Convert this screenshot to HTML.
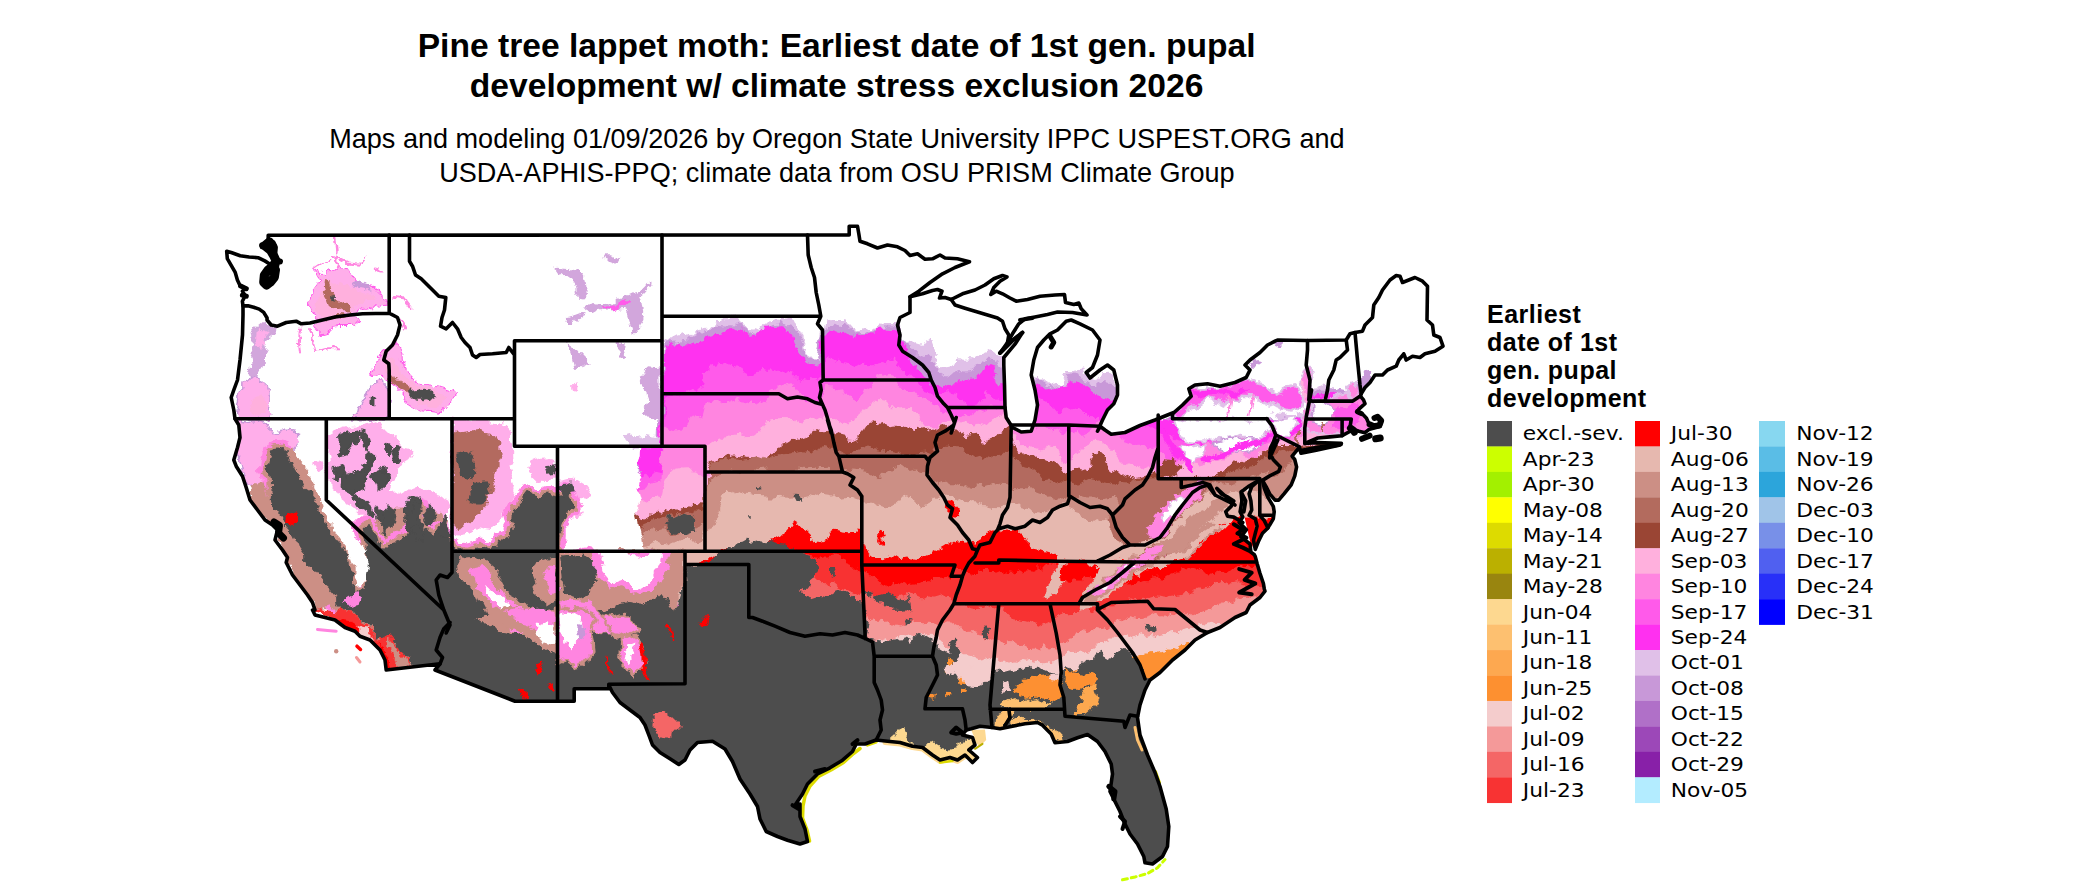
<!DOCTYPE html>
<html><head><meta charset="utf-8"><title>Pine tree lappet moth</title>
<style>
html,body{margin:0;padding:0;background:#fff;}
body{width:2100px;height:892px;overflow:hidden;position:relative;}
svg{position:absolute;left:0;top:0;display:block;}
.t{font-family:"Liberation Sans",Arial,Helvetica,sans-serif;fill:#000;}
.ttl{font-weight:bold;font-size:33.6px;text-anchor:middle;}
.sub{font-size:27.07px;text-anchor:middle;}
.lt{font-weight:bold;font-size:25px;letter-spacing:0.5px;}
.ll{font-family:"DejaVu Sans","Liberation Sans",sans-serif;font-size:20.2px;letter-spacing:0.0px;fill:#000;}
.b{fill:none;stroke:#000;stroke-width:3.6;stroke-linejoin:round;stroke-linecap:round;}
</style></head><body>
<svg width="2100" height="892" viewBox="0 0 2100 892">
<rect width="2100" height="892" fill="#fff"/>
<defs><clipPath id="us"><path d="M226.7,251.3L231.2,252.5L240.2,255.8L249.1,257.0L258.1,257.7L264.8,260.9L269.3,263.7L272.7,266.5L268.2,269.8L263.7,275.4L262.6,282.2L266.0,286.7L270.4,283.3L274.9,277.7L276.6,269.8L278.3,262.0L276.1,256.4L273.8,251.9L274.9,245.2L271.6,241.8L268.2,238.5L268.2,235.3L725.0,235.0L849.2,235.0L849.2,226.2L857.5,226.2L858.8,233.8L860.0,241.2L867.5,243.8L877.5,248.0L887.5,245.0L897.5,246.8L905.0,250.5L910.0,255.5L917.5,253.8L925.0,259.2L932.5,258.8L940.0,255.0L945.0,258.0L957.5,258.8L969.5,261.8L955.0,267.5L942.5,273.8L930.0,282.5L918.8,291.2L910.0,296.8L922.5,293.8L932.5,290.5L937.5,289.5L942.0,291.2L939.5,298.0L945.0,297.5L951.2,299.5L962.5,293.8L975.0,290.0L985.0,285.0L993.8,278.8L1002.5,275.5L1007.0,277.0L1000.0,281.2L993.8,287.5L990.8,294.5L996.2,291.2L1002.5,293.8L1010.0,298.0L1016.2,301.2L1027.5,299.5L1040.0,296.2L1055.0,295.0L1064.5,294.5L1065.5,302.5L1073.8,304.5L1078.8,303.0L1081.2,308.8L1087.0,315.0L1072.5,312.5L1057.5,312.0L1047.5,314.5L1035.0,317.0L1025.0,318.8L1018.8,323.8L1012.5,333.8L1007.5,342.5L1000.0,353.0L1012.5,340.5L1022.5,332.5L1015.0,344.2L1003.8,357.5L1003.8,365.0L1004.5,385.0L1005.0,407.5L1006.2,417.5L1012.5,427.5L1021.2,432.0L1031.2,431.2L1035.0,420.0L1037.5,405.0L1035.0,390.0L1031.2,375.0L1033.8,360.0L1037.5,347.5L1043.8,340.0L1050.0,333.8L1057.5,330.0L1066.2,321.2L1071.2,320.0L1080.0,323.8L1092.5,330.0L1100.0,340.0L1097.5,355.0L1092.5,367.5L1086.2,372.5L1090.0,378.0L1100.0,370.0L1107.5,365.0L1113.8,370.0L1117.5,385.0L1117.5,395.0L1113.8,403.8L1107.5,410.0L1102.5,420.0L1097.5,431.2L1100.0,426.2L1105.0,430.0L1111.2,434.2L1125.0,432.5L1140.0,425.5L1155.0,420.0L1173.8,412.5L1172.5,413.8L1182.5,405.0L1191.2,396.2L1188.8,388.8L1195.0,385.0L1207.5,383.8L1220.0,386.2L1235.0,382.5L1246.2,377.5L1250.0,370.0L1245.0,365.0L1250.0,360.0L1260.0,352.5L1267.5,345.0L1275.0,341.2L1277.5,340.0L1307.5,340.5L1346.2,340.0L1350.0,333.8L1355.0,332.5L1362.5,331.2L1365.0,325.0L1372.5,317.5L1373.8,305.0L1378.8,297.5L1382.5,290.0L1390.0,280.0L1396.2,275.5L1400.0,276.2L1402.5,282.5L1415.0,277.5L1422.5,281.2L1427.5,286.2L1427.0,320.0L1432.5,325.0L1433.8,335.0L1440.0,337.5L1443.0,346.2L1435.0,351.2L1425.0,353.8L1420.0,357.5L1412.5,356.2L1406.2,360.0L1403.8,353.8L1398.8,360.0L1396.2,366.2L1387.5,370.0L1382.5,375.0L1375.0,375.0L1370.0,382.5L1365.0,387.5L1361.2,393.8L1360.4,396.1L1363.5,399.9L1365.0,403.7L1358.9,409.1L1357.4,412.1L1362.0,413.6L1366.5,418.2L1368.8,423.5L1374.1,425.8L1379.5,425.1L1381.0,420.5L1377.2,416.7L1381.0,420.5L1380.2,426.6L1374.1,428.1L1368.8,429.6L1365.0,432.7L1358.9,431.2L1354.3,429.6L1349.8,431.5L1342.1,435.7L1329.9,436.9L1317.7,438.0L1304.8,443.4L1316.2,442.6L1341.4,443.4L1339.1,445.3L1316.2,450.2L1301.0,453.3L1299.5,447.2L1292.1,456.1L1294.8,459.7L1296.6,466.9L1294.8,475.9L1291.2,484.8L1284.0,493.8L1278.7,500.1L1275.1,500.1L1269.7,493.8L1266.1,486.6L1262.5,480.4L1264.3,488.4L1267.9,497.4L1273.3,506.4L1274.2,511.7L1273.3,518.9L1267.9,527.9L1262.5,533.3L1258.9,540.4L1255.3,549.4L1253.5,540.4L1257.1,526.1L1255.3,518.9L1249.1,515.3L1251.7,510.0L1250.9,501.0L1249.1,493.8L1251.7,486.6L1258.9,480.4L1248.2,486.6L1241.0,492.0L1241.9,501.0L1240.1,511.7L1242.8,517.1L1239.2,522.5L1246.4,529.7L1241.0,536.9L1250.0,544.0L1250.9,552.1L1254.4,554.8L1255.3,556.6L1257.1,563.4L1259.8,572.7L1263.4,583.5L1264.3,588.9L1265.0,591.2L1260.0,597.5L1250.0,605.0L1246.2,612.5L1235.0,617.5L1220.0,627.5L1207.5,632.5L1195.0,640.0L1185.0,650.0L1172.5,660.0L1160.0,672.5L1150.0,680.0L1145.0,690.0L1140.0,705.0L1137.5,717.5L1140.0,735.0L1147.5,755.0L1155.0,772.5L1160.0,786.5L1166.2,809.0L1168.8,826.5L1167.5,846.5L1162.5,856.5L1152.5,864.0L1145.0,862.8L1143.8,856.5L1137.5,844.0L1130.0,834.0L1123.8,821.5L1120.0,811.5L1115.0,801.5L1110.0,791.5L1112.5,774.0L1111.2,764.0L1105.0,751.5L1097.5,741.5L1087.5,734.5L1077.5,737.8L1067.5,741.5L1055.0,742.8L1051.2,734.0L1042.5,725.2L1037.5,722.5L1025.0,723.8L1012.5,726.2L1000.0,728.8L992.0,727.5L980.0,726.2L971.2,728.8L966.2,730.0L962.5,735.0L972.5,737.5L975.0,745.0L968.8,750.0L977.5,757.5L972.5,762.5L965.0,755.0L957.5,760.0L950.0,757.5L940.0,760.0L932.5,755.0L922.5,747.5L912.5,746.2L900.0,742.5L887.5,741.2L876.2,740.0L865.0,744.0L856.2,744.0L852.5,751.5L842.5,760.2L830.0,767.8L817.5,774.0L807.5,784.0L802.5,794.0L795.0,805.2L800.0,804.0L800.0,816.5L805.0,829.0L807.5,841.5L800.0,844.0L787.5,840.2L777.5,836.5L766.2,831.5L760.0,819.0L757.5,806.5L750.0,794.0L740.0,779.0L732.5,761.5L725.0,749.0L712.5,741.2L697.5,742.5L690.0,750.0L685.0,760.0L678.8,764.5L670.0,758.8L660.0,752.5L652.5,745.0L648.8,735.0L645.0,725.0L640.0,717.5L630.0,710.0L620.0,702.5L612.5,692.5L608.8,685.0L608.8,688.8L574.2,688.8L574.2,701.2L557.5,701.2L515.0,701.2L435.0,670.0L440.0,663.8L386.2,670.0L385.0,660.0L380.0,650.0L370.0,640.0L360.0,636.2L355.0,631.2L345.0,627.5L335.0,620.0L325.0,617.5L315.0,615.0L312.5,610.0L315.0,610.0L312.5,602.5L307.5,595.0L300.0,585.0L292.5,575.0L286.2,562.5L287.5,557.5L282.5,550.0L275.0,540.0L277.5,530.0L272.5,525.0L265.0,520.0L257.5,510.0L250.0,500.0L246.2,487.5L242.5,476.2L236.2,466.2L233.8,460.0L237.5,447.5L240.0,437.5L238.8,425.0L235.0,418.8L233.8,410.0L231.2,397.5L233.8,390.0L237.5,380.0L240.0,360.0L242.5,335.0L243.0,315.0L243.0,305.9L242.4,301.2L245.2,295.6L242.4,291.1L246.0,288.5L240.0,285.5L237.4,279.9L235.1,272.1L231.2,265.4L227.3,258.6Z"/></clipPath></defs>
<filter id="rg" x="0" y="0" width="100%" height="100%" filterUnits="userSpaceOnUse"><feTurbulence type="fractalNoise" baseFrequency="0.045" numOctaves="2" seed="3" result="n"/><feDisplacementMap in="SourceGraphic" in2="n" scale="13" xChannelSelector="R" yChannelSelector="G" result="d1"/><feTurbulence type="fractalNoise" baseFrequency="0.22" numOctaves="1" seed="11" result="n2"/><feDisplacementMap in="d1" in2="n2" scale="6" xChannelSelector="G" yChannelSelector="R"/></filter>
<g clip-path="url(#us)"><rect x="150" y="200" width="1350" height="700" fill="#fff"/><g filter="url(#rg)">
<path d="M635.9,900.0L635.6,442.6L640.3,441.1L644.1,441.2L647.1,440.6L651.1,439.3L655.1,437.2L659.8,439.3L663.2,339.3L668.3,341.1L672.2,337.8L677.0,335.3L680.7,335.2L683.3,333.3L687.6,334.9L691.4,332.8L696.3,330.8L700.1,328.1L703.1,327.1L708.4,326.4L711.6,325.5L715.9,322.9L720.6,323.1L723.5,321.3L728.1,321.2L732.5,318.1L737.0,317.3L739.8,319.8L743.3,323.4L747.1,328.3L752.5,328.5L756.8,328.2L760.4,330.0L764.2,328.1L768.7,325.4L771.9,321.7L775.1,321.5L780.3,322.2L784.6,319.1L787.8,320.7L791.0,319.8L795.3,320.0L799.1,328.6L803.3,338.5L807.8,352.0L811.2,354.3L816.1,360.0L820.6,341.5L823.6,315.9L827.7,318.9L832.9,317.5L835.4,318.8L839.5,319.3L844.2,317.9L847.0,321.8L851.7,326.9L856.9,330.4L860.0,328.6L864.4,324.8L868.8,327.7L872.7,328.3L875.8,326.8L879.2,326.8L883.1,323.5L887.4,323.9L891.7,323.9L895.0,324.7L899.2,337.4L903.1,345.7L908.2,343.6L911.5,345.1L915.7,344.2L920.7,345.7L923.9,341.7L927.2,339.7L931.7,340.3L936.7,354.6L939.0,371.8L944.1,368.6L948.1,368.1L952.1,366.9L956.7,358.5L959.5,358.2L963.3,360.8L968.1,360.4L971.7,357.1L976.6,358.7L980.7,355.0L984.6,351.7L987.5,350.7L991.7,349.5L995.1,351.3L999.5,355.8L1004.9,358.4L1008.9,363.4L1012.9,363.7L1015.4,366.1L1019.4,368.8L1024.2,373.6L1028.7,373.9L1032.3,377.2L1035.2,378.3L1040.8,379.6L1044.5,379.2L1047.4,381.2L1051.7,381.7L1056.9,380.4L1059.8,383.0L1064.4,375.4L1067.3,370.9L1072.8,371.0L1075.3,370.6L1081.0,369.4L1083.7,373.6L1087.3,375.7L1092.9,379.6L1096.1,380.2L1099.9,374.0L1104.7,370.3L1107.5,369.7L1111.5,374.3L1115.5,380.7L1119.3,386.6L1123.7,388.8L1128.2,394.6L1131.8,398.7L1136.0,401.1L1140.0,403.1L1143.9,405.1L1147.0,409.0L1151.3,409.1L1156.5,410.8L1159.7,412.1L1164.1,413.1L1167.2,412.2L1171.5,411.1L1176.5,412.0L1180.1,413.0L1184.8,411.8L1188.2,412.0L1192.0,412.8L1195.9,412.1L1200.0,413.8L1204.4,413.5L1208.9,411.0L1212.1,413.8L1216.7,410.5L1219.2,411.8L1223.1,411.0L1227.1,412.7L1232.6,413.6L1235.3,412.9L1240.3,410.6L1244.8,413.9L1247.4,413.8L1251.8,411.9L1257.0,413.3L1259.3,411.7L1264.0,411.4L1267.4,411.3L1272.4,410.1L1276.1,411.8L1279.0,411.3L1284.2,412.0L1287.1,413.9L1292.6,413.9L1295.2,411.1L1299.1,413.1L1303.5,401.7L1307.8,396.0L1312.6,389.0L1315.3,391.7L1320.1,390.8L1323.2,388.2L1328.4,389.7L1331.1,391.8L1336.3,391.2L1339.2,391.4L1343.1,391.5L1347.9,389.4L1352.1,391.7L1355.5,388.5L1360.1,389.0L1363.2,388.6L1367.1,388.8L1371.6,389.2L1376.5,389.2L1380.0,388.7L1383.7,388.1L1387.5,388.1L1392.5,390.2L1395.4,389.9L1400.9,388.4L1404.6,389.7L1408.0,391.3L1411.8,390.0L1416.4,391.9L1420.0,900.0Z" fill="#e0c0e8"/>
<path d="M635.9,900.0L635.7,450.7L640.4,449.0L643.8,446.5L647.1,444.1L651.1,445.1L655.5,441.7L659.2,443.4L664.7,343.7L667.6,341.2L671.6,341.3L675.3,340.6L679.5,341.9L684.9,339.0L687.5,339.3L691.6,335.2L695.0,333.5L699.9,332.2L703.4,330.6L707.0,328.3L711.2,327.8L715.1,325.6L719.6,325.9L724.2,326.5L728.5,326.3L732.4,326.5L735.8,323.6L741.0,322.0L744.4,329.1L747.1,332.4L752.8,332.3L756.5,333.1L759.3,332.2L764.0,332.4L768.6,329.2L772.2,327.3L776.4,326.1L779.5,322.8L783.3,323.8L787.2,326.2L792.1,326.0L796.3,331.3L800.0,334.9L804.6,346.8L808.0,354.4L812.3,356.5L816.5,361.3L819.1,349.1L824.5,324.7L828.5,325.5L832.0,324.7L836.0,326.9L840.5,325.9L844.3,323.1L847.3,326.5L852.5,330.6L856.1,332.3L859.1,332.7L864.3,333.5L868.4,331.2L872.0,331.1L875.9,328.5L880.8,327.0L885.0,328.2L887.0,325.8L892.6,328.0L895.9,325.6L899.4,341.8L903.4,345.8L907.3,348.0L912.9,349.2L916.6,353.4L920.8,355.5L923.5,356.7L928.0,354.4L931.0,357.6L935.9,366.4L939.3,376.0L943.6,378.2L947.0,378.2L952.7,373.2L956.9,371.5L960.8,370.0L963.7,370.4L969.0,370.3L971.7,368.3L975.6,364.9L979.2,364.6L983.6,361.7L987.5,356.5L992.0,358.5L995.7,367.3L1000.8,370.2L1004.3,372.9L1008.9,373.1L1012.4,372.6L1016.5,375.6L1020.5,377.8L1023.6,375.6L1028.9,376.3L1031.9,378.0L1035.6,380.5L1041.0,379.7L1044.3,381.5L1048.1,383.3L1051.3,383.0L1055.4,386.0L1060.0,383.0L1064.8,382.5L1067.9,375.5L1071.4,373.5L1075.7,373.7L1079.5,374.8L1084.1,381.5L1088.5,383.7L1091.8,386.1L1095.8,386.0L1099.1,383.0L1104.9,382.1L1108.0,383.7L1112.7,383.8L1115.5,387.6L1119.8,390.6L1124.9,395.0L1128.7,394.8L1131.1,400.8L1136.8,403.3L1140.2,404.7L1143.8,410.3L1148.7,411.7L1152.9,410.8L1155.2,411.9L1160.0,415.5L1164.9,415.7L1168.3,416.2L1171.9,415.8L1175.1,417.4L1179.5,418.5L1184.3,416.5L1187.3,416.5L1192.3,418.2L1195.2,415.2L1200.0,416.5L1203.8,414.3L1208.2,412.7L1211.6,414.0L1216.9,414.5L1220.8,413.9L1223.5,413.1L1228.9,415.2L1231.6,412.6L1236.0,415.3L1239.8,413.4L1244.3,415.8L1247.5,411.9L1251.7,413.2L1256.4,412.3L1260.6,414.8L1264.0,413.3L1268.9,414.5L1272.6,415.0L1275.4,417.8L1279.6,419.0L1284.0,416.1L1287.4,416.8L1292.3,418.5L1295.3,415.8L1299.4,417.6L1303.3,404.6L1307.1,396.8L1312.8,394.3L1316.5,394.9L1320.9,392.4L1323.4,394.8L1328.5,390.9L1332.3,391.8L1335.7,391.0L1339.3,389.1L1343.6,390.0L1348.9,388.9L1352.9,389.3L1355.7,392.2L1360.6,391.3L1363.1,392.3L1367.7,394.8L1371.4,393.1L1376.8,392.0L1379.8,395.2L1384.5,391.9L1387.1,391.8L1392.8,392.3L1396.5,394.9L1399.7,392.5L1404.9,394.2L1407.5,394.9L1411.6,393.4L1415.0,395.3L1420.0,900.0Z" fill="#c898d8"/>
<path d="M635.9,900.0L636.8,452.5L640.9,448.7L643.5,449.0L648.9,449.5L651.8,445.8L655.9,446.4L660.9,444.7L664.6,346.7L668.6,346.4L672.2,344.2L675.6,343.9L680.6,342.3L683.4,344.1L687.5,340.4L691.1,341.4L695.7,342.2L700.8,341.3L703.5,336.8L707.2,337.5L712.4,336.5L715.5,335.3L720.2,335.0L724.5,334.4L728.3,330.2L732.7,329.3L736.1,328.0L740.5,325.6L743.5,331.9L747.3,335.4L752.2,334.2L755.8,336.1L760.0,332.1L764.6,332.4L769.0,328.2L771.9,329.0L776.7,329.2L779.1,326.7L783.2,327.4L788.9,332.0L792.9,334.1L796.7,345.3L799.5,354.2L804.9,356.5L808.2,363.4L811.4,365.3L815.3,367.7L819.5,363.7L824.3,336.8L827.0,330.8L832.4,332.2L835.6,333.6L840.6,333.9L843.1,331.2L847.8,334.2L852.3,334.4L855.3,338.0L859.8,335.4L863.6,337.1L867.6,333.8L871.7,331.2L876.7,331.7L879.7,327.5L884.5,326.6L887.0,329.7L891.8,330.2L895.8,331.2L899.9,343.7L903.0,349.2L908.3,354.6L911.2,358.5L915.7,364.0L919.3,369.1L924.0,375.7L927.2,378.0L932.6,383.4L935.4,383.0L940.9,389.4L944.0,384.7L948.9,385.1L952.8,384.7L956.6,381.2L960.6,379.9L963.8,381.1L968.7,377.6L971.4,377.7L976.0,376.3L979.2,372.7L984.4,372.3L987.1,365.7L992.5,367.7L996.7,379.5L1000.2,385.2L1004.3,385.2L1007.8,387.3L1011.9,388.6L1015.9,388.8L1019.0,390.5L1024.0,387.8L1028.5,388.8L1031.9,385.3L1035.9,383.9L1039.3,385.2L1043.2,386.1L1048.0,385.3L1052.3,385.3L1056.5,387.1L1060.0,383.2L1064.0,382.5L1068.9,379.5L1072.7,382.5L1076.5,382.8L1079.4,384.4L1084.0,387.3L1088.8,387.2L1092.6,392.7L1095.1,392.4L1100.5,393.6L1104.8,396.1L1108.6,397.6L1112.0,402.2L1115.4,400.6L1120.0,401.8L1123.1,402.7L1127.3,407.2L1132.4,408.6L1135.3,409.6L1139.2,410.1L1144.3,411.2L1148.7,413.8L1152.2,416.9L1155.2,419.2L1160.3,418.6L1164.6,418.1L1169.0,419.3L1171.7,420.1L1175.9,417.7L1180.5,417.2L1184.6,418.0L1188.3,420.9L1192.2,419.7L1195.6,417.0L1199.1,417.6L1204.2,418.7L1208.0,420.6L1211.3,417.9L1216.3,417.1L1219.0,418.4L1223.2,418.4L1227.4,419.3L1232.2,417.8L1236.2,418.9L1239.3,420.7L1243.5,417.6L1247.2,419.6L1252.7,420.1L1255.8,418.1L1259.0,419.6L1264.1,418.4L1268.3,418.8L1272.9,419.9L1275.5,420.6L1279.1,419.1L1283.8,418.0L1287.1,420.1L1291.0,419.2L1296.9,417.6L1299.4,419.4L1304.0,410.4L1308.6,399.3L1311.6,395.2L1315.1,397.6L1320.6,396.9L1323.0,397.4L1328.5,395.9L1332.5,395.8L1335.5,394.4L1339.5,394.2L1343.7,397.0L1348.4,397.4L1352.4,395.1L1356.1,395.7L1360.6,396.1L1363.5,396.6L1368.9,394.9L1372.8,394.1L1375.5,394.9L1380.5,397.8L1384.5,395.3L1388.8,395.3L1391.5,397.6L1396.3,396.8L1400.3,397.9L1403.9,397.4L1408.4,397.4L1411.9,396.9L1416.1,395.2L1420.0,900.0Z" fill="#ff30f0"/>
<path d="M635.9,900.0L635.4,470.0L639.2,474.4L643.3,471.5L647.2,476.4L651.7,472.2L655.1,470.7L660.4,471.9L664.4,400.3L667.1,397.5L671.7,397.1L676.6,396.5L679.1,396.2L684.8,396.2L687.2,392.0L691.2,390.2L696.7,392.3L700.3,389.9L704.3,384.2L707.2,368.3L712.5,366.1L715.6,365.1L719.0,363.1L723.6,365.4L727.7,364.3L732.9,366.3L736.7,367.9L739.1,367.6L743.9,374.6L747.7,375.2L752.1,373.3L756.7,372.1L760.6,371.1L763.0,369.7L768.5,372.1L771.0,368.8L776.0,370.8L779.4,369.3L783.7,371.1L787.5,372.5L791.6,368.7L796.4,374.9L799.2,377.9L803.2,379.4L808.4,380.6L812.3,378.9L815.8,380.8L820.8,376.4L824.8,359.8L827.4,358.2L832.8,362.2L835.8,365.8L839.5,363.1L844.1,364.0L848.5,365.1L851.7,365.4L855.3,369.2L860.3,367.4L863.3,365.6L868.5,366.3L871.3,366.0L876.8,364.6L879.4,364.1L884.4,365.2L887.3,360.3L891.5,359.3L896.0,356.5L899.7,365.3L905.0,370.2L907.2,374.4L911.2,375.6L917.0,382.4L920.5,385.2L923.4,389.2L927.2,389.7L931.8,390.6L935.8,394.8L940.4,393.8L944.3,392.2L947.3,392.7L951.8,394.7L956.8,395.9L960.1,400.0L963.8,399.7L968.4,404.3L972.5,403.6L976.7,402.4L980.3,398.9L983.6,396.8L987.2,390.3L992.6,392.8L996.3,397.4L999.8,400.7L1004.2,400.2L1008.4,402.2L1011.4,408.2L1016.6,409.0L1020.0,411.5L1023.1,406.9L1027.3,405.0L1032.9,400.8L1035.2,399.0L1040.1,399.9L1044.0,401.7L1048.7,404.2L1051.8,408.5L1055.4,408.8L1059.8,413.8L1063.2,416.5L1067.7,410.6L1071.5,410.4L1075.0,409.5L1079.8,411.9L1083.7,411.9L1087.4,416.0L1092.9,416.3L1095.4,418.3L1099.8,416.7L1103.3,422.3L1108.6,425.8L1111.9,426.1L1115.5,427.6L1119.7,424.6L1124.6,424.2L1127.9,420.9L1132.1,420.3L1136.7,422.7L1140.7,424.1L1143.8,426.4L1147.9,428.4L1151.0,432.4L1155.6,432.0L1159.6,434.9L1163.9,435.9L1168.3,434.6L1172.9,436.9L1175.1,437.3L1180.8,438.5L1183.3,440.7L1188.3,438.9L1191.0,445.7L1196.3,443.5L1199.2,443.2L1203.5,445.4L1207.7,440.3L1212.8,441.0L1215.3,438.9L1220.2,435.7L1224.3,434.1L1228.6,432.5L1231.4,431.2L1236.1,431.3L1239.9,431.8L1244.1,428.2L1247.5,426.8L1252.0,425.0L1255.9,423.8L1260.0,424.1L1264.1,424.9L1267.0,424.7L1271.9,424.2L1276.3,427.5L1279.7,427.9L1284.9,428.7L1288.3,433.4L1291.1,434.4L1296.4,436.4L1299.7,436.0L1304.0,425.4L1308.8,414.8L1312.4,413.1L1315.7,413.3L1319.7,411.1L1324.1,412.8L1327.4,411.3L1331.8,411.9L1336.7,409.9L1340.7,409.0L1344.0,406.2L1348.0,407.3L1352.3,404.2L1355.7,400.4L1359.6,401.3L1364.3,403.1L1367.1,404.6L1372.8,406.1L1375.1,407.4L1379.0,409.0L1384.8,412.5L1388.3,413.9L1392.8,412.8L1396.2,412.2L1400.4,411.4L1404.4,409.2L1408.3,410.7L1412.5,409.7L1415.4,410.6L1420.0,900.0Z" fill="#ff5aea"/>
<path d="M635.9,900.0L636.5,493.2L640.3,490.0L644.6,489.4L648.1,483.7L651.6,482.3L655.6,481.1L660.3,483.1L663.1,433.2L667.1,430.6L672.6,432.0L676.8,429.6L679.0,426.8L684.2,426.3L689.0,420.8L691.8,416.3L696.3,415.2L699.3,414.1L703.0,418.5L707.2,401.4L711.2,403.1L715.3,400.6L720.4,402.5L724.5,402.0L727.1,403.7L732.4,402.1L736.5,396.1L740.3,397.9L743.9,402.0L747.5,403.4L752.4,400.9L755.0,406.0L760.6,403.1L763.6,404.3L767.3,401.5L772.0,393.2L775.7,391.5L779.9,387.1L783.3,383.8L787.7,381.9L792.3,380.9L795.8,388.2L800.9,393.2L804.1,394.8L807.1,402.0L812.4,402.6L815.7,402.3L821.0,400.4L824.2,384.9L827.9,384.7L831.8,385.4L836.2,388.5L840.6,387.3L843.0,390.2L847.8,396.9L852.6,402.0L855.1,402.6L860.6,398.1L864.1,390.0L868.7,387.3L872.4,383.2L875.7,375.1L880.1,375.7L883.4,374.4L888.9,372.4L892.2,375.9L895.9,374.7L899.5,385.3L904.6,386.7L907.2,390.7L912.5,389.4L916.2,394.1L920.8,394.0L924.0,396.4L927.4,398.2L931.4,405.4L935.7,408.3L939.8,411.8L943.3,411.0L949.0,413.8L951.2,416.2L956.6,414.9L960.2,414.9L964.0,411.6L967.1,414.0L972.7,409.2L976.1,406.8L980.6,407.5L984.9,409.6L988.6,408.1L991.5,404.3L995.4,408.7L999.2,407.3L1004.1,407.2L1007.9,402.6L1012.8,408.0L1016.2,412.8L1019.2,417.0L1023.5,416.7L1028.3,420.8L1032.3,420.3L1035.9,421.4L1040.9,428.5L1043.4,426.5L1047.5,429.5L1052.8,431.3L1056.7,425.3L1060.6,433.0L1064.3,436.2L1067.1,431.1L1072.5,433.8L1076.4,430.5L1080.2,435.7L1083.2,435.5L1087.5,433.6L1092.0,430.5L1095.5,425.0L1100.4,420.1L1104.4,420.7L1107.1,428.9L1111.4,430.9L1116.7,433.7L1119.3,434.7L1123.2,440.5L1128.7,442.4L1131.9,443.6L1136.6,446.1L1140.3,444.9L1143.4,444.1L1148.4,446.0L1151.3,446.3L1155.5,445.6L1159.3,448.1L1164.7,451.8L1167.3,456.0L1171.6,460.0L1175.2,461.6L1179.1,461.1L1184.3,456.3L1188.0,454.3L1191.5,450.8L1195.7,451.7L1201.0,448.8L1203.2,444.0L1208.8,442.4L1212.5,444.0L1217.0,443.5L1220.6,445.1L1223.3,442.3L1228.7,443.1L1231.4,440.3L1236.8,436.5L1240.1,433.7L1243.4,435.3L1248.4,432.5L1251.2,433.1L1256.2,437.2L1259.5,438.3L1264.2,443.0L1268.6,443.7L1271.4,441.3L1276.5,441.9L1280.4,438.3L1284.6,437.2L1288.7,437.3L1292.0,431.3L1296.8,433.1L1300.7,432.4L1303.4,430.9L1307.7,423.4L1311.7,423.2L1315.0,422.0L1319.9,420.2L1323.2,418.8L1328.6,416.7L1331.6,413.4L1335.8,411.9L1339.1,412.0L1344.9,411.0L1348.0,413.3L1352.1,413.6L1356.9,417.8L1359.4,419.7L1363.5,424.9L1367.1,421.7L1372.4,421.7L1375.0,422.7L1380.2,421.3L1384.4,418.7L1388.7,421.9L1391.1,419.7L1396.0,422.8L1399.6,421.9L1403.8,422.4L1408.2,425.4L1411.3,422.2L1416.5,417.4L1420.0,900.0Z" fill="#ff85e0"/>
<path d="M635.9,900.0L636.7,501.8L639.8,501.9L644.7,502.5L647.8,504.2L652.6,500.4L655.5,499.2L659.9,500.5L664.6,477.7L668.6,474.6L671.1,470.3L676.9,470.5L679.5,467.3L684.3,467.4L688.1,467.3L691.9,471.3L695.0,471.5L700.9,476.1L704.9,476.1L708.6,445.4L712.8,439.6L716.3,438.8L720.4,436.6L724.1,438.1L728.2,433.5L732.0,433.9L736.9,433.1L739.6,435.7L743.2,437.2L748.9,436.8L751.5,436.3L756.1,433.9L759.2,430.4L763.6,426.9L767.6,421.8L771.2,420.3L776.7,419.2L780.1,418.0L783.4,417.9L787.9,418.5L792.2,419.2L795.6,420.6L799.4,423.1L803.8,423.6L807.0,422.0L812.7,419.4L816.1,419.7L819.6,421.6L823.6,416.6L827.3,414.3L832.7,419.4L835.1,421.4L839.9,423.9L843.2,421.8L848.9,425.9L851.3,422.8L855.7,421.0L860.2,413.6L864.6,405.8L868.5,403.3L872.5,401.1L876.6,402.5L880.8,400.0L884.7,400.7L888.5,404.6L892.0,406.5L896.1,402.7L900.6,406.8L904.2,405.9L907.9,408.7L912.4,410.6L915.8,414.9L919.8,417.2L924.6,423.5L928.0,425.5L931.4,427.8L935.3,428.4L940.2,423.9L944.8,421.9L948.7,421.7L952.9,418.1L955.9,423.8L959.0,421.1L964.1,424.8L968.8,426.6L972.1,427.5L976.0,424.9L980.4,424.8L983.7,425.8L987.7,424.0L992.4,419.3L995.2,418.0L999.8,417.9L1004.1,416.8L1008.9,412.2L1011.9,433.2L1017.0,440.4L1020.1,446.3L1023.3,446.1L1029.0,449.1L1032.0,444.7L1036.8,446.2L1040.6,447.6L1044.8,445.7L1047.3,446.3L1052.0,447.3L1055.4,445.8L1060.3,457.4L1063.7,464.3L1068.3,458.4L1071.8,457.7L1075.6,452.7L1079.0,450.6L1084.7,450.5L1088.3,444.9L1092.0,442.2L1095.5,437.7L1100.1,437.8L1104.1,439.6L1107.2,449.6L1112.5,454.7L1115.2,459.8L1120.0,465.5L1124.2,466.4L1127.1,463.1L1132.5,465.0L1136.4,465.9L1139.3,465.9L1143.2,469.6L1148.2,467.5L1151.9,466.6L1155.1,471.0L1160.2,473.3L1163.9,472.7L1167.5,469.5L1172.9,470.9L1175.6,468.5L1180.6,463.2L1184.2,464.9L1188.0,464.2L1191.5,461.7L1196.4,461.7L1199.6,465.8L1204.0,466.1L1207.5,463.1L1211.7,462.7L1216.9,462.3L1220.1,459.0L1224.1,457.5L1227.8,453.7L1231.2,456.2L1235.7,453.0L1239.4,453.5L1243.5,453.0L1248.3,455.6L1251.3,457.6L1255.2,454.5L1260.7,451.8L1263.9,452.3L1268.6,445.5L1271.7,445.1L1275.8,443.7L1279.4,442.5L1284.0,438.3L1287.9,437.7L1292.4,438.9L1296.8,441.3L1299.7,439.8L1304.2,436.1L1308.7,431.6L1312.0,430.5L1315.5,429.8L1319.8,428.2L1324.1,426.5L1327.8,426.5L1331.4,432.1L1335.6,433.2L1339.2,434.6L1343.7,435.5L1347.6,433.6L1351.6,434.0L1355.3,435.7L1359.6,433.1L1364.8,434.0L1368.8,434.0L1371.3,431.2L1375.1,433.9L1380.3,433.0L1383.8,435.2L1388.4,433.1L1392.7,432.6L1396.3,430.0L1399.2,431.2L1404.5,427.6L1407.1,421.9L1411.3,421.3L1415.6,421.8L1420.0,900.0Z" fill="#ffb0dd"/>
<path d="M635.9,900.0L635.1,511.3L640.3,514.8L644.7,516.5L648.4,514.6L651.9,515.2L655.7,511.7L660.7,513.5L663.6,509.9L668.7,510.9L671.1,508.6L675.2,509.6L679.4,509.4L684.5,505.8L688.4,506.2L692.5,507.1L695.6,503.8L700.9,504.3L704.9,504.6L708.5,464.9L712.3,462.4L715.1,462.1L719.9,460.3L724.9,457.7L728.5,456.4L732.4,458.1L735.5,456.5L740.9,457.2L744.1,456.1L747.1,456.8L751.8,457.4L755.6,459.2L760.4,460.3L763.5,456.3L768.0,454.6L772.9,452.2L775.6,452.1L779.3,447.7L783.7,445.6L788.1,443.9L791.3,442.0L796.2,440.4L800.5,440.8L803.2,438.0L807.7,436.6L811.1,433.9L815.4,433.1L819.9,430.5L823.6,431.3L827.7,431.1L831.1,431.8L837.0,435.5L839.2,436.4L845.0,438.0L847.2,441.7L851.9,442.0L856.1,440.0L860.8,435.1L864.3,430.5L868.3,424.7L871.5,423.3L875.1,425.2L880.7,423.0L883.4,425.2L888.7,427.3L891.3,427.0L896.7,426.4L899.7,423.9L904.7,425.9L907.7,428.2L911.7,429.7L915.5,426.5L920.1,428.2L924.6,428.8L928.8,431.2L932.0,431.1L935.3,428.8L940.2,426.0L944.4,424.8L947.9,427.0L951.2,425.7L955.9,430.9L960.4,433.2L964.7,438.3L968.6,436.9L971.6,437.2L976.0,436.6L979.7,439.2L984.3,443.0L988.8,439.8L991.6,438.8L996.1,436.5L999.4,433.5L1003.6,430.2L1008.9,426.0L1012.7,448.2L1016.9,454.0L1020.6,453.2L1024.4,456.3L1027.6,456.2L1032.9,455.5L1036.3,454.4L1039.7,457.6L1043.1,457.1L1048.4,459.7L1051.2,460.0L1055.7,459.2L1059.8,470.1L1064.1,475.6L1067.2,474.3L1072.8,471.7L1075.2,469.5L1079.5,469.4L1084.1,470.6L1088.0,469.0L1091.5,464.4L1095.2,457.5L1100.2,452.2L1103.8,455.5L1107.9,469.3L1112.1,472.8L1116.5,474.6L1121.0,478.9L1123.2,480.3L1127.8,478.9L1132.9,480.8L1136.5,479.8L1140.6,478.7L1143.5,478.4L1147.0,477.3L1151.4,472.3L1156.4,473.0L1160.8,475.2L1164.7,477.2L1168.8,480.1L1171.3,479.4L1175.7,479.6L1180.4,480.0L1183.2,478.6L1188.5,480.8L1192.4,477.7L1196.2,478.0L1200.1,480.3L1203.2,480.4L1208.4,477.7L1211.4,478.2L1216.7,478.4L1219.2,474.4L1223.2,474.3L1227.4,470.4L1231.6,468.0L1235.8,463.3L1240.8,461.9L1244.4,460.6L1248.9,456.3L1251.7,455.4L1256.0,456.5L1260.6,452.1L1263.4,453.2L1268.4,450.0L1272.0,447.5L1276.7,446.9L1280.7,447.1L1283.2,445.4L1287.4,446.8L1292.2,443.9L1295.3,446.0L1299.9,447.8L1303.8,446.4L1307.0,446.6L1311.7,444.0L1315.9,446.9L1319.1,443.2L1324.3,443.1L1327.5,443.2L1331.5,442.6L1336.1,443.2L1341.0,439.1L1344.1,440.9L1348.7,440.1L1352.3,439.2L1355.7,438.0L1360.6,440.1L1364.9,439.4L1367.6,439.7L1372.5,438.8L1376.3,438.2L1380.1,438.4L1383.1,438.2L1387.6,440.5L1392.0,438.3L1395.5,437.8L1399.7,437.4L1403.0,440.1L1407.9,438.6L1412.1,438.0L1415.3,437.2L1420.0,900.0Z" fill="#9a4534"/>
<path d="M635.9,900.0L635.6,521.3L640.5,526.2L644.9,523.0L648.8,521.5L651.2,518.4L656.2,520.6L659.7,519.0L663.9,518.5L667.1,516.3L672.8,514.8L675.5,513.1L679.3,513.3L684.4,512.5L687.8,511.8L692.2,513.5L696.3,510.4L700.5,512.5L704.2,508.7L708.6,467.6L711.7,463.5L715.4,463.4L720.8,462.3L724.8,459.3L727.7,460.7L732.3,459.1L736.4,458.5L739.1,458.5L743.1,458.9L747.7,458.1L752.2,457.0L755.9,456.0L760.9,457.8L765.0,455.8L768.2,458.1L771.7,455.7L775.3,455.4L780.5,454.2L784.6,454.3L788.1,453.9L792.1,453.3L796.2,451.5L800.5,450.7L804.4,451.9L808.6,449.7L812.5,451.6L815.9,448.5L820.0,450.3L823.3,446.4L828.0,449.5L832.5,449.8L837.0,450.6L840.5,451.6L843.1,453.3L847.1,453.9L852.1,451.2L856.9,450.4L859.3,448.2L864.5,449.4L867.3,446.6L872.6,448.3L877.0,450.2L880.3,450.7L884.6,452.1L887.6,454.2L891.2,453.9L895.1,453.9L899.8,455.1L903.1,453.5L907.8,454.3L912.9,452.7L915.4,450.9L919.5,451.0L923.5,450.6L928.5,452.6L931.6,454.2L935.4,447.5L939.3,446.8L944.7,445.5L948.5,448.3L951.6,447.3L956.0,450.1L959.3,450.2L964.2,450.1L968.2,452.5L971.4,453.3L975.7,453.7L980.7,452.4L984.7,456.1L987.6,453.2L991.2,455.8L995.0,454.8L999.3,453.3L1003.2,451.8L1008.4,452.0L1011.7,457.1L1016.4,460.6L1021.0,461.2L1023.5,467.6L1028.4,468.2L1032.0,472.1L1035.9,474.9L1039.0,479.8L1043.6,480.2L1047.2,479.6L1051.3,480.2L1055.4,482.2L1059.3,483.4L1064.0,482.2L1067.7,484.8L1072.8,484.1L1075.4,485.9L1080.8,484.6L1083.5,481.0L1087.5,479.0L1091.1,479.0L1095.8,479.7L1099.7,478.5L1104.4,481.6L1108.1,482.2L1112.4,484.7L1116.7,484.8L1119.8,484.3L1123.8,487.4L1127.8,485.9L1131.8,485.7L1137.0,485.5L1140.2,487.8L1143.5,485.6L1147.8,483.3L1151.4,481.8L1156.7,483.0L1160.8,479.6L1164.4,481.1L1168.3,482.4L1171.6,484.3L1175.0,483.9L1180.7,482.9L1184.2,484.6L1187.5,483.1L1192.5,482.1L1196.4,482.1L1200.1,482.7L1204.4,481.4L1208.3,482.0L1211.4,482.1L1215.5,482.9L1219.9,482.0L1224.0,479.2L1227.4,476.0L1232.9,475.4L1236.0,473.2L1240.6,469.5L1243.3,468.9L1247.9,465.6L1252.7,464.7L1256.7,460.6L1259.8,462.4L1264.6,458.9L1267.3,458.4L1271.2,457.3L1276.6,456.1L1279.9,452.8L1283.8,454.2L1288.4,452.2L1292.0,453.9L1296.5,452.0L1300.4,453.3L1304.0,452.8L1307.7,453.2L1311.8,452.0L1315.4,454.0L1319.1,452.6L1324.4,452.9L1327.6,452.8L1332.7,452.3L1336.3,455.0L1339.4,453.5L1344.6,454.2L1347.7,452.1L1351.9,453.3L1356.4,453.0L1359.8,454.3L1364.6,453.2L1367.8,454.0L1372.8,452.6L1376.9,454.5L1379.7,454.3L1383.7,452.2L1388.5,453.3L1392.1,453.7L1396.8,454.7L1399.1,454.1L1403.9,453.6L1408.7,453.4L1411.9,455.2L1415.9,453.7L1420.0,900.0Z" fill="#b36b5e"/>
<path d="M635.9,900.0L636.0,535.2L640.3,538.9L643.8,532.1L648.4,529.8L652.5,529.1L655.2,528.3L659.2,531.6L663.2,530.2L668.5,533.1L671.1,534.8L676.4,534.4L679.1,533.2L683.8,530.8L689.0,529.6L692.7,525.2L695.7,524.6L699.0,524.3L703.5,519.6L707.6,482.7L712.7,476.4L716.0,474.4L719.1,472.4L724.7,472.7L728.7,470.2L731.4,469.3L736.1,470.2L739.9,470.5L744.2,469.8L748.6,469.0L752.8,470.2L755.1,469.5L760.1,469.9L764.1,469.6L767.5,471.4L771.6,471.2L776.6,470.8L779.9,471.8L783.9,471.3L787.1,469.5L792.3,467.9L796.7,467.7L800.2,467.8L804.8,469.2L808.6,469.0L812.3,469.6L815.6,468.0L820.7,467.7L824.8,467.9L827.2,467.7L832.6,471.0L835.8,470.2L839.5,471.3L844.4,468.9L847.1,471.3L851.1,472.3L855.6,470.6L860.2,471.3L864.1,471.7L868.8,473.2L872.7,473.5L876.6,476.8L879.8,471.8L883.8,472.4L887.4,470.5L891.2,468.6L896.5,467.3L900.4,466.4L904.7,466.7L908.8,470.1L912.9,468.7L915.6,468.5L920.5,470.2L924.9,470.0L928.0,474.2L932.2,476.2L935.2,478.0L939.5,483.9L944.7,481.5L948.8,480.8L952.2,484.2L955.7,484.3L960.3,481.7L963.7,483.8L967.5,485.5L971.4,486.3L975.6,484.3L980.1,485.0L984.1,488.0L988.2,487.2L991.1,485.7L995.2,484.6L999.3,482.8L1003.7,483.0L1008.3,483.3L1011.3,487.3L1015.7,488.2L1020.7,488.3L1023.3,488.2L1028.8,489.6L1032.0,492.5L1035.2,493.6L1039.3,495.1L1044.0,495.1L1047.4,495.8L1051.4,495.4L1055.5,498.6L1060.0,498.4L1063.0,497.8L1068.0,496.4L1072.1,495.7L1075.5,495.9L1079.3,494.2L1083.1,495.3L1088.0,495.6L1092.8,495.5L1096.2,496.7L1100.2,499.4L1104.4,497.4L1107.5,500.0L1113.0,497.6L1116.2,498.4L1120.6,495.7L1124.6,495.4L1128.8,493.2L1132.9,493.9L1135.8,492.0L1139.5,493.3L1144.4,490.2L1147.7,489.2L1151.4,488.7L1155.7,490.7L1161.0,489.4L1164.0,487.7L1168.6,488.6L1172.5,487.1L1175.4,486.7L1180.7,487.3L1183.2,487.0L1187.7,485.0L1192.9,486.9L1196.5,484.9L1200.7,487.5L1204.8,486.6L1208.7,486.5L1212.2,485.0L1216.7,485.8L1220.7,483.3L1224.9,483.4L1228.9,481.2L1232.9,482.8L1235.5,482.1L1239.5,478.2L1243.9,476.9L1248.0,477.7L1252.4,475.5L1255.8,474.3L1260.6,472.5L1264.9,471.5L1267.8,469.6L1272.3,473.8L1275.7,473.6L1280.7,472.3L1283.0,469.2L1287.0,465.5L1292.6,464.3L1296.2,462.0L1299.7,460.2L1303.7,462.5L1308.2,460.5L1311.2,460.4L1316.4,461.0L1320.3,462.4L1323.2,461.9L1327.1,462.4L1331.4,460.4L1336.9,460.8L1339.4,462.7L1344.2,462.7L1347.8,461.2L1352.9,461.3L1357.0,460.1L1360.7,460.0L1364.1,459.5L1367.4,462.9L1371.9,462.4L1375.5,460.7L1379.2,461.4L1384.7,461.3L1387.8,462.8L1392.8,461.8L1395.2,461.7L1399.9,462.9L1403.7,461.8L1408.3,460.8L1412.0,461.9L1416.8,461.2L1420.0,900.0Z" fill="#cc8f85"/>
<path d="M635.9,900.0L635.7,545.7L639.1,549.2L644.4,547.0L647.9,546.5L652.8,545.6L656.5,542.7L659.7,542.7L664.9,545.0L667.3,543.5L672.2,541.2L675.8,543.3L680.3,541.3L684.5,541.0L688.1,541.1L693.0,541.6L696.6,541.4L699.8,542.1L704.4,540.8L707.6,526.8L712.2,519.2L716.6,513.5L719.3,510.1L724.8,494.8L728.5,491.8L731.6,491.9L735.6,493.7L740.9,496.4L743.4,494.7L748.9,494.9L751.6,496.1L755.2,495.7L759.8,496.3L764.9,496.1L767.4,498.6L771.9,498.6L776.3,498.4L779.6,495.7L784.5,496.5L788.1,496.8L792.5,495.0L795.7,496.9L800.1,494.2L804.3,493.9L808.5,492.9L812.7,494.6L815.7,495.8L819.5,493.1L823.1,494.0L828.5,494.7L831.8,495.6L835.2,494.2L840.3,496.9L844.3,496.3L848.5,495.7L852.9,498.0L855.7,498.4L860.6,499.9L863.4,503.4L868.1,503.8L872.3,506.9L875.3,506.5L879.1,508.4L884.0,508.4L888.3,505.7L891.8,504.0L895.5,503.4L900.6,502.1L903.3,500.1L908.5,498.2L912.8,500.1L916.5,502.2L920.3,504.7L923.3,506.4L928.4,504.9L931.6,500.6L936.2,501.0L939.5,496.5L943.4,496.0L948.4,499.2L952.6,497.7L956.4,498.0L960.7,500.2L963.0,502.6L967.3,502.1L971.1,503.3L976.1,505.2L979.1,505.8L983.2,504.0L988.3,504.4L991.7,505.2L995.4,506.1L999.4,506.2L1004.6,504.1L1007.1,504.0L1011.1,503.5L1015.8,503.9L1020.3,508.3L1024.2,509.1L1028.0,511.3L1031.5,513.7L1037.0,514.8L1040.9,514.4L1045.0,511.9L1048.0,510.5L1051.9,510.9L1056.4,508.4L1059.7,505.9L1063.8,504.6L1067.4,507.8L1072.0,509.4L1075.4,513.1L1079.4,514.2L1084.1,517.1L1088.9,518.6L1092.9,520.5L1096.4,520.8L1099.1,518.9L1103.0,521.3L1108.4,520.5L1111.5,521.0L1115.3,525.0L1121.0,526.8L1123.1,528.3L1127.7,532.9L1132.6,533.3L1135.2,533.1L1139.3,533.5L1143.9,532.3L1148.8,529.6L1152.0,527.3L1155.3,522.1L1160.1,520.9L1163.4,517.3L1167.0,516.5L1172.4,513.3L1177.0,508.1L1180.5,504.6L1184.6,503.6L1187.3,497.9L1191.4,497.3L1195.8,492.9L1200.7,494.4L1203.9,490.4L1208.8,490.8L1211.1,490.0L1216.2,493.4L1220.0,493.8L1223.4,493.7L1228.8,493.1L1231.2,492.4L1235.3,490.2L1239.9,490.8L1244.3,493.0L1247.9,492.5L1252.4,493.0L1255.9,493.4L1260.3,493.8L1263.5,495.3L1268.4,496.5L1271.3,498.5L1276.2,494.4L1279.5,496.8L1283.5,494.6L1288.6,496.2L1292.3,495.9L1295.1,493.5L1301.0,496.1L1303.1,493.4L1307.5,496.6L1311.4,495.6L1316.9,495.5L1320.8,494.1L1323.3,493.3L1328.5,493.6L1332.9,495.8L1335.4,496.1L1339.3,495.0L1343.2,496.0L1348.8,496.5L1351.0,496.3L1356.1,496.2L1360.0,495.4L1364.2,496.1L1367.2,493.4L1372.1,494.2L1375.8,493.2L1380.5,493.3L1384.7,496.1L1387.9,493.6L1392.3,493.9L1395.9,493.6L1401.0,495.2L1403.7,493.5L1408.5,496.3L1412.7,493.6L1415.7,494.3L1420.0,900.0Z" fill="#e6b8af"/>
<path d="M635.9,900.0L636.5,898.7L640.2,901.7L644.5,898.2L647.1,898.6L652.4,900.4L656.0,899.8L659.8,900.4L664.3,901.5L668.5,901.1L672.8,901.2L676.4,898.3L680.4,901.3L683.9,901.4L687.4,901.6L691.9,565.9L695.5,562.8L699.7,561.2L703.2,560.0L709.0,559.1L712.9,557.8L716.7,557.0L720.5,552.8L723.5,551.6L727.0,550.0L732.8,551.9L735.7,550.7L740.5,550.5L744.6,548.5L747.2,548.9L751.6,547.6L755.7,546.6L760.9,544.6L764.1,545.7L768.1,545.1L771.8,543.0L776.4,541.2L779.2,536.5L783.6,535.0L787.0,528.6L792.4,527.9L795.4,523.3L800.4,526.5L804.5,532.1L807.5,534.6L811.1,540.2L815.4,538.4L820.9,539.0L824.2,538.3L828.2,536.7L831.6,532.4L835.1,530.8L839.7,531.2L843.2,532.5L848.9,533.2L851.5,533.0L855.4,529.6L859.6,529.7L864.4,539.8L868.5,553.9L872.9,557.4L876.7,558.1L880.7,558.0L884.7,559.3L888.3,556.8L891.0,557.3L896.8,558.0L900.3,560.3L904.3,558.9L907.3,558.5L913.0,559.6L916.3,560.0L919.4,557.2L923.0,559.0L927.3,556.9L931.7,553.1L935.3,550.7L939.5,547.9L944.0,545.6L947.5,546.7L951.6,543.8L956.5,541.6L959.4,540.0L963.8,539.5L968.3,539.9L972.7,541.0L976.3,545.5L979.5,539.6L983.9,536.9L987.9,536.8L991.2,532.6L996.0,531.1L999.5,531.3L1003.2,529.1L1007.7,529.9L1012.9,530.2L1015.1,529.5L1020.5,532.7L1024.7,536.2L1028.7,544.6L1032.9,548.4L1035.5,549.0L1040.7,550.0L1043.2,551.0L1048.8,552.6L1052.5,553.2L1055.9,556.1L1059.4,558.4L1063.7,557.1L1069.0,558.9L1071.4,557.8L1076.3,560.2L1079.0,560.4L1084.5,561.0L1087.5,561.3L1092.2,562.2L1095.3,563.2L1100.9,563.4L1104.7,561.6L1108.8,560.6L1111.5,561.7L1116.8,559.4L1119.4,558.8L1123.9,558.8L1127.4,560.1L1132.2,559.8L1135.8,557.9L1139.0,557.9L1143.5,555.2L1148.0,557.0L1152.0,557.8L1156.2,555.6L1160.7,556.1L1165.0,557.3L1167.5,559.2L1171.6,557.2L1175.7,557.7L1179.0,555.0L1183.3,555.1L1187.0,552.4L1191.5,547.8L1196.1,544.8L1199.3,539.1L1203.2,539.0L1207.3,533.4L1212.0,532.3L1216.8,527.4L1219.5,523.8L1224.2,520.8L1227.8,524.1L1232.3,521.0L1236.9,516.5L1240.9,516.3L1243.1,517.5L1247.2,513.6L1251.6,514.7L1256.9,517.8L1259.8,517.6L1264.7,518.7L1268.3,517.7L1271.2,516.8L1276.3,518.1L1280.6,519.2L1284.9,516.8L1287.2,519.4L1292.1,516.8L1296.4,517.2L1299.5,517.6L1304.0,518.8L1307.1,519.1L1312.2,518.2L1316.3,519.4L1319.0,518.3L1324.4,519.2L1328.3,517.4L1332.9,519.6L1335.5,518.4L1340.9,517.7L1343.8,520.4L1348.8,517.9L1352.5,518.4L1356.3,519.9L1359.3,518.0L1363.4,518.2L1367.1,517.8L1371.8,518.9L1375.2,519.6L1380.9,519.6L1383.7,520.1L1387.9,518.3L1392.0,517.8L1396.4,518.3L1399.7,521.3L1404.5,520.9L1408.3,520.2L1412.4,521.5L1415.4,520.8L1420.0,900.0Z" fill="#ff0000"/>
<path d="M635.9,900.0L635.6,898.9L640.6,900.4L644.7,901.7L648.2,898.7L651.0,900.2L656.5,899.0L659.1,897.8L663.3,900.9L667.0,898.8L671.5,900.9L677.0,897.9L679.2,901.9L684.9,898.5L687.7,900.1L691.6,573.4L696.0,570.3L699.1,567.1L703.3,564.7L708.2,564.9L711.5,562.9L716.5,558.5L720.0,555.4L724.9,554.6L727.1,552.3L732.4,553.5L736.4,552.9L740.6,555.5L743.2,554.7L747.4,555.4L752.6,555.8L755.5,552.9L760.3,555.1L763.3,553.6L768.2,553.3L772.3,554.0L775.5,555.0L780.1,556.4L783.1,556.5L787.4,554.7L792.3,556.6L796.2,557.7L799.4,555.2L804.3,555.1L807.3,555.1L812.5,558.0L816.4,558.9L820.6,556.3L823.6,558.4L827.1,558.4L831.2,556.4L836.0,557.3L840.9,561.0L843.9,558.5L847.2,561.5L852.0,562.9L856.4,565.6L860.6,565.8L863.1,569.0L868.0,571.9L872.3,575.8L875.6,580.9L880.4,586.2L883.7,584.3L888.9,585.9L892.2,581.8L895.9,583.6L899.6,580.5L905.0,585.0L907.3,583.7L912.2,583.6L915.1,585.8L920.5,583.1L923.2,581.5L927.2,582.7L931.1,578.8L936.5,577.6L939.2,576.9L943.3,578.4L948.7,576.3L951.3,577.7L955.9,573.8L959.2,571.4L964.9,568.8L967.5,571.1L972.8,571.8L975.9,572.0L980.2,569.1L983.9,571.0L988.5,568.7L991.4,572.9L995.2,572.8L999.7,570.8L1003.5,572.2L1009.0,570.6L1012.7,570.8L1015.3,572.2L1019.7,569.3L1023.8,571.5L1028.7,570.3L1031.0,571.2L1036.2,571.8L1040.9,569.2L1044.7,571.4L1047.5,568.2L1051.7,566.6L1055.8,563.9L1059.5,567.9L1063.8,568.4L1068.8,570.6L1071.5,573.1L1076.6,575.0L1080.5,575.1L1084.6,574.1L1088.3,575.9L1092.7,576.0L1096.1,578.1L1100.6,579.3L1104.7,582.3L1108.8,580.0L1112.9,583.5L1116.4,583.9L1119.1,585.6L1124.1,584.6L1127.7,585.6L1132.6,585.2L1135.4,582.1L1139.5,580.2L1143.7,579.1L1148.6,579.2L1151.1,577.5L1156.5,576.9L1159.9,576.6L1164.6,577.8L1167.6,575.2L1172.8,573.3L1176.8,573.4L1179.6,573.6L1184.1,569.9L1188.2,572.6L1192.0,570.7L1195.8,572.1L1200.3,568.7L1203.7,570.4L1208.9,572.9L1211.2,571.3L1215.1,565.9L1219.9,568.5L1223.9,567.7L1228.0,570.4L1232.6,567.0L1235.4,567.4L1240.6,563.8L1244.8,567.7L1247.9,565.5L1252.4,568.4L1255.4,566.1L1259.7,568.5L1263.4,567.8L1268.0,568.4L1271.3,569.7L1277.0,568.0L1280.6,566.4L1284.8,568.1L1288.5,569.5L1291.7,569.9L1295.4,565.9L1300.0,569.9L1304.8,570.2L1308.0,570.1L1312.1,566.7L1316.3,569.7L1319.8,568.9L1323.5,567.5L1327.8,568.6L1331.9,566.8L1335.0,567.9L1340.4,569.8L1343.5,567.7L1348.0,567.4L1352.2,570.7L1355.4,569.3L1360.4,570.1L1364.4,570.0L1367.5,570.6L1372.9,567.2L1376.9,569.0L1379.2,567.4L1384.6,570.2L1387.3,569.3L1392.3,571.7L1395.7,570.7L1399.5,568.3L1403.3,569.3L1408.2,568.9L1411.3,568.6L1415.2,568.5L1420.0,900.0Z" fill="#f83333"/>
<path d="M635.9,900.0L635.6,900.0L639.4,899.9L643.9,902.1L648.0,902.0L651.9,898.7L656.2,898.4L659.3,898.1L664.4,902.1L667.8,899.4L671.9,899.3L676.4,899.5L679.3,901.6L684.1,897.8L688.7,901.0L691.7,598.3L696.8,592.7L699.9,587.7L704.1,584.7L708.5,581.4L711.3,574.3L716.7,571.6L720.2,566.5L723.7,563.1L728.1,559.9L731.4,559.1L736.8,562.6L739.1,560.9L744.0,562.2L747.7,564.4L751.7,563.2L756.9,564.2L760.0,563.3L763.8,564.9L768.6,563.9L771.7,564.9L775.7,567.6L780.1,565.3L783.7,568.2L787.3,568.0L791.0,566.3L795.1,569.5L799.3,567.4L803.1,568.0L808.5,570.5L812.8,571.9L816.1,576.1L819.2,580.9L823.9,582.4L828.5,587.3L831.8,585.0L836.7,588.9L840.2,590.8L843.1,587.8L847.2,588.3L852.4,591.4L855.2,589.9L859.4,592.4L864.3,594.4L867.7,595.7L871.9,594.6L875.5,595.4L880.9,600.3L884.4,598.2L887.4,597.7L891.7,599.3L895.1,597.4L900.4,594.2L903.9,596.5L908.2,595.2L912.8,596.3L915.7,595.9L920.9,598.5L924.8,597.6L927.3,595.7L931.8,597.5L935.0,597.5L940.6,595.7L943.0,596.4L947.8,597.2L952.1,599.5L955.8,602.5L960.9,604.4L964.2,602.2L967.8,602.5L972.8,605.3L976.6,605.9L981.0,605.8L983.6,607.1L987.5,607.5L991.3,609.6L996.0,608.0L1000.8,608.2L1004.9,613.6L1007.3,616.1L1012.1,619.3L1016.2,619.7L1020.9,620.7L1024.6,621.3L1027.6,621.8L1032.7,623.7L1036.5,623.4L1040.5,625.7L1043.2,624.0L1048.4,621.7L1052.3,619.5L1055.7,618.3L1060.9,614.7L1063.9,612.1L1068.6,612.3L1071.9,612.1L1075.8,612.0L1079.9,608.6L1084.5,609.0L1088.4,608.8L1093.0,611.2L1096.5,609.4L1100.3,609.8L1103.5,610.9L1107.1,608.7L1111.2,609.6L1116.8,605.1L1119.9,605.5L1124.4,605.1L1127.7,604.5L1131.4,599.5L1136.6,598.1L1139.4,599.0L1143.7,596.7L1148.9,597.3L1152.6,595.5L1156.8,594.6L1160.8,595.5L1164.9,595.8L1168.3,594.3L1172.7,593.6L1175.2,595.2L1180.6,593.8L1184.5,591.4L1187.9,593.5L1192.9,593.5L1195.3,591.9L1200.1,590.2L1203.3,588.5L1207.9,587.0L1211.5,584.4L1216.1,586.2L1220.2,583.5L1224.8,583.8L1228.9,585.8L1231.3,583.4L1236.9,582.2L1240.1,582.5L1243.1,582.7L1247.2,583.7L1252.3,585.3L1256.9,585.8L1259.7,587.0L1264.3,585.2L1268.7,585.7L1271.7,585.5L1275.6,587.1L1279.5,587.1L1283.1,582.8L1288.1,583.7L1292.0,583.3L1296.7,585.7L1300.4,586.9L1305.0,585.8L1308.4,582.8L1311.1,584.7L1316.9,584.2L1320.1,582.8L1323.8,586.8L1328.2,586.4L1331.0,583.7L1335.4,586.5L1339.2,586.9L1343.5,586.7L1348.0,584.2L1352.9,584.6L1356.4,583.1L1360.7,587.1L1363.2,586.1L1367.5,583.5L1371.7,585.7L1376.9,587.2L1381.0,585.5L1384.3,583.5L1388.5,585.2L1391.7,586.8L1395.5,583.4L1399.3,583.5L1404.2,586.3L1407.3,585.0L1412.1,585.3L1415.8,585.2L1420.0,900.0Z" fill="#f46666"/>
<path d="M635.9,900.0L635.0,898.1L639.8,898.8L644.5,898.9L648.6,898.9L651.2,899.9L655.8,899.3L660.5,898.8L664.3,901.5L667.9,900.0L672.8,900.5L675.4,898.1L679.2,899.3L683.2,900.7L687.8,899.2L692.0,611.9L695.5,608.5L699.6,609.2L704.8,610.9L707.9,608.5L711.1,608.3L716.7,610.7L719.3,610.6L723.1,610.0L727.7,608.3L732.5,611.0L736.0,608.5L740.3,609.7L744.3,608.2L748.8,607.8L751.4,609.6L755.4,608.2L760.4,612.2L763.7,609.0L768.3,608.8L771.8,610.8L775.9,608.5L779.1,610.2L785.0,611.8L787.2,610.0L792.0,608.7L796.3,610.0L800.6,609.1L804.9,611.4L807.9,608.4L812.0,608.4L816.4,610.9L820.2,612.1L823.1,610.9L828.6,609.3L831.6,610.4L836.2,614.6L839.7,615.9L843.7,616.4L847.6,618.1L851.9,614.3L855.2,618.0L860.7,618.1L863.3,619.8L868.4,617.1L871.8,620.3L875.0,618.2L879.7,622.9L885.0,621.5L888.8,624.5L892.7,624.6L896.9,625.5L900.9,624.7L903.4,624.0L908.0,622.7L911.7,622.9L916.2,621.4L919.6,623.1L924.0,623.3L928.3,622.7L932.1,623.6L936.5,625.7L940.6,624.2L943.5,625.4L948.0,622.3L951.6,622.8L956.4,626.2L960.0,627.3L963.4,627.5L967.7,628.4L971.7,631.9L976.5,631.0L979.5,635.0L984.3,636.0L988.3,637.6L991.5,636.2L995.7,637.3L1000.9,640.7L1004.3,643.9L1008.6,641.9L1011.7,642.4L1016.6,645.9L1020.0,645.0L1023.5,646.3L1028.4,648.9L1032.7,648.9L1035.9,646.4L1039.6,648.3L1043.4,644.2L1047.6,647.1L1052.7,643.6L1056.7,644.8L1059.9,640.5L1064.5,640.1L1067.2,641.1L1071.9,637.7L1076.2,635.8L1079.0,635.1L1083.8,632.2L1087.7,634.3L1091.7,632.5L1096.2,628.9L1099.0,629.5L1104.2,626.3L1107.4,627.3L1112.8,623.1L1116.2,623.1L1119.6,619.2L1123.7,620.4L1128.2,618.3L1131.2,616.0L1135.6,616.4L1139.7,618.0L1143.2,617.9L1147.5,616.8L1151.5,615.4L1155.8,613.0L1160.6,616.4L1163.5,616.2L1168.0,617.1L1171.1,614.5L1175.5,615.3L1180.6,615.5L1184.1,612.7L1188.6,610.7L1191.5,612.7L1195.9,613.0L1199.2,609.8L1203.4,607.8L1207.2,606.7L1211.7,606.2L1216.0,603.6L1220.4,602.6L1225.0,600.4L1228.0,601.1L1231.7,602.1L1235.4,601.5L1239.7,598.4L1244.2,598.8L1247.6,596.0L1252.9,596.9L1255.2,598.1L1260.1,596.6L1263.7,598.8L1267.7,596.9L1272.9,596.6L1275.8,595.6L1280.3,597.8L1283.9,596.6L1287.5,598.2L1291.9,598.4L1295.7,597.9L1299.1,595.6L1304.9,597.5L1308.4,596.7L1311.9,595.3L1315.3,597.2L1320.4,595.4L1324.3,594.8L1328.2,594.9L1332.0,595.5L1336.1,594.7L1340.0,596.7L1343.3,595.3L1348.4,596.3L1352.2,597.3L1356.1,594.8L1359.9,597.4L1364.1,597.0L1367.7,595.6L1372.9,597.2L1376.3,594.0L1380.2,593.6L1384.9,597.7L1388.5,594.5L1392.7,594.1L1396.7,595.5L1399.0,597.1L1403.9,596.8L1408.4,595.4L1412.7,593.9L1416.8,594.4L1420.0,900.0Z" fill="#f49999"/>
<path d="M635.9,900.0L635.1,899.3L639.1,898.1L644.2,898.3L647.3,899.1L651.6,901.8L656.8,901.6L661.0,899.7L664.6,899.0L668.9,901.4L672.5,898.8L675.2,901.9L680.1,900.5L684.7,898.4L688.4,899.8L692.6,639.8L695.4,642.0L699.6,641.1L704.7,638.9L708.4,639.5L711.4,638.8L716.9,639.4L720.0,640.0L723.1,641.1L728.5,641.7L731.7,638.7L735.7,641.0L740.3,639.6L744.0,638.5L748.8,639.9L752.0,641.3L755.4,641.0L759.7,641.4L763.2,639.0L768.3,639.9L771.8,640.3L775.4,639.7L779.0,641.3L783.5,641.5L788.1,640.4L792.3,638.4L796.6,639.1L800.7,641.3L804.4,641.4L807.9,640.8L812.9,638.6L815.2,639.6L820.0,638.5L823.4,641.6L827.8,638.5L831.4,640.3L835.4,639.9L840.1,639.7L844.0,641.5L847.0,641.9L851.4,638.3L856.5,641.3L860.1,640.4L864.6,641.5L868.5,640.6L872.1,641.4L875.7,639.7L879.1,639.4L884.4,636.2L888.1,638.9L891.2,639.9L896.7,636.9L899.5,637.5L903.5,638.1L908.0,638.6L911.6,639.2L915.7,640.3L920.4,636.9L923.4,636.1L927.7,636.2L932.4,638.8L937.0,639.0L939.1,644.6L943.8,648.6L947.8,648.2L951.1,653.0L956.0,652.7L959.9,656.2L964.7,656.2L967.4,657.3L972.8,658.6L976.3,660.1L979.9,659.5L983.5,658.8L988.7,656.0L991.7,659.5L997.0,656.4L1000.3,659.7L1004.7,659.7L1007.3,659.1L1012.4,661.0L1015.4,660.6L1020.3,660.7L1023.0,659.7L1027.6,660.8L1031.7,659.2L1036.3,660.4L1040.6,661.0L1044.1,663.7L1047.2,662.5L1051.1,662.1L1055.1,659.8L1059.7,656.1L1063.8,656.2L1067.8,653.2L1072.0,652.6L1076.9,651.7L1079.9,650.1L1084.9,649.5L1088.3,650.7L1091.8,649.4L1095.6,645.4L1099.1,645.4L1104.7,642.8L1107.9,643.8L1111.6,639.6L1116.0,639.5L1120.9,641.1L1123.5,639.1L1127.8,636.3L1131.9,639.7L1135.6,638.0L1140.4,636.2L1144.8,636.9L1147.6,640.1L1151.0,639.1L1155.3,639.6L1159.0,637.2L1163.4,635.9L1167.2,635.4L1172.0,634.2L1176.6,634.2L1179.5,631.9L1184.7,629.4L1188.5,628.0L1192.9,627.8L1196.2,628.2L1199.2,623.1L1204.4,625.4L1208.4,624.0L1212.0,623.6L1215.9,624.0L1220.2,624.1L1223.5,625.6L1227.2,626.3L1232.0,623.8L1235.2,625.0L1240.0,626.0L1243.7,624.6L1248.8,624.0L1253.0,626.7L1257.0,627.0L1259.5,626.4L1264.2,623.7L1269.0,625.6L1272.6,625.3L1275.2,626.6L1279.4,623.9L1284.2,623.7L1287.9,625.9L1291.2,625.7L1295.2,624.9L1300.3,625.8L1303.1,623.6L1308.9,624.5L1311.8,624.4L1316.4,626.1L1320.3,624.6L1324.1,625.1L1327.4,627.0L1332.9,626.2L1337.0,624.8L1340.7,623.9L1344.5,625.9L1348.9,626.5L1352.8,624.0L1356.6,624.9L1359.6,624.4L1364.6,626.5L1368.7,625.7L1371.3,623.5L1376.1,623.7L1379.7,623.3L1383.3,626.0L1387.4,626.5L1391.7,626.5L1395.6,624.0L1399.8,622.9L1403.9,624.5L1407.0,626.6L1411.8,622.8L1416.9,623.8L1420.0,900.0Z" fill="#f4cccc"/>
<path d="M635.9,900.0L635.5,898.1L639.2,900.8L644.2,900.0L647.5,899.1L652.9,899.5L657.0,901.5L659.2,901.4L663.0,900.8L668.6,900.8L672.1,901.3L675.3,900.2L679.5,899.6L683.4,900.8L688.1,901.1L692.3,660.4L696.8,661.2L700.1,659.3L704.9,659.5L707.2,659.3L712.4,661.7L716.3,660.7L720.9,661.1L723.9,659.8L728.5,659.3L731.2,660.5L736.6,659.0L740.4,661.6L743.3,658.5L748.0,659.3L752.9,662.0L755.9,661.2L760.3,658.7L764.9,658.7L767.2,659.8L771.0,659.9L775.8,661.8L779.8,661.4L784.6,660.3L787.5,659.2L792.0,659.6L796.3,660.0L799.6,660.4L805.0,658.8L807.7,658.0L811.2,658.2L815.8,661.3L820.4,661.9L824.7,660.3L828.2,658.1L831.8,659.0L836.2,658.3L840.1,659.5L844.0,659.6L847.2,660.9L852.6,660.4L855.2,660.4L860.7,661.9L864.5,658.2L868.8,660.7L871.6,661.7L876.7,661.6L879.5,660.3L883.8,659.2L888.5,660.5L891.7,660.2L896.9,660.3L900.8,660.3L905.0,658.1L907.9,660.2L912.5,661.9L916.2,659.9L920.3,660.1L924.4,661.8L927.0,659.3L932.8,658.2L936.6,661.1L940.3,667.6L943.5,669.4L947.5,674.1L952.1,676.0L955.7,677.1L960.9,679.1L964.9,678.2L968.0,679.9L971.7,682.8L975.3,682.6L980.5,683.4L983.0,680.1L988.0,682.1L991.3,681.7L995.8,681.2L1000.9,679.9L1003.7,681.0L1007.3,681.7L1012.4,682.8L1015.2,683.7L1020.0,681.1L1024.6,683.8L1027.4,683.9L1032.6,680.5L1035.0,682.6L1040.7,679.0L1044.5,681.2L1048.3,679.8L1053.0,675.8L1056.7,676.2L1059.6,673.2L1064.4,673.2L1068.1,670.3L1071.5,670.7L1075.3,671.2L1080.8,667.7L1084.4,668.4L1087.2,667.9L1092.5,665.0L1095.2,663.9L1100.5,663.6L1104.6,661.4L1107.2,661.1L1112.8,659.4L1115.1,660.8L1119.2,659.4L1123.2,656.7L1128.3,658.2L1131.8,655.5L1135.1,654.2L1139.5,655.5L1144.4,655.0L1148.1,654.2L1151.3,652.4L1155.6,651.4L1160.5,650.1L1163.7,649.4L1168.7,649.8L1172.0,647.8L1176.8,648.9L1179.9,646.1L1184.7,643.5L1187.5,641.6L1192.0,643.6L1195.3,642.2L1201.0,642.4L1203.8,643.9L1208.8,642.0L1211.2,643.0L1216.5,644.2L1220.3,641.7L1224.0,641.7L1227.9,642.4L1232.8,644.1L1236.9,642.4L1240.9,641.1L1244.8,643.1L1248.7,642.2L1253.0,640.6L1256.7,643.8L1259.7,643.8L1263.4,643.5L1267.9,642.1L1271.4,643.7L1276.5,640.9L1281.0,641.4L1283.8,642.2L1288.2,644.1L1292.9,643.0L1295.7,640.9L1299.1,642.6L1304.2,642.3L1309.0,642.2L1311.7,642.2L1315.3,644.3L1320.2,642.7L1323.9,641.5L1327.6,642.5L1331.9,644.4L1336.1,641.3L1339.1,641.1L1343.7,643.6L1348.8,641.4L1352.6,642.3L1356.1,642.6L1359.1,640.8L1364.3,643.3L1367.8,644.2L1372.6,641.7L1375.1,642.7L1380.3,641.4L1383.1,642.4L1387.1,643.4L1392.3,641.6L1395.9,641.4L1399.4,641.2L1404.6,642.3L1408.4,641.9L1412.6,642.9L1416.3,642.1L1420.0,900.0Z" fill="#fd9030"/>
<path d="M1175.2,420.3L1180.7,421.6L1183.7,421.3L1186.7,420.2L1191.3,421.6L1195.0,420.2L1201.8,421.0L1205.7,419.4L1208.6,420.8L1213.1,421.0L1217.7,421.3L1222.7,421.6L1228.3,420.4L1232.7,419.5L1236.8,419.7L1240.1,420.9L1245.0,420.5L1247.5,421.7L1252.7,421.4L1256.6,419.0L1261.6,419.4L1264.9,418.5L1266.8,425.5L1270.8,430.4L1266.5,433.2L1263.8,434.1L1260.1,437.8L1256.7,436.1L1251.4,436.0L1246.8,435.5L1244.7,435.7L1239.0,435.7L1235.1,437.6L1231.4,437.5L1228.0,440.7L1224.3,443.7L1221.3,440.2L1215.7,439.8L1210.2,436.8L1206.3,440.5L1198.5,440.3L1194.5,441.6L1190.6,441.2L1185.2,438.5L1181.9,433.5L1181.2,429.7L1176.6,424.7Z" fill="#ffffff" stroke="#e0c0e8" stroke-width="4" stroke-linejoin="round" style="paint-order:stroke"/>
<path d="M1162.1,408.9L1165.6,409.3L1170.8,409.8L1174.0,410.1L1179.4,410.7L1182.1,411.3L1187.5,410.2L1190.6,409.5L1193.5,411.2L1199.0,408.8L1204.0,411.2L1205.3,410.6L1209.9,410.1L1215.7,409.6L1218.7,410.5L1221.8,410.4L1226.6,411.4L1229.9,410.6L1233.4,409.3L1237.7,408.9L1242.9,409.0L1247.8,408.8L1251.3,411.1L1253.8,409.2L1259.7,409.9L1264.2,409.5L1266.7,411.4L1270.5,411.4L1276.2,409.1L1277.6,415.1L1278.9,418.5L1275.8,418.7L1270.3,417.1L1266.4,417.6L1261.8,419.4L1256.3,419.3L1252.5,419.5L1247.3,420.1L1244.2,419.7L1240.4,419.7L1235.8,418.9L1230.8,418.7L1226.9,419.8L1224.6,418.5L1221.4,420.1L1217.3,417.5L1212.4,419.4L1208.0,417.3L1204.9,418.6L1199.8,419.7L1194.8,417.3L1192.6,418.1L1185.9,417.7L1184.7,419.5L1178.2,417.7L1176.2,419.2L1169.6,417.0L1163.5,418.8Z" fill="#ffffff"/>
<path d="M1181.0,447.3L1185.3,448.2L1189.6,447.2L1196.0,445.7L1197.8,446.4L1203.3,446.6L1206.4,447.5L1205.9,450.8L1203.6,456.0L1197.6,456.7L1194.0,459.2L1190.2,461.2L1186.3,457.5L1184.0,454.1Z" fill="#ffffff" stroke="#e0c0e8" stroke-width="3" stroke-linejoin="round" style="paint-order:stroke"/>
<path d="M1216.0,444.5L1221.3,442.6L1226.0,441.1L1231.9,441.2L1236.1,440.6L1240.7,439.9L1244.4,439.0L1249.1,437.7L1254.5,439.2L1257.3,438.7L1263.5,440.9L1260.2,442.6L1254.1,446.3L1250.7,449.1L1245.4,450.0L1240.0,450.2L1236.3,451.3L1230.5,451.9L1225.0,453.3L1221.5,447.6Z" fill="#ffffff" stroke="#c898d8" stroke-width="3" stroke-linejoin="round" style="paint-order:stroke"/>
<path d="M1272.3,424.8L1276.0,422.7L1279.6,419.7L1284.8,418.4L1291.4,416.3L1291.1,421.9L1294.7,424.8L1291.9,427.1L1287.6,428.5L1286.1,433.8L1276.9,433.6L1274.5,428.1Z" fill="#ffffff" stroke="#e0c0e8" stroke-width="3" stroke-linejoin="round" style="paint-order:stroke"/>
<path d="M1162.5,432.5L1167.5,442.5L1175.0,450.0L1182.5,460.0L1190.0,470.0" fill="none" stroke="#ff30f0" stroke-width="6" stroke-linecap="round" stroke-linejoin="round"/>
<path d="M1205.0,460.0L1217.5,455.0L1230.0,450.0L1245.0,445.0L1260.0,440.0L1275.0,435.0" fill="none" stroke="#ff30f0" stroke-width="5" stroke-linecap="round" stroke-linejoin="round"/>
<path d="M1200.0,467.5L1212.5,463.8L1225.0,458.8L1240.0,453.8" fill="none" stroke="#ffb0dd" stroke-width="4" stroke-linecap="round" stroke-linejoin="round"/>
<path d="M1163.7,459.8L1165.9,457.2L1171.4,458.0L1174.9,455.9L1176.1,462.8L1179.8,468.6L1175.7,472.5L1176.5,477.6L1169.3,475.9L1162.4,477.7L1162.1,473.4L1163.6,467.8L1164.0,464.6Z" fill="#9a4534"/>
<path d="M1173.0,412.1L1177.9,409.1L1181.5,406.7L1187.8,399.1L1190.2,395.6L1195.3,389.3L1201.0,390.6L1206.2,389.6L1213.1,391.8L1221.8,390.6L1225.4,388.4L1229.6,389.2L1235.6,386.9L1238.8,383.5L1246.5,381.2L1254.2,385.5L1261.6,386.7L1264.0,388.7L1269.1,391.1L1273.6,390.7L1279.8,395.0L1283.7,393.8L1289.8,391.4L1296.8,389.6L1299.8,394.6L1299.9,399.6L1296.1,405.4L1289.7,409.2L1284.0,407.7L1280.1,404.9L1274.5,401.6L1268.5,403.2L1264.4,401.6L1259.8,400.1L1252.6,396.2L1246.8,395.7L1241.4,395.5L1235.8,399.7L1228.3,399.0L1223.8,401.3L1220.2,399.3L1212.7,397.3L1206.6,395.6L1203.7,400.5L1198.3,404.0L1193.1,404.7L1185.7,408.7L1181.5,414.5L1178.8,419.1Z" fill="#ff5aea" stroke="#e0c0e8" stroke-width="5" stroke-linejoin="round" style="paint-order:stroke"/>
<path d="M1192.3,391.7L1198.9,392.6L1202.0,389.8L1208.9,389.8L1214.4,390.4L1219.6,392.2L1226.2,393.1L1228.8,391.8L1235.9,393.0L1240.4,391.0L1244.3,388.9L1248.8,390.2L1246.1,394.1L1241.2,394.1L1235.6,397.5L1229.2,396.5L1225.4,397.3L1220.0,395.3L1216.1,394.5L1209.0,394.2L1203.8,396.2L1197.7,398.2Z" fill="#ff30f0"/>
<path d="M1230.0,397.5L1228.0,407.5L1227.0,415.0" fill="none" stroke="#ff85e0" stroke-width="2" stroke-linecap="round" stroke-linejoin="round"/>
<path d="M1252.5,397.5L1250.5,407.5L1249.5,415.0" fill="none" stroke="#ff85e0" stroke-width="2" stroke-linecap="round" stroke-linejoin="round"/>
<path d="M1246.2,359.9L1248.6,359.7L1253.6,357.0L1256.4,361.6L1260.8,363.9L1254.4,368.6L1250.6,368.8L1248.1,365.9Z" fill="#c898d8"/>
<path d="M1274.7,341.0L1280.5,341.1L1283.9,340.2L1283.5,345.1L1275.9,347.2Z" fill="#c898d8"/>
<path d="M1304.7,369.7L1308.9,365.0L1310.7,376.3L1312.4,381.3L1312.2,385.1L1312.4,390.2L1310.1,394.3L1309.8,401.1L1310.2,404.7L1310.6,408.8L1310.7,416.6L1310.5,422.6L1308.6,426.2L1309.5,433.6L1300.9,432.5L1300.4,428.2L1301.5,422.4L1301.3,415.2L1302.0,410.7L1303.6,404.6L1303.5,399.7L1304.4,395.8L1303.9,389.6L1303.3,386.2L1305.0,379.4L1303.1,374.1Z" fill="#ff85e0" stroke="#e0c0e8" stroke-width="3" stroke-linejoin="round" style="paint-order:stroke"/>
<path d="M1305.0,385.0L1304.5,410.0L1303.0,433.0" fill="none" stroke="#ffb0dd" stroke-width="3" stroke-linecap="round" stroke-linejoin="round"/>
<path d="M1312.4,401.2L1319.0,402.6L1325.2,402.2L1329.6,400.3L1333.4,399.8L1338.4,394.8L1344.9,393.1L1349.6,389.5L1354.2,383.2L1358.0,383.9L1361.8,388.6L1361.5,396.1L1360.6,400.1L1366.4,406.0L1367.1,409.9L1369.1,416.4L1373.6,419.9L1374.2,424.7L1377.4,429.6L1379.5,434.5L1375.6,432.8L1369.9,434.2L1364.6,434.8L1357.3,434.6L1355.0,433.0L1350.3,431.6L1343.1,433.9L1339.9,432.5L1335.4,433.6L1326.4,431.5L1321.3,433.3L1317.1,432.0L1312.5,431.3L1309.1,434.4L1308.2,427.8L1307.7,423.4L1308.4,419.9L1311.3,413.9L1311.3,406.3Z" fill="#ff85e0" stroke="#e0c0e8" stroke-width="4" stroke-linejoin="round" style="paint-order:stroke"/>
<path d="M1331.0,409.4L1336.8,407.2L1346.1,406.3L1351.8,401.4L1353.9,403.1L1359.1,405.7L1360.1,411.7L1360.7,417.7L1360.4,421.7L1355.9,425.8L1350.9,427.4L1344.9,429.1L1336.9,427.4L1333.0,423.7L1333.9,421.5L1333.9,416.3Z" fill="#ff5aea"/>
<path d="M1312.5,402.8L1316.0,404.2L1322.3,402.1L1323.5,402.6L1328.3,405.5L1331.3,408.5L1330.8,413.7L1329.5,416.9L1324.0,421.4L1320.3,423.5L1314.7,421.4L1312.7,421.5L1313.4,414.7L1311.9,413.4L1312.5,409.2Z" fill="#ffffff" stroke="#c898d8" stroke-width="3" stroke-linejoin="round" style="paint-order:stroke"/>
<path d="M1342.8,384.4L1349.3,381.6L1351.5,378.2L1355.7,382.4L1361.3,384.0L1358.5,388.0L1357.6,390.5L1361.3,394.0L1354.2,397.2L1348.9,399.6L1344.4,395.9L1345.4,390.2Z" fill="#e0c0e8"/>
<path d="M1348.1,384.5L1353.9,381.2L1358.4,388.4L1358.6,393.4L1356.4,395.7L1351.3,395.6L1349.4,392.1Z" fill="#ff85e0"/>
<path d="M1360.7,373.0L1366.0,371.0L1370.2,371.0L1369.9,375.2L1370.2,378.4L1372.7,381.4L1370.0,385.4L1364.1,388.5L1361.5,393.5L1359.5,388.3L1361.4,384.1L1359.8,381.9L1361.3,377.9Z" fill="#c898d8"/>
<path d="M1323.8,421.2L1323.1,425.8L1323.8,430.4" fill="none" stroke="#b36b5e" stroke-width="3" stroke-linecap="round" stroke-linejoin="round"/>
<path d="M1296.4,432.7L1296.8,438.8L1297.9,443.4" fill="none" stroke="#b36b5e" stroke-width="3" stroke-linecap="round" stroke-linejoin="round"/>
<path d="M1056.2,554.3L1064.4,557.6L1068.6,556.2L1074.7,557.9L1080.4,561.4L1083.8,558.3L1090.8,558.9L1093.9,560.8L1101.9,560.8L1104.3,561.0L1108.6,560.3L1115.8,559.6L1121.2,558.6L1123.4,560.0L1129.8,559.9L1133.4,558.0L1140.7,555.2L1143.5,554.9L1151.0,554.9L1154.9,556.2L1160.4,555.7L1163.7,556.4L1170.2,557.6L1177.0,555.7L1179.3,553.9L1185.5,552.6L1189.0,549.1L1197.0,544.6L1200.5,541.0L1203.1,539.0L1205.1,533.1L1211.9,528.3L1214.2,526.6L1221.0,523.9L1226.7,520.7L1228.0,516.4L1233.1,516.0L1229.4,520.7L1228.0,523.8L1223.9,528.0L1219.3,531.1L1213.0,535.2L1206.6,539.9L1200.5,541.5L1196.8,547.8L1193.8,547.8L1189.2,553.6L1187.5,555.0L1183.6,559.6L1176.8,561.8L1170.6,566.1L1166.7,567.9L1160.9,568.3L1153.6,566.9L1151.3,570.7L1145.5,571.3L1139.1,575.9L1135.1,574.3L1129.4,579.0L1123.3,584.8L1121.6,587.5L1113.6,589.0L1109.7,593.4L1108.1,596.8L1103.7,597.2L1096.4,600.0L1095.5,605.9L1090.1,606.4L1085.2,609.1L1076.8,611.8L1075.7,609.7L1076.7,606.2L1077.8,601.9L1082.3,596.7L1086.9,588.3L1091.0,583.9L1094.3,579.4L1099.5,573.2L1099.7,568.5L1097.0,570.0L1090.8,570.1L1086.1,569.3L1078.4,573.5L1073.3,576.6L1066.7,581.4L1063.4,585.3L1058.4,590.9L1053.3,594.6L1046.7,598.5L1044.7,595.9L1046.4,590.5L1046.6,585.9L1051.3,580.5L1052.7,575.3L1057.1,569.1L1058.6,564.0Z" fill="#e6b8af"/>
<path d="M1061.8,565.5L1066.2,562.6L1073.8,561.5L1079.2,563.2L1085.8,565.5L1092.0,565.2L1097.8,566.6L1094.5,568.3L1094.4,576.2L1084.8,575.9L1078.9,580.6L1073.5,580.6L1070.0,583.0L1061.5,582.0L1060.9,574.3L1060.7,569.0Z" fill="#ff0000"/>
<path d="M1129.3,555.9L1134.4,554.3L1138.1,555.1L1146.0,552.5L1148.0,550.2L1156.6,549.4L1158.8,549.2L1166.6,544.7L1170.0,548.4L1173.5,549.3L1170.5,554.0L1165.5,557.1L1159.5,558.3L1153.1,564.3L1151.5,567.5L1143.3,569.8L1138.7,571.1L1133.8,576.0L1131.3,578.8L1124.5,582.2L1119.0,583.6L1115.7,585.2L1109.5,588.0L1106.2,591.7L1098.5,595.4L1096.4,600.1L1091.8,604.3L1088.5,605.1L1082.6,601.2L1084.8,597.3L1087.5,594.4L1094.0,591.9L1095.9,586.0L1102.9,583.0L1105.6,577.1L1111.9,575.8L1114.2,573.2L1119.0,569.1L1123.5,563.9L1128.5,560.0Z" fill="#cc8f85"/>
<path d="M1134.7,561.2L1140.5,561.8L1144.4,558.8L1148.4,558.1L1146.8,563.1L1143.5,563.9L1139.3,567.0L1134.4,570.5L1130.9,572.4L1128.5,573.5L1125.8,576.9L1123.2,580.5L1118.7,580.1L1114.4,583.5L1111.8,585.8L1105.7,586.6L1102.4,591.1L1098.0,591.9L1094.9,594.3L1089.2,592.8L1093.5,590.0L1097.9,586.6L1099.9,582.1L1105.2,582.9L1107.9,577.8L1111.8,576.7L1116.2,574.3L1118.0,569.0L1122.6,567.6L1127.1,565.3L1133.1,563.1Z" fill="#ff85e0"/>
<path d="M1130.2,567.2L1134.3,563.9L1136.2,564.9L1130.6,569.2Z" fill="#ffffff"/>
<path d="M1115.1,576.4L1118.1,574.2L1120.2,575.5L1116.1,579.1Z" fill="#ffffff"/>
<path d="M1102.2,584.6L1107.3,581.9L1107.5,584.0L1105.0,586.2Z" fill="#ffffff"/>
<path d="M1121.9,570.6L1125.7,567.3L1128.6,569.4L1124.6,571.2Z" fill="#ffffff"/>
<path d="M1136.6,556.9L1140.0,555.5L1144.1,553.7L1145.3,550.5L1150.0,548.2L1152.7,549.5L1158.3,547.5L1160.6,543.9L1165.9,540.4L1169.1,541.7L1175.9,538.4L1180.4,538.1L1186.8,535.4L1188.2,539.5L1184.9,539.5L1181.0,543.0L1179.1,545.3L1174.9,546.6L1171.9,550.2L1166.2,553.3L1164.8,555.7L1160.9,554.3L1154.6,557.8L1149.0,560.6L1146.6,559.9L1140.0,564.9Z" fill="#ff85e0" stroke="#b36b5e" stroke-width="3" stroke-linejoin="round" style="paint-order:stroke"/>
<path d="M1116.6,484.8L1120.1,484.0L1128.4,484.5L1133.7,481.6L1144.4,479.7L1150.4,479.2L1158.5,479.7L1165.5,479.2L1171.5,479.5L1174.4,479.3L1180.8,480.8L1191.9,481.1L1198.4,480.2L1205.1,482.7L1208.4,487.8L1204.8,491.8L1201.3,498.3L1192.2,502.2L1185.7,509.1L1181.8,518.1L1176.9,524.0L1167.2,529.9L1163.5,534.9L1157.0,539.1L1146.0,541.4L1137.3,544.2L1130.5,546.4L1120.5,540.5L1116.9,539.0L1112.4,535.6L1110.1,529.5L1111.6,522.7L1112.9,514.7L1115.4,511.3L1118.6,505.1L1115.1,497.2L1116.4,490.0Z" fill="#b36b5e"/>
<path d="M1163.4,539.0L1171.2,536.0L1174.4,533.5L1180.3,526.5L1185.3,524.8L1189.5,518.9L1195.3,516.9L1200.6,510.4L1205.3,507.6L1209.9,505.9L1215.6,501.3L1224.3,497.9L1231.3,504.9L1224.3,509.2L1216.5,515.0L1211.4,518.9L1206.1,525.0L1199.4,528.2L1196.3,534.9L1191.8,536.5L1183.3,542.2L1178.1,547.3L1175.7,549.3L1167.3,554.5L1158.6,557.0L1151.1,555.7L1155.3,548.4L1158.9,544.0Z" fill="#cc8f85"/>
<path d="M1145.6,528.1L1150.3,525.9L1152.7,522.5L1154.9,517.6L1157.5,514.0L1163.4,510.8L1163.0,506.9L1167.1,504.7L1171.7,500.7L1176.7,498.5L1176.7,492.3L1182.5,491.2L1185.6,487.5L1187.3,485.6L1194.7,484.6L1195.7,481.0L1206.6,485.2L1201.2,490.8L1201.7,496.5L1197.2,499.6L1191.7,501.5L1191.2,504.4L1186.1,509.8L1185.8,509.7L1180.8,515.2L1181.8,518.8L1179.0,520.1L1175.3,523.7L1171.0,526.1L1168.2,528.2L1165.6,533.1L1163.3,536.1L1156.6,539.0L1155.2,541.7L1147.5,535.8L1148.3,531.2Z" fill="#ff85e0" stroke="#b36b5e" stroke-width="2" stroke-linejoin="round" style="paint-order:stroke"/>
<path d="M1164.0,515.1L1167.0,511.6L1168.6,508.8L1173.1,504.9L1175.2,501.4L1179.8,497.5L1181.5,495.0L1186.7,496.2L1182.6,503.1L1179.7,506.6L1176.9,508.8L1174.5,514.4L1172.5,515.3L1169.4,520.4L1163.7,523.0Z" fill="#ffffff" stroke="#e0c0e8" stroke-width="2" stroke-linejoin="round" style="paint-order:stroke"/>
<path d="M1130.1,558.7L1134.5,556.6L1136.7,557.7L1141.5,554.4L1145.8,552.5L1148.3,551.1L1150.6,548.8L1154.4,549.8L1161.6,546.9L1161.1,551.4L1157.9,553.1L1155.6,554.2L1152.2,554.7L1148.8,557.7L1144.4,560.9L1138.2,561.3L1134.4,562.1Z" fill="#ff85e0"/>
<path d="M1175.0,552.5L1195.0,535.0L1212.5,522.5" fill="none" stroke="#cc8f85" stroke-width="4" stroke-linecap="round" stroke-linejoin="round"/>
<path d="M1185.0,557.5L1205.0,540.0L1220.0,527.5" fill="none" stroke="#cc8f85" stroke-width="3" stroke-linecap="round" stroke-linejoin="round"/>
<path d="M501.1,300.6L505.0,300.1L511.2,298.7L514.7,300.6L520.2,300.0L524.4,299.2L530.7,299.5L536.5,301.2L541.7,299.3L545.3,298.8L549.9,298.7L555.3,301.4L561.2,299.6L564.7,301.3L569.1,301.0L576.5,298.7L581.9,300.4L585.2,299.8L590.9,300.1L596.7,301.2L600.1,298.5L606.5,300.4L611.2,298.7L614.4,301.2L620.3,299.9L627.2,299.1L631.2,298.7L636.0,300.7L639.8,300.8L647.3,301.0L651.8,301.3L656.6,300.1L662.0,300.9L661.4,305.7L660.0,310.0L660.5,316.8L661.8,320.3L662.5,324.8L659.7,330.9L659.7,338.0L660.6,341.5L662.1,347.2L661.4,352.1L660.9,358.9L660.3,362.8L660.9,366.9L654.6,369.4L651.2,370.5L643.7,373.3L642.9,378.8L641.6,383.6L640.9,388.1L640.8,395.2L639.8,399.8L641.7,404.8L643.3,410.9L645.1,413.1L648.1,418.6L650.1,423.0L651.3,429.4L653.5,434.6L653.4,440.1L655.1,445.3L650.5,447.1L645.6,448.0L639.9,450.2L639.7,455.5L637.8,458.8L635.8,463.9L635.1,469.1L637.5,474.5L639.2,479.2L638.2,484.0L638.9,490.5L641.2,494.3L642.9,500.5L640.5,505.3L640.0,509.8L637.0,514.6L638.3,519.6L638.8,523.9L640.5,531.4L640.6,535.1L642.4,539.9L642.8,544.7L645.6,551.0L647.6,558.4L648.6,564.3L649.8,567.6L648.9,576.4L655.1,580.3L658.4,584.8L661.8,588.9L662.8,594.3L662.2,601.1L664.2,606.1L664.0,610.2L664.7,616.0L665.1,620.4L666.8,624.5L666.1,630.0L668.1,636.0L667.1,639.1L667.4,645.9L667.2,650.4L666.6,653.7L668.6,660.0L666.8,664.9L669.3,669.7L668.2,674.8L668.0,678.6L669.1,685.2L667.5,689.4L667.1,696.3L669.0,699.6L668.3,705.2L667.1,708.6L668.7,714.0L668.2,718.6L666.6,724.0L668.5,730.3L669.5,735.5L668.1,738.5L669.4,745.0L669.1,748.6L669.0,754.9L667.2,759.7L666.7,765.2L667.2,770.6L667.0,775.6L668.4,780.6L669.4,784.4L668.5,789.7L669.2,796.0L668.8,800.3L667.3,806.2L669.4,811.3L667.5,816.0L668.5,821.0L668.9,824.9L667.7,830.9L668.5,835.1L669.1,838.6L666.5,844.9L666.8,851.0L666.8,856.1L667.2,858.9L668.8,865.5L667.7,870.3L668.2,876.3L668.0,880.1L667.9,884.7L668.6,888.8L668.6,896.3L668.8,900.1L662.5,898.8L656.6,900.1L653.9,901.1L646.7,900.7L643.5,899.9L638.5,899.1L631.9,900.0L628.0,899.8L621.6,901.1L616.8,899.8L611.2,899.9L607.5,899.6L602.3,900.0L595.3,901.4L591.0,900.1L587.9,899.1L580.1,899.1L575.3,901.1L571.3,898.6L565.5,900.0L560.1,899.4L557.2,899.8L550.1,900.3L544.7,900.1L541.2,898.8L535.8,899.4L531.3,900.3L526.7,900.3L519.4,899.1L515.9,900.9L508.9,899.8L504.4,899.9L501.1,900.2L500.7,895.8L499.3,890.4L499.6,884.9L500.1,880.5L499.0,876.0L499.0,869.4L501.0,866.5L499.6,861.4L498.6,856.4L499.1,848.6L500.8,844.0L500.8,838.5L498.9,834.6L498.8,829.9L499.5,825.7L500.0,821.4L501.0,814.0L501.3,811.2L500.2,805.1L499.0,799.5L499.2,794.1L500.3,789.5L500.8,785.2L501.0,778.8L501.0,775.0L500.4,769.2L500.6,764.7L500.7,760.3L498.9,754.4L500.8,748.5L500.4,745.1L500.6,739.5L499.9,734.9L500.7,728.7L500.0,724.3L500.3,719.3L499.1,714.2L501.2,709.6L501.1,705.7L499.3,700.2L498.5,696.3L500.4,688.8L500.1,685.0L500.5,679.4L501.2,675.4L498.7,671.0L501.2,664.4L500.6,661.1L501.1,653.7L501.0,649.2L500.9,645.6L499.9,641.2L500.9,636.5L501.4,630.2L500.7,625.5L499.7,620.0L500.0,614.1L499.3,611.0L501.0,605.6L500.6,600.0L500.2,595.5L498.5,589.8L501.4,584.1L499.9,578.7L499.3,576.0L498.6,570.9L500.9,566.1L499.3,561.3L499.6,554.9L501.4,550.1L500.5,543.8L498.5,539.3L498.8,536.0L499.2,531.4L500.5,524.1L500.6,519.5L500.1,513.7L501.0,510.9L500.2,505.6L499.5,498.9L499.5,495.7L500.2,488.9L499.2,484.9L498.5,478.6L499.8,473.9L501.2,468.9L500.7,465.9L499.4,460.1L501.5,455.4L499.7,451.4L499.3,446.4L499.4,439.8L499.4,435.5L501.1,430.6L499.0,426.5L500.7,420.0L501.0,413.8L500.3,410.9L500.8,405.5L498.7,399.9L499.3,395.3L499.7,389.9L500.1,385.3L501.2,379.3L499.3,374.1L498.8,371.0L501.3,363.9L499.6,361.2L501.1,356.4L501.5,349.4L498.7,344.2L500.0,338.5L499.3,334.9L500.5,329.0L498.9,324.5L498.8,318.9L498.8,315.9L501.1,308.6L500.9,306.0Z" fill="#ffffff"/>
<path d="M307.9,302.0L311.5,297.0L312.6,294.9L316.2,290.5L320.7,283.8L316.9,281.6L314.9,277.9L314.2,273.1L317.4,275.5L322.2,279.1L325.5,281.6L326.4,277.9L330.7,272.5L335.2,270.6L340.7,268.8L343.8,270.7L348.0,271.2L351.3,278.5L354.3,281.7L358.1,284.0L362.7,284.9L366.7,286.3L371.8,286.7L375.7,288.0L377.1,290.0L380.8,293.4L383.7,298.2L387.5,304.4L380.3,305.5L376.1,305.4L371.2,308.3L366.3,308.9L363.3,308.3L357.2,312.7L353.5,314.6L356.8,318.7L361.0,322.3L356.9,324.2L352.2,327.5L347.6,327.9L343.3,327.9L339.0,327.9L334.8,328.7L330.5,330.8L323.8,332.8L320.7,333.5L316.3,329.4L314.3,326.6L317.5,324.1L318.9,318.8L315.1,316.1L313.7,311.6L310.2,306.4Z" fill="#ffaeea" stroke="#ff5aea" stroke-width="2" stroke-linejoin="round" style="paint-order:stroke"/>
<path d="M318.7,300.6L322.1,296.9L324.2,291.8L326.3,288.9L328.9,284.2L334.2,284.8L340.8,281.9L346.2,284.1L349.1,287.2L355.8,289.0L360.8,292.6L364.9,292.5L367.1,292.3L373.1,293.8L375.7,299.2L370.3,300.5L367.6,303.0L361.6,304.3L357.1,305.7L353.5,308.6L350.6,310.5L344.2,311.3L340.4,315.5L333.7,317.1L331.0,317.1L322.5,315.4L321.1,312.3L317.5,309.4L317.5,303.2Z" fill="#ffb0dd"/>
<path d="M350.1,279.8L354.6,281.0L359.3,282.0L365.6,284.3L369.9,285.1L374.0,285.0L373.1,290.7L368.0,289.0L365.4,290.0L360.4,289.1L355.2,288.1L352.3,287.3Z" fill="#c898d8"/>
<path d="M325.4,283.2L330.2,285.7L331.5,290.0L335.2,292.8L336.7,295.2L340.5,300.6L344.2,302.5L347.5,306.9L350.4,313.6L341.4,313.2L337.5,311.0L335.1,307.6L331.7,304.8L329.7,298.9L326.3,293.3L324.6,288.5Z" fill="#b36b5e"/>
<path d="M333.2,294.7L337.0,293.9L337.6,298.9L333.3,300.2Z" fill="#4d4d4d"/>
<path d="M322.7,321.2L326.5,319.4L329.5,317.8L333.8,316.0L341.4,316.2L345.7,317.6L343.8,321.3L338.2,323.1L334.3,321.8L329.9,322.7L327.5,320.3Z" fill="#b36b5e"/>
<path d="M336.2,238.8L337.5,250.0L335.0,260.0L338.8,268.8" fill="none" stroke="#ff85e0" stroke-width="2.5" stroke-linecap="round" stroke-linejoin="round"/>
<path d="M330.0,255.0L340.0,257.5L350.0,262.5L360.0,263.8L365.0,257.5" fill="none" stroke="#ff85e0" stroke-width="2" stroke-linecap="round" stroke-linejoin="round"/>
<path d="M312.5,271.2L320.0,266.2L327.5,260.0" fill="none" stroke="#ff85e0" stroke-width="2" stroke-linecap="round" stroke-linejoin="round"/>
<path d="M375.0,268.8L383.8,271.2" fill="none" stroke="#ff85e0" stroke-width="2.5" stroke-linecap="round" stroke-linejoin="round"/>
<path d="M252.9,326.4L258.3,326.8L263.2,322.7L267.6,325.3L273.7,328.0L271.9,331.0L270.7,335.9L269.7,340.2L267.3,344.8L267.9,349.7L265.0,355.7L265.0,360.6L263.0,365.6L261.7,370.3L259.6,374.2L258.3,379.6L258.1,383.8L254.7,386.4L251.2,391.2L249.0,385.9L248.6,379.9L247.2,373.8L248.2,370.4L249.5,364.1L248.9,360.1L251.5,355.5L251.7,350.2L255.0,344.4L254.6,341.8L254.2,336.1L253.5,331.8Z" fill="#d2a6dc"/>
<path d="M259.0,328.9L266.9,331.7L268.1,336.3L267.6,341.0L267.3,346.0L261.8,349.9L259.3,345.2L258.3,340.9L258.2,335.4Z" fill="#ffaeea"/>
<path d="M244.6,382.3L249.3,382.9L254.6,380.5L258.7,381.2L262.6,382.7L266.7,385.8L268.3,390.7L270.3,395.3L270.5,400.1L269.7,404.6L270.1,408.5L273.1,413.8L271.6,418.6L267.0,419.0L263.0,418.0L259.7,419.9L253.7,419.3L250.8,418.7L246.0,417.5L241.5,418.8L237.1,420.0L237.4,415.0L238.9,410.1L238.4,404.7L239.6,399.0L239.6,394.4L241.9,391.1L244.6,388.0Z" fill="#ffaeea" stroke="#c898d8" stroke-width="3" stroke-linejoin="round" style="paint-order:stroke"/>
<path d="M249.8,400.0L253.1,399.8L258.4,397.5L263.5,396.3L263.4,401.6L267.1,404.9L266.9,410.8L263.7,413.6L259.6,414.3L257.0,418.4L252.7,415.5L251.0,413.7L250.8,407.2L250.0,403.4Z" fill="#ffb0dd"/>
<path d="M300.0,327.5L298.8,340.0L300.0,352.5" fill="none" stroke="#ff85e0" stroke-width="2" stroke-linecap="round" stroke-linejoin="round"/>
<path d="M310.0,330.0L315.0,340.0L317.5,350.0L330.0,346.2L340.0,346.2" fill="none" stroke="#ff85e0" stroke-width="2" stroke-linecap="round" stroke-linejoin="round"/>
<path d="M395.0,298.8L405.0,300.0L412.5,310.0" fill="none" stroke="#ff85e0" stroke-width="2" stroke-linecap="round" stroke-linejoin="round"/>
<path d="M400.0,317.5L405.0,327.5" fill="none" stroke="#ff85e0" stroke-width="2" stroke-linecap="round" stroke-linejoin="round"/>
<path d="M374.0,361.8L378.1,359.6L379.0,355.7L381.4,354.2L385.7,349.9L390.4,350.0L392.6,346.9L396.7,346.6L399.4,350.0L401.5,353.8L402.0,357.9L405.3,360.5L405.8,364.9L408.1,369.8L410.9,374.6L413.7,378.5L415.2,383.7L420.8,383.7L424.0,386.9L428.9,388.6L436.1,389.6L441.2,391.1L445.6,392.7L448.0,393.3L453.1,396.1L450.3,400.8L449.4,404.4L446.0,407.8L440.6,410.8L434.8,409.5L429.8,408.8L425.7,409.7L419.5,408.7L414.3,406.2L412.1,404.9L407.9,402.1L405.6,397.0L403.2,395.1L399.1,391.9L397.3,386.9L393.4,383.8L390.1,379.5L386.4,375.3L385.6,370.5L379.7,373.4L373.7,374.0L368.7,373.9L365.1,371.8L368.4,367.9L370.5,367.0Z" fill="#ffaeea" stroke="#ff5aea" stroke-width="2" stroke-linejoin="round" style="paint-order:stroke"/>
<path d="M386.0,358.9L390.4,357.5L395.1,355.9L397.9,361.1L400.5,366.1L401.5,370.8L404.5,376.1L409.1,379.5L412.3,381.4L415.1,385.7L417.6,386.7L422.7,388.7L425.8,390.0L430.6,390.9L435.5,394.0L439.7,394.7L445.0,397.1L444.4,403.2L440.6,405.0L435.8,406.7L432.5,406.8L428.1,404.2L423.9,404.8L418.9,405.0L416.9,401.1L412.1,398.1L409.6,396.6L405.8,392.9L402.7,389.8L400.5,386.3L398.2,383.2L393.9,380.0L392.5,376.9L391.1,371.5L388.4,366.8Z" fill="#ffb0dd"/>
<path d="M390.4,368.7L393.3,373.2L394.9,376.7L397.2,379.3L401.3,383.7L403.0,386.1L408.6,389.4L412.0,392.1L417.2,394.9L416.3,396.5L410.1,395.0L406.5,393.6L403.0,393.5L398.1,387.9L394.8,385.3L391.5,382.3L391.3,378.9L392.0,375.4Z" fill="#b36b5e"/>
<path d="M411.1,394.0L413.8,392.7L418.1,391.9L419.9,391.5L424.1,393.1L426.9,392.8L429.7,393.5L432.9,395.5L433.5,398.0L430.7,399.9L427.1,399.2L423.2,400.2L420.7,399.8L415.8,399.8L412.4,397.9Z" fill="#4d4d4d"/>
<path d="M352.0,419.3L355.4,414.9L356.8,411.0L357.3,408.3L361.2,404.8L363.0,401.7L366.1,398.7L367.6,393.9L368.7,390.9L372.1,386.2L378.8,384.5L383.6,381.2L384.6,387.0L388.0,390.4L387.2,393.3L387.7,399.4L386.5,403.3L387.0,407.5L385.6,413.1L385.6,419.4L380.5,419.5L376.6,419.2L372.5,419.8L369.9,419.5L364.4,418.4L360.5,419.0L355.4,418.9Z" fill="#ffaeea" stroke="#c898d8" stroke-width="3" stroke-linejoin="round" style="paint-order:stroke"/>
<path d="M370.7,398.1L375.1,397.6L375.5,401.0L375.4,404.2L370.4,403.9Z" fill="#4d4d4d"/>
<path d="M553.4,267.2L558.1,266.8L562.5,268.8L566.3,269.1L570.7,270.8L575.3,271.2L579.8,272.9L583.2,277.2L583.3,281.7L584.1,285.0L584.5,289.2L585.2,293.5L585.4,298.8L579.4,297.5L579.4,295.1L577.0,292.1L576.0,287.2L573.8,283.5L570.6,280.9L564.6,276.7L559.7,273.3L556.0,270.9Z" fill="#d2a6dc"/>
<path d="M605.0,256.2L615.0,260.0" fill="none" stroke="#d2a6dc" stroke-width="4" stroke-linecap="round" stroke-linejoin="round"/>
<path d="M586.4,306.3L592.4,303.5L596.2,301.1L600.7,301.0L603.9,300.8L607.6,301.0L613.4,302.9L616.5,300.8L620.0,297.0L624.6,296.4L629.2,294.5L634.5,291.9L639.4,295.9L643.1,300.6L642.6,303.8L644.2,310.1L644.0,315.5L642.6,320.2L640.0,324.6L640.3,327.3L637.3,331.0L632.8,331.2L632.0,328.1L631.0,325.0L629.0,320.9L627.0,314.4L623.8,309.0L619.4,309.5L616.1,307.9L609.5,308.4L605.4,308.4L600.4,307.8L595.1,310.8L593.1,311.5L588.8,309.2Z" fill="#d2a6dc"/>
<path d="M598.9,304.9L604.7,303.3L608.1,303.4L611.4,304.6L617.6,304.4L621.5,302.0L625.2,300.0L630.4,305.0L624.7,307.1L619.5,307.3L615.5,308.7L609.6,307.3L604.7,306.7Z" fill="#ff5aea"/>
<path d="M650.0,282.5L643.8,290.0L637.5,295.0" fill="none" stroke="#d2a6dc" stroke-width="3" stroke-linecap="round" stroke-linejoin="round"/>
<path d="M585.0,312.5L575.0,316.2L566.2,320.0" fill="none" stroke="#d2a6dc" stroke-width="3" stroke-linecap="round" stroke-linejoin="round"/>
<path d="M564.8,318.0L569.5,317.0L570.2,322.1L565.9,321.9Z" fill="#d2a6dc"/>
<path d="M570.0,344.2L574.1,348.0L576.8,349.3L579.5,352.9L583.5,357.6L585.8,359.7L588.0,363.0L591.1,368.7L585.6,367.6L581.3,369.2L577.0,368.7L574.7,365.5L574.2,362.0L573.1,358.1L571.0,352.7L571.1,348.0Z" fill="#d2a6dc"/>
<path d="M613.6,344.3L616.6,343.8L619.7,344.7L625.7,344.0L625.2,351.1L627.4,357.0L619.8,358.8L618.5,352.5L615.1,348.6Z" fill="#d2a6dc"/>
<path d="M571.9,384.3L575.3,384.0L577.6,383.3L578.4,386.5L578.0,390.0L575.5,389.2L573.1,390.1L572.6,387.3Z" fill="#ffaeea"/>
<path d="M637.8,383.6L639.5,378.9L642.9,376.6L646.1,371.9L649.1,369.2L655.9,369.9L661.4,368.7L661.6,373.4L660.4,377.0L660.6,381.9L660.6,386.2L660.6,390.9L662.5,393.9L660.4,399.6L660.4,402.9L662.2,406.5L662.5,409.7L662.1,415.7L662.5,419.7L657.0,418.8L653.8,418.4L648.0,417.5L643.5,417.8L641.1,418.3L641.1,416.2L643.5,411.1L643.5,407.1L645.5,404.9L647.3,401.2L644.9,395.3L644.5,391.9L642.2,389.7L638.9,386.9Z" fill="#d2a6dc"/>
<path d="M624.8,436.3L629.2,436.0L634.2,434.4L637.7,435.2L641.6,433.2L645.8,435.0L648.5,433.1L652.3,434.1L656.4,434.8L661.3,435.0L662.1,437.6L660.7,441.6L661.8,446.7L658.0,445.3L651.3,446.2L648.5,446.1L644.3,446.6L639.3,446.6L633.5,446.9L630.4,444.7L626.6,440.7Z" fill="#e0c0e8"/>
<path d="M237.0,423.6L241.1,422.0L245.8,422.8L249.5,422.3L255.6,422.7L261.2,424.7L265.6,425.1L267.1,427.6L272.1,430.7L275.4,434.6L282.2,433.3L287.6,432.7L290.7,431.8L296.3,432.4L296.9,433.9L299.4,437.6L299.0,442.9L295.5,446.9L293.0,449.1L288.6,450.0L282.9,448.8L275.8,447.4L274.3,452.6L272.5,454.4L270.2,460.0L268.7,462.6L267.4,466.6L268.1,470.8L269.3,475.5L270.5,479.6L270.3,485.4L269.8,489.7L271.4,494.1L271.1,498.1L273.4,502.8L268.7,499.6L267.2,496.3L263.1,495.0L259.8,491.2L255.6,490.9L253.2,487.0L249.9,483.8L247.2,481.7L247.3,475.9L244.5,471.4L242.0,468.4L240.7,464.2L238.4,461.3L238.2,454.3L237.5,451.4L238.0,447.5L238.3,440.8L241.3,437.3L239.3,432.8L237.3,427.1Z" fill="#ffaeea" stroke="#c898d8" stroke-width="3" stroke-linejoin="round" style="paint-order:stroke"/>
<path d="M312.2,460.6L318.2,459.3L321.7,457.4L324.4,460.8L323.8,466.1L326.3,468.8L321.7,472.4L317.6,475.9L314.8,470.3L313.7,465.7Z" fill="#ffaeea"/>
<path d="M329.3,434.8L331.6,433.2L336.8,430.2L340.6,428.7L344.3,427.2L350.8,425.2L356.0,424.5L360.2,424.7L364.2,425.0L367.7,423.2L370.9,423.2L375.8,422.3L379.8,424.3L382.6,426.6L385.4,429.5L388.8,432.7L392.8,435.4L395.8,438.9L398.0,440.8L399.6,443.8L404.1,447.6L409.1,448.6L414.7,450.4L412.6,454.2L409.5,457.9L404.7,461.3L403.2,463.2L399.6,467.6L398.4,470.2L396.0,475.4L393.6,479.8L391.4,484.8L390.6,489.9L387.2,494.3L382.3,495.4L381.1,499.2L379.2,504.8L376.0,508.7L374.8,515.3L368.8,516.2L364.4,521.0L362.3,516.0L358.1,513.1L355.5,509.4L351.3,507.5L347.6,504.8L345.6,502.5L340.5,498.8L338.5,495.1L334.7,492.7L332.6,487.5L331.8,483.0L329.8,478.9L328.9,476.0L328.5,472.1L329.7,467.3L327.6,462.9L329.7,459.8L329.4,455.2L328.3,451.9L328.9,448.3L327.9,442.8L329.2,440.1Z" fill="#ffaeea"/>
<path d="M359.9,505.7L362.7,502.2L367.1,499.3L370.7,494.8L374.4,493.1L379.6,494.1L382.8,492.4L387.8,493.4L391.6,494.5L394.9,493.8L398.3,493.6L402.9,492.0L407.8,489.1L412.3,485.7L414.7,485.1L417.6,487.8L421.6,489.0L425.7,490.3L429.9,492.0L432.5,495.4L437.0,496.4L441.2,499.0L444.3,501.9L449.6,505.0L451.0,508.0L450.2,513.3L449.4,516.6L449.9,522.0L450.7,524.9L448.9,528.6L450.8,532.8L449.7,537.4L448.8,541.4L450.5,544.0L445.6,544.3L441.0,541.7L437.1,540.1L433.0,537.9L430.3,537.2L426.3,534.6L420.9,535.7L418.0,536.7L413.5,537.2L409.1,538.4L406.1,539.7L402.2,542.2L396.6,544.1L394.1,546.5L389.8,548.2L385.3,549.1L382.9,547.4L379.4,543.5L376.7,541.1L372.5,539.3L370.7,535.5L369.5,531.2L366.8,527.6L366.8,522.6L364.1,517.9L361.7,514.6L362.3,509.5Z" fill="#ffaeea"/>
<path d="M374.9,518.3L377.5,514.7L381.9,512.8L385.9,510.3L391.0,507.3L393.4,506.9L399.6,508.7L403.0,508.2L406.5,508.7L412.9,508.2L415.8,508.7L420.8,507.4L425.4,507.9L431.3,508.1L434.5,509.8L439.5,511.8L442.1,515.8L446.1,518.1L450.8,520.8L448.8,524.4L450.9,528.7L450.3,532.3L450.8,536.8L449.6,540.8L449.9,544.2L446.3,544.2L442.1,540.4L437.3,540.7L432.4,538.3L429.6,536.8L424.6,533.7L421.5,535.1L417.3,537.1L413.6,537.0L410.2,539.6L406.0,539.2L401.6,541.7L397.5,544.5L392.8,547.2L388.8,547.9L385.6,549.1L383.5,546.1L381.0,542.1L376.5,539.7L374.3,535.8L371.7,533.1L374.0,528.0L373.2,521.3Z" fill="#cc8f85"/>
<path d="M452.7,418.9L457.6,419.9L462.6,420.3L466.4,420.1L470.5,418.5L473.9,419.3L479.6,419.5L483.4,419.5L488.6,419.7L490.7,421.6L496.5,421.9L501.3,421.1L501.3,424.7L504.3,427.8L507.3,430.9L510.0,434.3L509.9,440.9L511.4,445.6L513.2,449.8L513.2,453.3L513.6,459.1L513.4,461.1L510.5,465.8L511.9,470.1L514.1,476.3L515.1,479.4L516.0,483.9L514.5,489.7L512.8,492.2L511.9,498.0L510.6,500.0L508.6,504.3L507.7,508.5L504.9,513.5L502.6,516.1L502.5,519.5L498.0,524.1L494.2,527.8L491.0,532.1L487.3,531.5L483.3,531.1L478.8,529.4L474.6,529.5L468.7,532.4L465.1,533.3L460.5,533.9L455.3,533.1L451.3,531.0L452.5,527.1L453.4,521.6L452.1,517.6L453.2,513.6L453.1,510.9L453.1,505.6L453.1,501.5L452.7,497.2L453.6,494.6L452.7,489.4L451.5,485.4L453.6,480.4L453.2,476.4L453.1,472.4L452.7,469.6L451.3,465.7L452.6,460.1L452.0,456.8L453.1,451.8L451.4,447.8L452.8,444.2L453.2,441.0L452.2,436.5L451.6,432.5L452.9,427.5L452.9,423.1Z" fill="#ffaeea"/>
<path d="M456.2,432.6L461.1,432.1L464.3,431.4L470.3,429.7L474.9,431.6L479.2,431.1L484.3,433.9L487.3,434.9L492.1,436.3L493.4,438.9L497.5,441.6L497.4,447.5L497.5,451.5L499.1,456.2L499.4,459.9L497.6,463.7L497.6,469.7L494.5,476.1L493.4,479.5L491.6,483.5L492.2,489.0L490.8,493.6L487.6,495.5L485.7,501.2L485.1,504.7L482.2,507.6L478.6,511.5L474.1,515.7L471.7,518.9L470.7,521.1L467.4,523.6L464.1,528.0L457.2,530.2L455.9,524.4L454.1,520.7L453.6,514.1L454.7,509.8L453.0,505.5L453.9,502.9L452.5,499.0L454.3,494.4L453.5,489.1L452.7,484.4L454.7,480.3L454.8,477.5L454.8,471.6L453.5,469.2L453.3,463.5L452.5,460.1L454.1,454.7L453.5,451.2L453.5,447.0L455.6,441.5L453.8,437.3Z" fill="#b36b5e"/>
<path d="M527.0,466.5L531.4,464.3L533.6,460.2L538.1,458.6L541.5,457.7L545.5,457.4L550.8,457.0L555.3,457.6L554.3,460.5L555.8,464.6L556.6,469.7L557.3,474.5L557.8,478.2L552.5,479.0L550.6,478.7L546.4,479.1L541.3,478.6L537.4,480.6L535.8,477.9L532.5,474.9L529.7,469.4Z" fill="#ffaeea"/>
<path d="M557.3,485.1L562.4,482.6L564.6,482.2L569.2,480.9L575.2,480.7L580.1,484.0L584.3,486.2L586.3,489.1L590.2,495.5L586.1,497.8L580.9,497.2L577.6,499.6L573.1,498.9L570.2,497.8L565.5,497.7L556.9,498.6L556.9,492.8L556.7,489.7Z" fill="#ffaeea"/>
<path d="M560.5,509.6L564.0,509.4L569.6,508.5L575.4,506.2L577.2,510.8L582.6,511.4L584.3,514.8L580.9,517.0L576.2,518.9L571.9,518.0L566.9,519.6L563.1,518.6Z" fill="#ffaeea"/>
<path d="M274.6,448.9L281.2,448.1L285.8,451.3L285.8,454.7L289.1,460.2L291.3,464.8L292.3,467.8L294.3,473.6L296.8,477.4L300.9,480.2L302.7,481.8L305.5,487.7L311.4,491.4L311.2,495.7L313.6,498.4L316.9,504.1L318.0,506.9L318.8,510.7L321.8,514.9L325.2,519.4L326.0,524.9L328.4,526.0L329.2,531.4L331.1,535.2L334.4,538.2L339.5,541.8L341.6,546.0L345.8,549.7L347.5,553.9L347.7,556.4L349.7,560.9L349.8,564.2L351.5,570.1L354.0,574.5L352.3,579.7L356.1,583.8L356.3,590.3L361.6,587.0L365.3,586.4L366.8,581.0L365.3,577.1L366.9,573.0L367.2,568.0L367.7,563.7L366.7,558.8L366.7,555.0L364.8,551.4L364.1,547.7L364.9,544.1L362.6,539.7L361.8,536.8L360.9,531.7L359.6,526.6L362.9,523.8L366.9,521.1L369.7,526.9L371.3,531.6L374.9,535.4L376.5,540.9L378.9,543.9L380.1,549.3L388.2,549.6L391.7,546.1L399.0,543.9L399.3,543.0L401.2,538.1L404.8,535.5L408.3,532.3L409.5,525.4L411.6,521.0L413.5,517.9L417.0,511.3L416.8,508.7L422.8,509.7L421.7,512.7L422.7,518.3L422.7,522.0L425.5,524.5L424.4,529.7L430.3,533.2L435.5,534.8L437.0,530.4L439.9,526.3L442.0,529.0L444.2,532.4L445.6,536.7L447.8,541.5L451.4,546.2L457.8,548.0L460.8,547.3L464.0,548.5L469.8,546.7L474.3,544.9L479.6,544.1L484.2,546.3L487.2,545.2L491.1,546.2L496.8,544.4L500.3,543.4L502.4,540.2L507.5,541.3L509.8,535.7L510.1,530.6L512.9,528.3L511.3,522.1L510.2,519.8L510.8,514.7L513.7,511.3L513.6,507.4L518.7,505.6L518.8,501.2L522.2,498.7L523.6,496.9L527.6,491.8L531.1,495.2L538.8,498.2L543.6,496.1L548.0,491.2L551.9,494.6L557.2,495.4L561.2,495.5L568.0,491.9L569.9,497.8L571.4,501.2L574.2,506.2L573.4,509.7L569.6,511.7L567.0,514.6L565.1,520.2L561.5,523.7L560.0,527.6L561.2,531.5L561.3,537.1L559.4,540.4L560.6,544.4L559.3,549.1L563.8,553.7L571.5,556.0L574.0,555.5L578.6,554.3L582.1,553.1L585.2,553.5L589.6,554.2L591.7,557.0L596.1,562.7L598.8,566.8L599.1,570.0L600.0,574.9L597.2,577.9L597.3,580.5L595.2,586.7L595.5,589.8L592.7,595.1L589.5,598.8L594.1,604.2L596.5,607.5L601.0,610.6L605.9,609.7L608.6,608.0L614.9,605.8L620.7,602.1L625.3,600.4L630.7,599.5L634.6,601.0L640.9,603.8L644.4,605.7L647.8,603.4L652.8,600.8L656.6,599.0L660.6,594.9L665.3,597.7L669.4,599.4L673.4,606.0L675.0,610.0L675.0,960.0L300.0,960.0L409.9,670.4L407.1,665.6L405.9,662.0L404.8,658.1L401.4,652.8L398.5,649.8L397.3,644.7L392.7,641.2L391.0,637.0L385.6,641.9L381.0,640.9L375.6,640.4L375.8,636.1L375.0,629.7L371.6,626.5L365.9,622.9L360.8,619.7L358.0,618.2L353.2,615.6L348.3,613.5L344.9,612.3L339.7,609.7L336.2,606.2L334.2,603.3L334.1,599.1L336.1,596.2L332.2,591.4L329.9,588.9L324.9,584.8L321.8,581.0L319.9,579.1L316.6,575.6L314.2,572.7L312.1,569.8L310.7,566.0L307.2,562.1L304.3,560.3L303.9,555.4L302.4,553.5L299.1,548.8L297.9,544.6L294.7,541.8L292.5,537.3L290.2,532.8L287.4,529.5L284.2,525.9L283.0,521.7L280.0,517.9L277.9,514.9L275.6,508.8L274.5,506.7L272.2,502.3L271.5,497.5L272.0,494.6L270.1,489.5L269.9,484.1L269.9,480.7L269.9,477.2L269.1,471.3L266.6,468.2L267.4,463.8L268.4,459.7L270.0,455.0Z" fill="none" stroke="#ff85e0" stroke-width="15" stroke-linecap="round" stroke-linejoin="round"/>
<path d="M274.6,448.9L281.2,448.1L285.8,451.3L285.8,454.7L289.1,460.2L291.3,464.8L292.3,467.8L294.3,473.6L296.8,477.4L300.9,480.2L302.7,481.8L305.5,487.7L311.4,491.4L311.2,495.7L313.6,498.4L316.9,504.1L318.0,506.9L318.8,510.7L321.8,514.9L325.2,519.4L326.0,524.9L328.4,526.0L329.2,531.4L331.1,535.2L334.4,538.2L339.5,541.8L341.6,546.0L345.8,549.7L347.5,553.9L347.7,556.4L349.7,560.9L349.8,564.2L351.5,570.1L354.0,574.5L352.3,579.7L356.1,583.8L356.3,590.3L361.6,587.0L365.3,586.4L366.8,581.0L365.3,577.1L366.9,573.0L367.2,568.0L367.7,563.7L366.7,558.8L366.7,555.0L364.8,551.4L364.1,547.7L364.9,544.1L362.6,539.7L361.8,536.8L360.9,531.7L359.6,526.6L362.9,523.8L366.9,521.1L369.7,526.9L371.3,531.6L374.9,535.4L376.5,540.9L378.9,543.9L380.1,549.3L388.2,549.6L391.7,546.1L399.0,543.9L399.3,543.0L401.2,538.1L404.8,535.5L408.3,532.3L409.5,525.4L411.6,521.0L413.5,517.9L417.0,511.3L416.8,508.7L422.8,509.7L421.7,512.7L422.7,518.3L422.7,522.0L425.5,524.5L424.4,529.7L430.3,533.2L435.5,534.8L437.0,530.4L439.9,526.3L442.0,529.0L444.2,532.4L445.6,536.7L447.8,541.5L451.4,546.2L457.8,548.0L460.8,547.3L464.0,548.5L469.8,546.7L474.3,544.9L479.6,544.1L484.2,546.3L487.2,545.2L491.1,546.2L496.8,544.4L500.3,543.4L502.4,540.2L507.5,541.3L509.8,535.7L510.1,530.6L512.9,528.3L511.3,522.1L510.2,519.8L510.8,514.7L513.7,511.3L513.6,507.4L518.7,505.6L518.8,501.2L522.2,498.7L523.6,496.9L527.6,491.8L531.1,495.2L538.8,498.2L543.6,496.1L548.0,491.2L551.9,494.6L557.2,495.4L561.2,495.5L568.0,491.9L569.9,497.8L571.4,501.2L574.2,506.2L573.4,509.7L569.6,511.7L567.0,514.6L565.1,520.2L561.5,523.7L560.0,527.6L561.2,531.5L561.3,537.1L559.4,540.4L560.6,544.4L559.3,549.1L563.8,553.7L571.5,556.0L574.0,555.5L578.6,554.3L582.1,553.1L585.2,553.5L589.6,554.2L591.7,557.0L596.1,562.7L598.8,566.8L599.1,570.0L600.0,574.9L597.2,577.9L597.3,580.5L595.2,586.7L595.5,589.8L592.7,595.1L589.5,598.8L594.1,604.2L596.5,607.5L601.0,610.6L605.9,609.7L608.6,608.0L614.9,605.8L620.7,602.1L625.3,600.4L630.7,599.5L634.6,601.0L640.9,603.8L644.4,605.7L647.8,603.4L652.8,600.8L656.6,599.0L660.6,594.9L665.3,597.7L669.4,599.4L673.4,606.0L675.0,610.0L675.0,960.0L300.0,960.0L409.9,670.4L407.1,665.6L405.9,662.0L404.8,658.1L401.4,652.8L398.5,649.8L397.3,644.7L392.7,641.2L391.0,637.0L385.6,641.9L381.0,640.9L375.6,640.4L375.8,636.1L375.0,629.7L371.6,626.5L365.9,622.9L360.8,619.7L358.0,618.2L353.2,615.6L348.3,613.5L344.9,612.3L339.7,609.7L336.2,606.2L334.2,603.3L334.1,599.1L336.1,596.2L332.2,591.4L329.9,588.9L324.9,584.8L321.8,581.0L319.9,579.1L316.6,575.6L314.2,572.7L312.1,569.8L310.7,566.0L307.2,562.1L304.3,560.3L303.9,555.4L302.4,553.5L299.1,548.8L297.9,544.6L294.7,541.8L292.5,537.3L290.2,532.8L287.4,529.5L284.2,525.9L283.0,521.7L280.0,517.9L277.9,514.9L275.6,508.8L274.5,506.7L272.2,502.3L271.5,497.5L272.0,494.6L270.1,489.5L269.9,484.1L269.9,480.7L269.9,477.2L269.1,471.3L266.6,468.2L267.4,463.8L268.4,459.7L270.0,455.0Z" fill="none" stroke="#cc8f85" stroke-width="7" stroke-linecap="round" stroke-linejoin="round"/>
<path d="M248.8,483.9L255.1,484.2L258.2,484.6L263.2,481.8L265.0,486.2L266.4,490.0L267.8,494.0L269.9,497.7L273.5,502.2L274.5,507.1L276.7,509.1L279.3,514.9L280.9,517.1L283.4,522.0L283.8,525.5L288.0,530.1L283.7,530.8L278.4,531.2L272.1,526.1L267.5,523.3L263.9,520.0L262.3,515.6L260.4,514.1L256.8,509.3L255.7,506.7L251.2,502.8L251.2,499.4L249.5,494.9L251.0,490.8Z" fill="#cc8f85"/>
<path d="M282.2,527.9L286.3,528.9L289.7,534.1L291.6,536.3L295.9,540.4L296.3,543.9L298.3,548.2L301.5,552.9L302.6,556.3L304.6,560.2L306.5,563.4L308.7,567.3L311.7,569.5L314.2,572.4L316.9,576.0L320.7,579.6L323.7,581.8L325.1,584.6L327.8,588.4L332.9,590.5L335.6,594.5L333.6,598.6L332.2,603.3L329.5,607.4L325.3,608.6L324.2,610.8L319.4,614.5L315.0,617.4L314.2,611.2L312.3,602.7L310.3,597.7L307.5,595.6L305.8,592.3L303.0,587.4L299.8,585.0L296.3,582.4L294.0,578.5L291.9,574.1L291.6,571.1L288.9,566.9L286.4,563.5L286.4,557.2L284.3,554.0L282.2,551.1L279.3,546.1L278.6,543.9L274.8,539.7L276.9,534.1L278.1,529.3Z" fill="#cc8f85"/>
<path d="M285.8,448.9L287.7,455.9L287.1,459.1L291.1,465.8L292.0,469.5L295.2,471.8L298.0,476.0L299.1,480.9L303.9,482.7L306.5,487.1L309.7,489.4L311.9,495.5L312.7,498.1L315.6,504.4L318.8,506.2L320.4,510.7L321.7,514.9L325.0,521.3L328.1,523.4L329.8,528.0L329.5,532.3L331.9,536.2L334.9,539.4L339.2,541.7L341.7,545.0L345.0,548.9L347.5,552.6L349.2,555.3L350.6,560.3L351.8,564.6L351.6,570.8L351.9,574.7L355.9,578.7L357.5,580.4L360.7,584.8L360.2,579.7L360.7,575.9L363.3,571.2L361.3,564.1L359.0,561.3L356.2,554.6L354.7,550.4L353.2,547.8L350.8,544.7L349.8,539.2L346.5,536.9L344.6,533.8L341.5,530.2L340.0,526.4L338.1,524.6L336.5,519.0L334.7,515.2L331.6,511.2L330.7,507.9L328.2,504.0L327.9,500.3L325.5,498.3L322.4,493.5L319.6,490.0L318.0,483.9L315.5,480.9L312.5,477.9L310.0,476.0L308.1,472.0L303.4,468.2L302.7,464.3L299.1,460.7L297.0,457.0L295.8,452.3L293.3,446.6Z" fill="#cc8f85"/>
<path d="M600.0,640.0L669.1,635.8L671.2,632.3L672.8,626.0L671.2,623.1L671.8,618.3L673.3,613.8L675.6,610.5L677.1,604.1L679.9,602.5L681.6,598.0L682.3,594.9L684.3,589.7L683.2,583.1L686.5,581.7L685.8,574.5L686.6,572.3L688.5,564.8L690.5,564.2L696.8,563.6L701.6,563.4L703.8,562.2L708.6,562.8L713.1,559.7L717.8,554.8L720.6,555.3L726.4,549.7L730.7,549.1L734.8,545.9L737.8,542.5L742.5,541.7L747.7,538.7L751.6,539.8L753.9,540.8L757.5,539.6L762.8,542.5L765.6,542.6L771.5,543.6L774.2,543.2L780.7,545.3L784.1,546.4L788.0,546.5L790.4,547.6L797.7,550.5L798.2,549.2L802.3,553.9L805.4,556.1L808.8,556.9L814.4,560.2L815.3,564.9L818.5,568.3L815.7,573.2L814.3,577.6L810.7,580.6L809.3,586.4L806.7,590.1L800.7,593.5L805.4,593.8L810.7,598.2L811.9,598.3L817.3,596.6L819.8,594.9L823.7,596.0L829.1,594.4L834.1,591.2L840.9,591.4L845.4,590.2L851.3,594.2L853.5,593.7L855.0,596.5L861.9,599.3L861.6,603.9L863.1,608.7L867.4,611.1L865.6,617.8L870.0,621.7L868.8,626.8L868.1,628.1L866.9,635.8L867.5,638.4L872.9,639.3L874.4,639.5L881.2,640.6L883.8,639.5L890.3,638.6L896.1,638.6L901.1,641.7L906.9,640.0L909.5,643.7L913.5,641.8L917.7,638.0L921.5,635.9L926.6,637.2L933.4,641.3L933.6,642.4L936.3,648.6L941.9,652.1L946.2,653.9L946.7,648.9L947.7,647.1L949.0,643.7L952.0,639.8L957.0,636.4L957.3,642.1L955.3,645.9L958.1,653.8L955.7,657.3L953.2,660.3L951.4,662.9L946.4,664.9L941.4,668.3L945.1,671.2L950.0,673.6L956.3,674.1L959.9,679.7L960.4,682.0L963.8,683.3L968.9,682.6L973.0,680.6L979.6,680.6L983.1,674.1L983.1,673.9L989.5,671.9L995.8,671.4L999.3,668.6L1002.6,671.7L1010.0,669.8L1011.4,672.6L1015.7,671.6L1020.8,669.9L1023.5,669.7L1030.4,667.7L1033.5,669.6L1037.8,666.9L1042.5,671.1L1046.2,671.7L1047.4,674.8L1053.9,674.2L1057.7,672.6L1064.1,666.9L1065.2,667.9L1069.8,669.2L1076.9,672.7L1079.3,669.2L1081.3,665.2L1085.9,662.8L1087.1,661.0L1092.3,659.5L1094.1,654.7L1098.8,652.2L1099.6,654.9L1103.4,656.5L1108.6,659.4L1111.3,655.9L1112.6,654.5L1118.6,650.8L1121.7,646.2L1125.0,646.3L1129.5,648.7L1132.2,650.3L1133.2,656.4L1135.6,659.0L1139.6,665.8L1144.1,669.8L1148.4,670.8L1149.0,673.5L1153.5,675.1L1160.2,678.6L1162.5,678.2L1168.3,680.6L1171.9,682.2L1175.0,685.0L1175.0,910.0L600.0,910.0L600.0,1200.0Z" fill="#4d4d4d"/>
<path d="M274.6,448.9L281.2,448.1L285.8,451.3L285.8,454.7L289.1,460.2L291.3,464.8L292.3,467.8L294.3,473.6L296.8,477.4L300.9,480.2L302.7,481.8L305.5,487.7L311.4,491.4L311.2,495.7L313.6,498.4L316.9,504.1L318.0,506.9L318.8,510.7L321.8,514.9L325.2,519.4L326.0,524.9L328.4,526.0L329.2,531.4L331.1,535.2L334.4,538.2L339.5,541.8L341.6,546.0L345.8,549.7L347.5,553.9L347.7,556.4L349.7,560.9L349.8,564.2L351.5,570.1L354.0,574.5L352.3,579.7L356.1,583.8L356.3,590.3L361.6,587.0L365.3,586.4L366.8,581.0L365.3,577.1L366.9,573.0L367.2,568.0L367.7,563.7L366.7,558.8L366.7,555.0L364.8,551.4L364.1,547.7L364.9,544.1L362.6,539.7L361.8,536.8L360.9,531.7L359.6,526.6L362.9,523.8L366.9,521.1L369.7,526.9L371.3,531.6L374.9,535.4L376.5,540.9L378.9,543.9L380.1,549.3L388.2,549.6L391.7,546.1L399.0,543.9L399.3,543.0L401.2,538.1L404.8,535.5L408.3,532.3L409.5,525.4L411.6,521.0L413.5,517.9L417.0,511.3L416.8,508.7L422.8,509.7L421.7,512.7L422.7,518.3L422.7,522.0L425.5,524.5L424.4,529.7L430.3,533.2L435.5,534.8L437.0,530.4L439.9,526.3L442.0,529.0L444.2,532.4L445.6,536.7L447.8,541.5L451.4,546.2L457.8,548.0L460.8,547.3L464.0,548.5L469.8,546.7L474.3,544.9L479.6,544.1L484.2,546.3L487.2,545.2L491.1,546.2L496.8,544.4L500.3,543.4L502.4,540.2L507.5,541.3L509.8,535.7L510.1,530.6L512.9,528.3L511.3,522.1L510.2,519.8L510.8,514.7L513.7,511.3L513.6,507.4L518.7,505.6L518.8,501.2L522.2,498.7L523.6,496.9L527.6,491.8L531.1,495.2L538.8,498.2L543.6,496.1L548.0,491.2L551.9,494.6L557.2,495.4L561.2,495.5L568.0,491.9L569.9,497.8L571.4,501.2L574.2,506.2L573.4,509.7L569.6,511.7L567.0,514.6L565.1,520.2L561.5,523.7L560.0,527.6L561.2,531.5L561.3,537.1L559.4,540.4L560.6,544.4L559.3,549.1L563.8,553.7L571.5,556.0L574.0,555.5L578.6,554.3L582.1,553.1L585.2,553.5L589.6,554.2L591.7,557.0L596.1,562.7L598.8,566.8L599.1,570.0L600.0,574.9L597.2,577.9L597.3,580.5L595.2,586.7L595.5,589.8L592.7,595.1L589.5,598.8L594.1,604.2L596.5,607.5L601.0,610.6L605.9,609.7L608.6,608.0L614.9,605.8L620.7,602.1L625.3,600.4L630.7,599.5L634.6,601.0L640.9,603.8L644.4,605.7L647.8,603.4L652.8,600.8L656.6,599.0L660.6,594.9L665.3,597.7L669.4,599.4L673.4,606.0L675.0,610.0L675.0,960.0L300.0,960.0L409.9,670.4L407.1,665.6L405.9,662.0L404.8,658.1L401.4,652.8L398.5,649.8L397.3,644.7L392.7,641.2L391.0,637.0L385.6,641.9L381.0,640.9L375.6,640.4L375.8,636.1L375.0,629.7L371.6,626.5L365.9,622.9L360.8,619.7L358.0,618.2L353.2,615.6L348.3,613.5L344.9,612.3L339.7,609.7L336.2,606.2L334.2,603.3L334.1,599.1L336.1,596.2L332.2,591.4L329.9,588.9L324.9,584.8L321.8,581.0L319.9,579.1L316.6,575.6L314.2,572.7L312.1,569.8L310.7,566.0L307.2,562.1L304.3,560.3L303.9,555.4L302.4,553.5L299.1,548.8L297.9,544.6L294.7,541.8L292.5,537.3L290.2,532.8L287.4,529.5L284.2,525.9L283.0,521.7L280.0,517.9L277.9,514.9L275.6,508.8L274.5,506.7L272.2,502.3L271.5,497.5L272.0,494.6L270.1,489.5L269.9,484.1L269.9,480.7L269.9,477.2L269.1,471.3L266.6,468.2L267.4,463.8L268.4,459.7L270.0,455.0Z" fill="#4d4d4d"/>
<path d="M299.4,434.1L302.6,438.2L305.2,443.1L306.8,445.3L310.0,449.7L311.4,454.2L312.1,458.0L315.1,463.8L316.5,468.4L317.5,471.7L321.1,476.6L322.4,479.9L324.7,485.8L327.3,489.3L329.0,492.8L331.1,495.6L332.8,499.7L335.4,503.5L337.6,506.6L339.3,511.1L340.8,514.7L341.9,519.8L345.4,523.1L347.6,526.8L351.2,530.6L354.3,533.4L355.7,538.5L360.2,542.3L362.3,544.8L365.2,548.2L364.6,552.1L366.5,556.8L368.2,560.9L368.8,564.6L368.8,568.2L367.5,574.8L366.6,579.3L365.9,582.5L356.3,583.9L356.9,580.9L355.4,574.0L355.7,570.1L353.4,565.0L352.1,562.2L351.0,559.0L347.9,554.9L347.0,549.8L344.6,547.0L342.3,541.4L339.9,537.8L336.2,533.8L335.2,531.4L332.2,527.1L332.5,524.6L330.7,521.1L328.7,518.0L325.3,512.0L322.8,509.5L322.3,503.8L319.1,500.4L319.2,495.6L317.5,492.6L313.6,487.9L313.1,486.1L309.9,480.6L307.8,476.7L306.2,473.5L304.3,470.4L302.4,465.0L301.0,460.4L298.2,455.8L296.2,453.0L297.0,448.1L299.8,444.0L298.9,439.1Z" fill="#ffffff"/>
<path d="M339.1,438.1L341.4,436.3L344.5,434.9L347.9,433.2L351.5,431.9L355.3,431.9L359.2,431.0L358.8,433.4L356.7,435.6L356.6,439.2L354.8,441.7L351.9,446.0L349.9,448.7L347.9,450.2L342.7,453.5L338.7,454.9L340.1,451.4L339.1,449.2L340.0,445.9L339.7,441.2Z" fill="#4d4d4d" stroke="#4d4d4d" stroke-width="4" stroke-linejoin="round" style="paint-order:stroke"/>
<path d="M362.6,431.5L366.3,435.3L368.3,438.7L369.0,441.4L367.0,443.9L365.0,449.5L365.0,445.5L362.6,443.8L361.9,441.3L362.1,436.0Z" fill="#4d4d4d" stroke="#4d4d4d" stroke-width="4" stroke-linejoin="round" style="paint-order:stroke"/>
<path d="M343.3,481.9L346.5,480.2L348.6,477.9L353.1,476.5L355.8,475.4L357.9,473.1L361.1,470.6L363.5,469.4L366.9,467.1L368.6,463.8L371.6,461.5L370.3,464.0L369.7,468.0L369.9,469.8L366.7,473.4L365.7,478.1L363.2,480.2L362.3,483.9L360.5,485.9L358.9,488.5L355.9,490.8L351.7,493.1L346.7,490.6L343.6,489.7L344.1,484.3Z" fill="#4d4d4d" stroke="#4d4d4d" stroke-width="4" stroke-linejoin="round" style="paint-order:stroke"/>
<path d="M383.0,443.7L385.9,445.3L389.9,447.3L389.0,449.2L387.9,452.6L387.1,456.9L383.5,452.1L383.1,449.4Z" fill="#4d4d4d" stroke="#4d4d4d" stroke-width="4" stroke-linejoin="round" style="paint-order:stroke"/>
<path d="M392.0,453.0L394.1,450.9L397.6,448.9L400.1,449.4L399.5,450.7L397.8,455.2L397.6,457.5L398.1,461.1L393.3,461.1L393.6,456.7Z" fill="#4d4d4d" stroke="#4d4d4d" stroke-width="4" stroke-linejoin="round" style="paint-order:stroke"/>
<path d="M367.3,453.1L372.2,457.1L371.9,460.3L371.4,462.3L370.3,465.2L368.7,468.4L367.4,464.3L366.4,462.6L368.0,459.3L367.0,456.4Z" fill="#4d4d4d" stroke="#4d4d4d" stroke-width="4" stroke-linejoin="round" style="paint-order:stroke"/>
<path d="M354.4,496.0L357.1,498.0L360.2,500.4L363.4,501.7L365.5,503.8L367.2,506.2L369.4,511.1L372.4,514.1L367.7,512.1L366.2,510.6L361.9,508.7L359.2,507.7L357.7,506.2L355.4,501.5Z" fill="#4d4d4d" stroke="#4d4d4d" stroke-width="4" stroke-linejoin="round" style="paint-order:stroke"/>
<path d="M376.1,508.6L377.7,512.2L382.1,512.4L381.9,516.6L382.8,519.1L383.8,521.4L385.5,525.3L383.2,522.3L379.2,520.4L378.6,517.6L377.2,516.2L376.8,512.6Z" fill="#4d4d4d" stroke="#4d4d4d" stroke-width="4" stroke-linejoin="round" style="paint-order:stroke"/>
<path d="M404.0,508.7L406.8,507.4L408.3,504.4L411.4,500.4L416.2,502.7L419.3,502.4L418.4,505.3L416.7,509.7L414.1,511.4L412.8,513.7L411.9,518.1L407.7,519.4L404.1,522.0L404.7,517.9L403.1,516.1L404.0,513.0Z" fill="#4d4d4d" stroke="#4d4d4d" stroke-width="4" stroke-linejoin="round" style="paint-order:stroke"/>
<path d="M413.0,529.8L416.1,526.5L419.2,525.0L420.3,528.6L421.9,531.2L421.7,534.3L421.8,537.0L417.9,538.0L416.2,540.1L415.5,536.0L414.2,532.0Z" fill="#4d4d4d" stroke="#4d4d4d" stroke-width="4" stroke-linejoin="round" style="paint-order:stroke"/>
<path d="M334.5,468.5L340.2,466.1L341.3,470.0L342.1,473.6L343.6,478.3L341.4,479.6L337.4,481.9L337.9,478.8L336.5,475.5L335.9,473.4L334.5,469.8Z" fill="#4d4d4d" stroke="#4d4d4d" stroke-width="4" stroke-linejoin="round" style="paint-order:stroke"/>
<path d="M375.0,474.9L377.7,472.2L380.9,470.9L381.7,474.3L383.2,476.9L385.4,478.7L386.2,482.8L385.0,485.4L382.8,487.8L379.4,490.6L379.5,487.0L378.9,483.1L377.8,480.7L376.1,478.6Z" fill="#4d4d4d" stroke="#4d4d4d" stroke-width="4" stroke-linejoin="round" style="paint-order:stroke"/>
<path d="M381.6,515.0L383.7,510.5L388.7,507.6L389.8,504.0L394.9,507.5L398.4,509.4L396.2,513.7L395.2,519.3L393.9,523.3L392.0,528.7L388.8,530.8L387.9,537.1L385.9,539.3L385.7,535.7L384.4,532.0L384.1,528.5L384.4,522.9L383.9,518.7Z" fill="#4d4d4d"/>
<path d="M405.5,519.1L407.2,515.7L410.0,512.9L410.3,510.0L411.5,505.6L416.6,506.2L419.9,509.0L420.3,513.0L418.4,518.1L416.0,523.1L416.2,526.3L414.4,529.1L410.8,531.3L406.7,535.0L406.4,530.7L404.9,524.2Z" fill="#4d4d4d"/>
<path d="M425.1,510.5L428.3,506.7L431.5,504.6L434.7,510.8L436.8,514.6L436.5,518.4L433.0,524.6L433.6,527.0L425.7,524.9L425.1,520.7L426.4,515.6Z" fill="#4d4d4d"/>
<path d="M439.7,520.9L444.9,516.7L447.9,514.1L449.3,519.8L448.3,523.6L448.5,525.9L449.5,529.9L449.9,535.9L442.7,536.9L441.1,533.3L441.3,529.8L439.8,524.3Z" fill="#4d4d4d"/>
<path d="M457.4,454.7L461.7,453.9L467.6,452.5L472.0,452.6L475.3,457.5L475.4,461.3L477.5,467.1L474.0,470.8L472.8,473.8L470.6,477.8L463.9,475.1L460.1,475.3L459.6,470.3L458.6,467.6L458.2,463.1L457.3,459.3Z" fill="#4d4d4d"/>
<path d="M469.9,481.2L475.0,482.7L480.0,482.4L483.7,480.5L486.9,480.5L488.1,483.7L488.2,488.6L490.5,493.2L486.6,494.9L485.4,497.8L483.5,503.0L480.3,504.4L475.2,504.4L469.6,502.9L470.3,499.6L470.7,494.9L470.1,491.5L470.3,487.0Z" fill="#4d4d4d"/>
<path d="M542.0,465.2L546.8,464.7L552.1,463.9L556.0,463.3L554.8,468.3L555.8,473.8L550.9,472.1L544.5,472.7Z" fill="#4d4d4d"/>
<path d="M560.0,487.6L563.7,487.1L568.2,486.7L573.0,484.4L575.9,491.3L570.1,492.1L567.8,494.3L563.4,496.3Z" fill="#4d4d4d"/>
<path d="M338.9,603.5L342.1,600.5L347.4,597.2L351.0,595.7L355.0,591.9L359.1,588.9L365.1,595.1L362.5,599.2L360.6,602.8L360.4,606.6L355.1,607.8L351.0,609.2L347.8,608.6L344.5,604.4Z" fill="#ff85e0"/>
<path d="M458.0,558.9L463.7,559.7L466.3,557.4L471.5,557.1L477.4,560.1L479.5,562.1L482.5,563.2L487.2,563.9L491.7,567.9L495.0,570.4L497.2,571.5L499.9,576.0L502.0,579.1L503.6,582.1L504.4,585.5L506.7,588.9L509.5,593.8L515.0,596.8L517.7,598.6L520.9,602.2L524.7,604.3L527.0,607.6L530.5,609.4L535.6,613.3L540.0,614.8L542.1,616.2L546.5,618.4L551.1,620.2L554.9,622.4L557.4,623.8L557.0,629.0L556.2,632.8L552.4,632.4L550.3,634.1L544.2,633.2L541.0,631.8L536.4,633.1L532.7,633.2L527.6,633.3L524.9,632.2L520.7,634.1L517.4,633.3L512.4,633.6L508.1,633.5L503.8,633.1L500.6,633.2L497.8,629.4L494.6,626.9L492.4,623.1L489.7,619.5L487.8,617.2L484.2,612.9L482.6,609.1L480.4,604.7L476.2,600.9L475.1,597.8L473.6,594.2L470.4,589.6L468.3,585.3L466.0,582.5L462.4,579.2L460.1,576.3L458.2,568.9L458.6,564.3Z" fill="#cc8f85"/>
<path d="M469.3,573.8L475.1,571.1L479.6,570.1L484.4,569.1L489.4,573.7L490.9,575.2L495.6,580.4L496.4,583.5L500.1,587.5L502.3,589.8L503.7,593.9L506.8,598.5L510.5,601.6L514.6,604.5L519.3,608.0L522.7,609.6L525.6,611.8L529.0,614.5L533.3,618.3L536.2,620.0L541.7,621.6L546.3,624.2L550.6,626.6L546.0,632.5L539.7,632.1L535.7,632.0L531.7,634.2L527.5,632.7L524.2,631.9L518.2,634.0L514.6,632.2L511.1,629.8L510.0,625.0L506.2,621.3L501.7,617.0L499.0,613.1L497.0,608.9L492.8,606.9L488.8,603.7L487.2,599.1L482.9,594.2L481.5,592.5L476.2,588.3L474.8,582.7L474.0,578.9L472.8,577.1Z" fill="#ff85e0"/>
<path d="M486.9,581.6L490.9,585.6L493.0,588.0L496.5,589.7L499.1,592.7L502.6,597.0L506.1,602.3L508.1,605.0L511.0,607.7L513.7,611.4L516.7,614.2L520.9,618.8L518.1,625.9L512.0,621.4L506.8,620.0L505.7,617.5L503.6,614.5L499.5,609.5L497.5,607.1L496.0,604.4L492.6,599.9L490.6,595.1L489.0,592.0L489.1,586.9Z" fill="#ffffff"/>
<path d="M531.3,569.1L534.0,566.8L536.2,562.4L540.2,561.0L543.5,560.4L550.0,558.0L553.3,558.1L557.1,556.5L556.9,562.9L558.4,567.2L557.5,570.2L556.4,574.3L557.7,580.0L556.4,583.4L556.3,588.5L556.7,592.0L557.8,595.0L557.4,599.8L551.7,602.2L546.4,605.5L546.2,601.4L542.2,597.5L539.1,594.4L538.0,589.0L535.7,585.0L535.0,580.7L534.0,576.9L532.4,573.2Z" fill="#cc8f85"/>
<path d="M542.6,573.0L547.0,571.0L548.3,568.1L552.3,564.1L557.4,571.1L556.3,574.5L557.6,579.0L557.4,581.3L558.4,585.0L558.0,589.5L552.6,591.6L550.9,594.1L549.6,589.6L548.1,584.8L545.9,581.6L544.3,578.1Z" fill="#ff85e0"/>
<path d="M474.3,618.8L479.2,616.8L482.4,615.8L487.6,612.9L490.3,612.5L495.2,611.3L500.2,610.6L503.9,609.1L508.4,610.6L510.6,608.9L514.8,609.3L520.7,610.7L524.7,609.7L529.5,609.1L531.8,609.8L536.0,610.6L541.7,610.6L544.5,610.2L548.7,610.1L553.4,609.1L558.4,610.8L558.2,613.3L556.8,619.3L558.3,623.3L558.6,627.1L556.8,631.5L557.0,635.6L558.2,639.8L558.1,644.8L556.3,648.9L558.5,653.6L558.4,657.9L553.8,653.8L547.3,651.7L545.0,648.8L541.7,646.7L536.9,643.4L534.6,639.4L531.6,637.8L526.8,635.5L522.6,631.3L521.0,631.1L516.2,629.6L510.6,626.8L505.1,625.1L501.2,627.0L494.8,625.9L490.1,627.3L487.1,626.1L482.8,621.4L478.8,619.0Z" fill="#cc8f85"/>
<path d="M502.6,613.3L507.5,611.9L510.6,612.6L517.0,611.0L519.3,611.0L524.7,609.7L528.7,609.4L532.2,610.4L537.2,609.8L541.9,610.0L544.4,609.4L549.5,610.4L553.8,610.6L557.1,610.7L557.7,613.4L556.5,618.5L558.4,623.4L558.3,627.1L557.7,629.7L557.0,635.3L556.9,638.4L557.6,641.2L552.3,640.1L549.9,639.9L543.9,636.6L543.1,634.1L539.5,632.7L536.6,630.6L531.5,628.2L528.7,624.4L524.9,623.2L519.3,621.9L515.1,620.2L509.7,618.4L506.7,614.0Z" fill="#ff85e0"/>
<path d="M537.5,624.2L541.5,625.2L546.5,623.3L549.4,625.0L553.5,627.3L556.5,631.8L554.5,637.9L554.0,641.6L550.5,642.5L543.9,640.6L540.9,635.7L537.5,632.5L538.7,630.4Z" fill="#ffffff"/>
<path d="M558.7,550.3L562.9,551.0L567.6,550.4L572.9,550.2L576.5,550.3L580.6,550.3L583.4,552.5L587.6,551.1L592.7,552.5L596.4,550.3L600.8,551.7L604.6,551.0L609.2,550.1L612.5,551.4L617.5,552.0L619.8,550.9L624.8,550.9L627.4,552.5L632.5,550.3L635.7,550.0L641.7,550.3L644.8,552.4L649.4,551.5L652.2,551.7L657.6,550.5L660.1,551.0L665.1,552.3L669.1,550.6L673.5,550.3L675.9,550.0L681.2,551.5L684.9,551.4L684.2,554.7L685.2,559.4L685.0,565.0L684.9,568.8L683.9,572.3L683.8,575.8L684.2,580.5L684.1,586.1L682.8,588.7L680.6,593.0L680.7,597.6L679.4,602.0L677.0,605.6L675.9,609.9L671.6,604.3L670.8,598.9L664.2,597.8L660.5,594.9L656.6,597.3L652.7,598.8L648.5,603.7L645.2,604.6L640.3,604.6L634.9,601.4L630.8,600.9L624.3,602.1L619.5,603.0L615.8,604.6L611.1,606.6L606.0,607.4L599.8,608.8L602.6,614.8L603.3,617.6L606.2,621.2L606.2,624.4L609.4,630.0L610.1,633.6L606.8,633.4L600.9,633.4L598.9,632.9L593.7,633.4L589.0,632.3L586.2,634.3L580.7,633.4L577.7,631.8L572.8,632.5L570.1,632.0L565.2,633.3L562.2,634.3L558.4,632.2L557.7,629.2L557.6,625.1L557.2,620.1L557.9,617.6L558.0,613.0L558.7,607.8L557.7,605.2L557.9,599.0L557.5,597.0L556.7,591.8L558.8,587.9L557.6,584.2L558.4,579.7L558.5,576.3L557.2,572.0L557.0,566.4L557.5,562.3L557.0,560.3L558.7,554.6L556.6,550.9Z" fill="#cc8f85"/>
<path d="M561.1,556.6L566.4,556.2L570.1,556.1L574.8,555.3L578.7,556.7L581.9,554.6L586.4,555.9L590.4,558.1L593.5,561.6L595.0,566.8L597.8,568.9L595.4,573.6L596.8,579.8L594.2,581.9L594.1,586.7L591.3,591.1L587.6,593.2L584.2,595.9L579.7,598.1L574.4,596.8L571.1,596.3L567.6,593.6L563.0,592.7L562.6,586.8L561.5,583.1L562.6,580.5L562.2,575.7L562.1,569.7L560.9,566.5L562.1,561.7Z" fill="#4d4d4d"/>
<path d="M593.0,552.1L596.1,551.6L600.4,552.7L603.7,553.6L607.5,553.1L612.5,553.6L616.4,551.3L621.5,552.2L626.0,552.9L629.1,552.9L633.8,552.1L636.6,552.9L641.6,551.3L644.6,552.3L648.5,552.6L653.4,552.0L658.4,553.1L660.7,552.8L667.2,552.8L671.3,551.8L668.8,556.1L668.3,559.6L667.9,564.5L668.8,569.2L666.3,573.2L664.9,574.9L660.2,579.4L657.6,580.9L655.0,585.3L653.7,588.6L649.0,590.3L643.7,590.1L638.7,592.2L634.0,594.1L630.4,591.3L626.1,590.9L621.8,587.5L619.2,587.1L614.8,589.3L608.8,591.0L607.6,585.2L604.9,582.7L601.0,578.0L596.3,575.5L597.1,569.7L594.3,566.2L594.0,561.1L594.5,557.2Z" fill="#ff85e0"/>
<path d="M599.0,553.0L604.7,552.7L609.5,552.4L612.9,551.3L616.1,552.0L620.7,552.5L624.0,553.0L628.8,553.5L635.2,554.6L639.6,558.3L645.1,556.4L648.1,556.7L654.5,554.2L657.8,554.6L663.0,553.0L662.7,558.1L662.0,563.0L661.1,566.4L659.5,569.4L656.5,573.9L654.0,575.7L651.7,579.4L648.7,582.9L643.9,584.2L640.4,586.6L635.5,588.5L630.9,585.4L626.3,583.5L623.1,580.4L617.5,582.5L614.1,583.9L608.8,583.6L608.4,580.7L604.6,576.3L602.2,571.2L600.9,567.8L602.5,563.7L600.4,560.7L601.0,556.9Z" fill="#ffffff"/>
<path d="M559.5,602.1L563.7,602.4L569.7,600.3L574.2,600.0L579.1,600.4L584.0,600.9L590.1,602.1L592.3,606.8L595.5,608.9L599.5,611.4L601.5,616.4L604.5,620.1L605.7,625.8L608.4,628.8L609.3,633.7L607.0,632.3L602.6,632.7L597.4,631.8L592.7,632.3L588.4,633.8L586.2,632.5L581.6,632.5L576.9,632.2L573.6,633.0L568.6,633.8L564.2,633.0L560.6,632.9L560.2,628.1L559.1,623.6L561.2,620.2L558.7,614.8L560.2,611.2L561.3,607.9Z" fill="#ff85e0"/>
<path d="M563.9,610.8L570.4,609.8L574.5,608.0L577.8,608.0L580.8,611.4L583.3,613.7L585.8,617.8L583.7,622.0L580.3,628.4L576.5,627.2L570.7,624.9L567.0,625.4L565.5,620.4L564.8,614.2Z" fill="#ffffff"/>
<path d="M556.9,610.1L562.7,611.2L566.0,608.9L572.2,610.2L576.9,610.6L579.5,609.6L584.3,609.9L587.8,614.3L592.7,615.9L596.3,621.2L593.0,626.0L592.8,630.6L589.6,635.3L592.4,639.6L593.3,643.9L594.1,650.8L591.2,653.9L588.1,657.2L584.4,658.9L582.1,661.9L577.6,664.9L575.0,668.5L571.8,663.6L567.3,660.3L559.0,659.5L557.8,661.1L557.8,655.1L558.7,652.4L556.8,647.2L556.3,644.0L556.8,640.0L558.1,635.7L557.7,630.2L556.3,626.9L556.2,622.5L558.2,617.4L557.3,614.3Z" fill="#ff85e0" stroke="#cc8f85" stroke-width="5" stroke-linejoin="round" style="paint-order:stroke"/>
<path d="M559.1,614.2L565.3,613.3L569.1,612.6L576.1,613.5L577.3,616.0L581.4,617.9L584.4,622.9L582.1,628.7L581.1,632.1L581.2,636.6L575.7,640.8L572.8,643.7L570.2,648.7L566.0,643.8L562.2,643.4L561.9,636.8L561.0,632.6L560.9,628.3L561.3,624.7L559.2,618.7Z" fill="#ffffff"/>
<path d="M575.8,626.0L580.7,626.7L585.5,628.9L584.6,633.4L584.2,639.2L582.4,643.1L576.2,641.0L575.4,635.3L574.6,630.5Z" fill="#c898d8"/>
<path d="M604.1,617.4L607.9,615.9L613.4,616.3L616.2,617.2L620.5,615.6L625.0,614.2L629.6,619.0L632.7,621.1L636.1,626.1L632.8,627.5L627.4,630.6L623.9,635.5L618.8,633.2L614.6,632.3L608.8,630.6L609.5,625.3L606.4,622.3Z" fill="#ff85e0" stroke="#cc8f85" stroke-width="5" stroke-linejoin="round" style="paint-order:stroke"/>
<path d="M622.0,638.4L628.8,635.5L632.4,634.1L635.1,638.9L638.7,643.9L641.3,648.3L641.3,651.2L641.4,654.5L641.1,660.6L643.2,662.7L642.5,667.3L639.1,671.5L634.4,676.0L631.5,673.2L628.9,671.2L625.0,667.7L624.9,661.8L622.2,658.3L623.0,653.1L623.3,646.7L623.5,642.9Z" fill="#ff85e0" stroke="#cc8f85" stroke-width="5" stroke-linejoin="round" style="paint-order:stroke"/>
<path d="M627.4,645.1L633.5,642.6L631.9,648.0L633.6,651.6L632.3,656.9L632.6,661.0L628.1,665.5L628.5,660.3L627.3,656.3L627.3,652.4L626.9,648.4Z" fill="#ffffff"/>
<path d="M641.2,642.5L643.8,665.0L650.0,680.0" fill="none" stroke="#ff0000" stroke-width="3" stroke-linecap="round" stroke-linejoin="round"/>
<path d="M666.2,625.0L671.2,640.0" fill="none" stroke="#ff0000" stroke-width="2.5" stroke-linecap="round" stroke-linejoin="round"/>
<path d="M607.5,652.5L610.0,672.5" fill="none" stroke="#ff0000" stroke-width="2" stroke-linecap="round" stroke-linejoin="round"/>
<circle cx="703.8" cy="621.2" r="4" fill="#ff0000"/>
<circle cx="291.2" cy="520.0" r="7" fill="#ff0000"/>
<path d="M311.5,610.5L316.5,611.2L321.4,609.4L326.8,611.0L330.5,610.6L335.0,611.3L339.5,608.8L342.9,612.2L348.7,613.6L352.3,616.0L356.7,617.5L361.8,620.8L365.0,623.5L370.0,626.2L374.3,630.5L375.4,635.2L376.0,640.0L379.5,641.9L384.8,640.8L390.9,637.0L394.5,641.1L396.5,645.2L399.0,648.4L402.9,654.5L403.7,658.3L405.9,661.2L406.1,666.0L407.9,670.7L404.5,669.5L400.5,671.7L395.2,672.0L390.6,669.7L386.2,670.9L386.7,665.7L386.2,659.1L382.2,653.7L378.8,650.5L375.5,645.9L373.2,644.4L369.3,638.7L365.5,638.6L359.1,637.4L355.9,632.4L350.8,629.5L345.5,626.5L342.0,624.6L337.9,622.0L333.9,620.8L330.7,617.5L325.0,616.3L320.1,615.4L316.2,614.5Z" fill="#f83333"/>
<path d="M340.1,618.1L346.1,619.1L349.5,621.4L355.6,623.4L359.3,625.8L360.7,628.6L363.9,630.3L368.8,635.8L371.8,639.2L370.1,639.9L365.0,638.6L359.1,635.0L353.9,632.0L350.5,628.5L344.6,627.0L341.7,624.1L336.8,620.2Z" fill="#ff0000"/>
<path d="M373.8,641.8L379.7,644.9L384.7,648.3L386.3,653.0L389.1,656.8L388.9,659.7L390.3,665.3L392.5,668.9L385.2,670.7L385.9,665.1L384.9,660.3L383.3,655.5L380.3,649.1L378.7,645.1Z" fill="#ff0000"/>
<path d="M390.5,640.4L394.6,644.7L396.5,647.5L399.8,652.2L400.6,656.4L403.2,659.7L404.9,665.6L408.3,670.3L404.0,668.5L399.7,668.4L397.3,666.3L395.4,661.2L393.8,658.2L393.5,651.3L389.1,648.7Z" fill="#cc8f85"/>
<path d="M356.9,624.5L362.9,627.3L365.5,627.9L370.8,628.4L371.2,633.4L375.5,640.0L369.8,637.8L365.9,635.5L361.3,633.6L361.2,627.5Z" fill="#f4cccc"/>
<path d="M651.2,714.5L656.6,713.2L663.5,710.1L666.2,712.6L666.7,716.4L669.9,719.2L676.1,722.3L679.4,722.6L684.4,724.7L680.4,728.2L676.2,728.9L671.7,733.4L671.2,737.4L666.4,737.5L661.6,735.5L658.2,735.4L655.0,730.7L651.2,727.5L651.8,723.7L651.8,720.1Z" fill="#f46666"/>
<path d="M517.5,690.0L525.0,687.5L527.5,697.5L521.2,698.8Z" fill="#ff0000"/>
<path d="M535.0,665.0L538.8,663.8L541.2,675.0L537.5,675.5Z" fill="#ff0000"/>
<path d="M547.5,682.5L551.2,681.2L553.8,692.5L550.0,693.0Z" fill="#ff0000"/>
<path d="M946.7,503.3L950.6,503.8L953.1,503.1L955.4,505.3L958.7,509.2L957.5,512.6L956.6,514.8L953.2,514.2L950.7,513.4L947.5,510.7L945.8,509.4Z" fill="#ff0000"/>
<path d="M876.6,530.7L879.2,531.4L883.4,529.4L884.0,532.9L884.7,537.1L881.5,537.8L877.9,540.8L877.5,535.8Z" fill="#ff0000"/>
<path d="M876.8,538.2L883.4,540.7L884.4,544.7L880.2,544.6L878.2,542.6Z" fill="#ff0000"/>
<path d="M790.5,494.0L794.2,493.7L798.2,494.2L799.3,497.8L796.2,499.3L791.5,498.2Z" fill="#4d4d4d"/>
<path d="M745.5,518.2L750.1,518.3L749.2,520.8L746.1,521.8Z" fill="#4d4d4d"/>
<path d="M756.9,487.1L762.4,487.5L762.3,489.1L758.0,489.9Z" fill="#4d4d4d"/>
<path d="M874.7,596.7L877.5,595.8L880.4,594.9L883.8,593.9L886.6,594.0L889.7,593.8L894.1,596.5L896.3,597.2L899.2,600.8L903.9,599.6L907.5,598.1L909.3,596.7L910.6,601.4L910.8,604.0L911.7,606.9L909.5,608.4L907.1,608.4L902.6,608.5L899.4,609.1L896.0,608.7L894.1,608.9L891.8,608.5L887.2,607.3L885.4,608.5L883.0,605.3L879.7,604.0L877.4,602.1L875.6,598.4Z" fill="#4d4d4d"/>
<path d="M830.8,571.0L834.1,571.0L836.6,571.9L834.9,575.3L834.7,580.6L831.9,578.2L828.7,577.6L828.8,573.6Z" fill="#4d4d4d"/>
<path d="M865.9,594.9L869.3,595.0L870.9,595.0L875.4,593.6L873.1,597.2L871.9,599.9L869.3,598.2L868.4,596.9Z" fill="#4d4d4d"/>
<path d="M982.5,625.2L986.6,626.5L989.6,626.9L990.6,631.7L991.6,634.1L990.8,637.7L986.6,636.2L984.3,635.9L982.5,631.1L982.9,628.6Z" fill="#4d4d4d"/>
<path d="M1145.9,626.7L1147.6,627.9L1152.3,627.4L1154.8,629.2L1155.5,631.9L1155.4,636.8L1151.9,635.7L1147.9,635.5L1146.1,631.0Z" fill="#4d4d4d"/>
<path d="M905.8,616.7L908.7,618.0L911.3,618.3L911.5,621.5L909.6,624.1L905.3,624.4L903.9,619.9Z" fill="#4d4d4d"/>
<path d="M666.9,516.3L671.7,517.2L676.4,515.0L681.2,513.2L684.1,514.4L689.4,516.2L692.8,517.5L695.8,522.6L695.7,526.8L696.2,530.0L693.0,530.9L689.0,533.3L684.5,535.0L680.0,534.5L675.7,533.2L671.3,532.6L667.7,530.2L663.7,527.0L665.7,523.1Z" fill="#4d4d4d"/>
<path d="M959.6,669.1L964.6,668.5L969.1,668.3L971.9,667.7L975.9,665.6L979.7,664.3L984.3,662.9L986.4,667.4L988.6,671.4L990.5,675.3L987.4,680.9L984.1,684.4L978.7,687.3L976.0,687.3L970.9,686.4L966.1,686.0L962.9,679.4L961.4,676.2Z" fill="#f4cccc"/>
<path d="M951.2,667.1L957.5,668.5L958.6,674.8L952.0,674.8Z" fill="#f4cccc"/>
<path d="M1018.6,685.6L1021.7,682.8L1027.0,682.5L1030.6,678.8L1034.8,680.2L1037.8,678.9L1043.0,678.4L1046.5,677.8L1053.0,679.4L1059.5,682.3L1058.6,686.9L1059.1,692.8L1060.6,697.3L1055.6,700.2L1050.8,703.1L1046.5,699.6L1041.3,698.2L1038.4,696.6L1034.4,696.7L1028.3,697.2L1024.2,695.9L1019.8,694.7L1015.0,692.9Z" fill="#fd9030"/>
<path d="M1048.3,676.7L1053.4,674.4L1058.7,673.4L1059.6,678.5L1059.3,683.8L1054.3,683.1L1048.6,681.8Z" fill="#f4cccc"/>
<path d="M1001.0,705.0L1004.2,701.9L1005.8,700.9L1010.1,698.7L1015.3,696.9L1019.0,698.5L1024.4,696.6L1030.1,698.9L1035.2,698.0L1040.7,700.5L1044.5,703.0L1050.0,704.4L1043.9,708.2L1041.3,709.2L1036.8,709.3L1030.6,709.7L1026.3,708.1L1022.6,708.7L1017.7,708.6L1013.4,708.3L1009.6,707.7L1005.8,705.7Z" fill="#fdc070"/>
<path d="M1001.7,683.5L1008.5,681.2L1008.7,684.2L1009.7,688.1L1011.3,692.2L1004.5,693.8L1002.7,689.0Z" fill="#f4cccc"/>
<path d="M1063.6,668.7L1066.9,671.9L1070.9,672.3L1075.6,672.9L1079.1,672.6L1084.3,673.7L1087.2,673.2L1091.4,675.4L1094.3,678.2L1092.9,686.3L1087.5,685.4L1084.5,685.6L1080.1,687.8L1074.1,688.1L1068.8,685.7L1063.4,685.7L1063.7,679.7L1063.4,675.8Z" fill="#fd9030"/>
<path d="M1084.2,688.4L1090.1,686.6L1095.9,684.3L1095.3,689.7L1094.6,693.1L1096.4,697.4L1094.6,702.5L1091.9,706.4L1090.7,708.9L1088.0,711.5L1084.9,714.1L1079.9,714.1L1076.3,714.2L1077.4,710.3L1080.5,704.0L1083.4,700.9L1083.9,697.3L1085.3,692.1Z" fill="#fda850"/>
<path d="M1135.6,655.8L1140.8,656.1L1145.8,652.6L1149.8,652.6L1154.7,652.1L1160.2,652.3L1164.1,653.5L1171.3,653.0L1176.2,653.4L1180.4,653.6L1177.7,658.1L1174.9,663.3L1172.2,663.7L1168.6,666.3L1164.1,668.9L1160.7,672.3L1155.7,675.9L1152.7,678.5L1149.7,680.2L1144.9,675.7L1142.1,670.0L1139.3,664.6L1136.5,660.0Z" fill="#fd9030"/>
<path d="M993.2,718.0L996.0,714.1L1001.2,712.9L1002.7,711.9L1008.2,709.8L1013.7,715.1L1009.1,721.2L1003.9,724.9L1000.1,728.4L992.6,726.4L992.7,722.1Z" fill="#fdc070"/>
<path d="M891.1,743.2L891.3,739.4L894.2,735.1L897.0,731.8L902.0,729.3L904.6,735.2L907.7,740.6L910.7,741.9L915.2,745.8L909.2,745.2L906.2,744.8L900.6,742.6L895.1,743.6Z" fill="#fdd890"/>
<path d="M923.4,741.9L925.1,740.6L928.7,738.2L933.7,742.4L938.7,745.6L940.6,747.0L944.8,748.1L949.0,749.5L953.8,748.2L958.9,745.6L964.1,742.4L966.9,740.5L970.4,737.1L974.9,734.0L976.7,734.4L982.3,731.1L986.1,728.9L984.3,735.1L984.0,739.3L984.3,743.2L982.4,746.3L981.9,750.2L980.9,752.5L978.9,758.4L976.7,760.6L975.8,764.8L970.2,765.3L967.4,765.0L962.5,762.5L957.1,763.5L953.0,763.2L949.0,763.2L944.6,762.6L940.9,763.0L937.4,761.3L935.3,758.2L932.5,755.7L926.9,753.2L924.7,751.5L922.6,747.3Z" fill="#fdd890"/>
<path d="M1013.2,720.6L1017.9,718.8L1021.3,720.9L1024.2,719.8L1028.4,721.1L1033.3,720.9L1036.9,720.3L1041.5,722.1L1043.6,723.9L1047.8,727.3L1050.5,729.5L1054.5,731.5L1059.0,734.1L1061.8,737.1L1063.8,745.5L1057.6,744.2L1055.3,741.2L1050.8,740.3L1047.0,737.9L1044.2,734.1L1041.8,730.5L1036.5,726.2L1033.9,727.4L1030.1,728.7L1024.4,726.7L1021.0,726.3L1015.6,726.4L1012.0,727.3Z" fill="#fdc070"/>
<path d="M945.0,657.5L951.2,658.8L950.0,665.0L945.0,663.8Z" fill="#fd9030"/>
<path d="M930.0,692.5L935.0,693.8L933.8,698.8L929.5,697.5Z" fill="#fd9030"/>
<path d="M947.5,693.8L952.5,694.5L952.0,698.8L947.0,698.0Z" fill="#fd9030"/>
<path d="M960.0,688.8L965.0,689.5L964.5,693.8L960.0,693.0Z" fill="#fd9030"/>
</g></g>
<path d="M860.0,748.5L853.5,753.5L843.5,762.5L831.0,770.0L818.5,776.5L810.0,786.0L805.0,796.0L803.0,806.0L802.5,818.0L807.0,830.2L809.5,841.0" fill="none" stroke="#dddb00" stroke-width="3.5" stroke-linecap="round" stroke-linejoin="round"/>
<path d="M876.2,742.0L867.5,745.2" fill="none" stroke="#dddb00" stroke-width="3" stroke-linecap="round" stroke-linejoin="round"/>
<path d="M971.2,730.0L985.0,729.5L986.2,740.0L980.0,746.2L975.0,742.5L973.8,736.2Z" fill="#fdd890"/>
<path d="M885.0,742.5L900.0,744.0L912.5,747.5L922.5,749.0L932.5,756.5L940.0,761.5L950.0,759.0L957.5,761.5L965.0,756.5" fill="none" stroke="#fdd890" stroke-width="5" stroke-linecap="round" stroke-linejoin="round"/>
<path d="M940.0,762.5L952.5,761.0" fill="none" stroke="#dddb00" stroke-width="2.5" stroke-linecap="round" stroke-linejoin="round"/>
<path d="M975.0,748.8L982.5,743.8" fill="none" stroke="#bbb000" stroke-width="2" stroke-linecap="round" stroke-linejoin="round"/>
<path d="M1155.5,771.5L1159.5,782.8" fill="none" stroke="#dddb00" stroke-width="3" stroke-linecap="round" stroke-linejoin="round"/>
<path d="M1135.0,727.5L1137.5,740.0L1142.0,750.0" fill="none" stroke="#fdc070" stroke-width="3" stroke-linecap="round" stroke-linejoin="round"/>
<path d="M1122.5,879.8L1135.0,877.0L1147.5,873.5L1157.5,867.8L1165.0,859.5" fill="none" stroke="#ccff00" stroke-width="3" stroke-linecap="round" stroke-linejoin="round" stroke-dasharray="5 4"/>
<path d="M1241.9,487.5L1250.9,492.9L1252.6,511.7L1255.3,517.5L1244.6,517.5L1241.0,511.7Z" fill="#e6b8af"/>
<path d="M1244.6,517.5L1255.3,517.5L1254.4,540.4L1251.7,548.5L1248.2,533.3Z" fill="#ff0000"/>
<path d="M317.5,629.5L327.5,630.5L336.2,631.2" fill="none" stroke="#ff85e0" stroke-width="3" stroke-linecap="round" stroke-linejoin="round"/>
<circle cx="336.2" cy="651.2" r="2.2" fill="#cc8f85"/><path d="M357.0,646.2L360.5,649.5" fill="none" stroke="#ff0000" stroke-width="3.5" stroke-linecap="round" stroke-linejoin="round"/>
<path d="M356.5,657.5L360.0,662.0" fill="none" stroke="#f49999" stroke-width="3" stroke-linecap="round" stroke-linejoin="round"/>
<path class="b" d="M226.7,251.3L231.2,252.5L240.2,255.8L249.1,257.0L258.1,257.7L264.8,260.9L269.3,263.7L272.7,266.5L268.2,269.8L263.7,275.4L262.6,282.2L266.0,286.7L270.4,283.3L274.9,277.7L276.6,269.8L278.3,262.0L276.1,256.4L273.8,251.9L274.9,245.2L271.6,241.8L268.2,238.5L268.2,235.3L725.0,235.0L849.2,235.0L849.2,226.2L857.5,226.2L858.8,233.8L860.0,241.2L867.5,243.8L877.5,248.0L887.5,245.0L897.5,246.8L905.0,250.5L910.0,255.5L917.5,253.8L925.0,259.2L932.5,258.8L940.0,255.0L945.0,258.0L957.5,258.8L969.5,261.8L955.0,267.5L942.5,273.8L930.0,282.5L918.8,291.2L910.0,296.8L922.5,293.8L932.5,290.5L937.5,289.5L942.0,291.2L939.5,298.0L945.0,297.5L951.2,299.5L962.5,293.8L975.0,290.0L985.0,285.0L993.8,278.8L1002.5,275.5L1007.0,277.0L1000.0,281.2L993.8,287.5L990.8,294.5L996.2,291.2L1002.5,293.8L1010.0,298.0L1016.2,301.2L1027.5,299.5L1040.0,296.2L1055.0,295.0L1064.5,294.5L1065.5,302.5L1073.8,304.5L1078.8,303.0L1081.2,308.8L1087.0,315.0L1072.5,312.5L1057.5,312.0L1047.5,314.5L1035.0,317.0L1025.0,318.8L1018.8,323.8L1012.5,333.8L1007.5,342.5L1000.0,353.0L1012.5,340.5L1022.5,332.5L1015.0,344.2L1003.8,357.5L1003.8,365.0L1004.5,385.0L1005.0,407.5L1006.2,417.5L1012.5,427.5L1021.2,432.0L1031.2,431.2L1035.0,420.0L1037.5,405.0L1035.0,390.0L1031.2,375.0L1033.8,360.0L1037.5,347.5L1043.8,340.0L1050.0,333.8L1057.5,330.0L1066.2,321.2L1071.2,320.0L1080.0,323.8L1092.5,330.0L1100.0,340.0L1097.5,355.0L1092.5,367.5L1086.2,372.5L1090.0,378.0L1100.0,370.0L1107.5,365.0L1113.8,370.0L1117.5,385.0L1117.5,395.0L1113.8,403.8L1107.5,410.0L1102.5,420.0L1097.5,431.2L1100.0,426.2L1105.0,430.0L1111.2,434.2L1125.0,432.5L1140.0,425.5L1155.0,420.0L1173.8,412.5L1172.5,413.8L1182.5,405.0L1191.2,396.2L1188.8,388.8L1195.0,385.0L1207.5,383.8L1220.0,386.2L1235.0,382.5L1246.2,377.5L1250.0,370.0L1245.0,365.0L1250.0,360.0L1260.0,352.5L1267.5,345.0L1275.0,341.2L1277.5,340.0L1307.5,340.5L1346.2,340.0L1350.0,333.8L1355.0,332.5L1362.5,331.2L1365.0,325.0L1372.5,317.5L1373.8,305.0L1378.8,297.5L1382.5,290.0L1390.0,280.0L1396.2,275.5L1400.0,276.2L1402.5,282.5L1415.0,277.5L1422.5,281.2L1427.5,286.2L1427.0,320.0L1432.5,325.0L1433.8,335.0L1440.0,337.5L1443.0,346.2L1435.0,351.2L1425.0,353.8L1420.0,357.5L1412.5,356.2L1406.2,360.0L1403.8,353.8L1398.8,360.0L1396.2,366.2L1387.5,370.0L1382.5,375.0L1375.0,375.0L1370.0,382.5L1365.0,387.5L1361.2,393.8L1360.4,396.1L1363.5,399.9L1365.0,403.7L1358.9,409.1L1357.4,412.1L1362.0,413.6L1366.5,418.2L1368.8,423.5L1374.1,425.8L1379.5,425.1L1381.0,420.5L1377.2,416.7L1381.0,420.5L1380.2,426.6L1374.1,428.1L1368.8,429.6L1365.0,432.7L1358.9,431.2L1354.3,429.6L1349.8,431.5L1342.1,435.7L1329.9,436.9L1317.7,438.0L1304.8,443.4L1316.2,442.6L1341.4,443.4L1339.1,445.3L1316.2,450.2L1301.0,453.3L1299.5,447.2L1292.1,456.1L1294.8,459.7L1296.6,466.9L1294.8,475.9L1291.2,484.8L1284.0,493.8L1278.7,500.1L1275.1,500.1L1269.7,493.8L1266.1,486.6L1262.5,480.4L1264.3,488.4L1267.9,497.4L1273.3,506.4L1274.2,511.7L1273.3,518.9L1267.9,527.9L1262.5,533.3L1258.9,540.4L1255.3,549.4L1253.5,540.4L1257.1,526.1L1255.3,518.9L1249.1,515.3L1251.7,510.0L1250.9,501.0L1249.1,493.8L1251.7,486.6L1258.9,480.4L1248.2,486.6L1241.0,492.0L1241.9,501.0L1240.1,511.7L1242.8,517.1L1239.2,522.5L1246.4,529.7L1241.0,536.9L1250.0,544.0L1250.9,552.1L1254.4,554.8L1255.3,556.6L1257.1,563.4L1259.8,572.7L1263.4,583.5L1264.3,588.9L1265.0,591.2L1260.0,597.5L1250.0,605.0L1246.2,612.5L1235.0,617.5L1220.0,627.5L1207.5,632.5L1195.0,640.0L1185.0,650.0L1172.5,660.0L1160.0,672.5L1150.0,680.0L1145.0,690.0L1140.0,705.0L1137.5,717.5L1140.0,735.0L1147.5,755.0L1155.0,772.5L1160.0,786.5L1166.2,809.0L1168.8,826.5L1167.5,846.5L1162.5,856.5L1152.5,864.0L1145.0,862.8L1143.8,856.5L1137.5,844.0L1130.0,834.0L1123.8,821.5L1120.0,811.5L1115.0,801.5L1110.0,791.5L1112.5,774.0L1111.2,764.0L1105.0,751.5L1097.5,741.5L1087.5,734.5L1077.5,737.8L1067.5,741.5L1055.0,742.8L1051.2,734.0L1042.5,725.2L1037.5,722.5L1025.0,723.8L1012.5,726.2L1000.0,728.8L992.0,727.5L980.0,726.2L971.2,728.8L966.2,730.0L962.5,735.0L972.5,737.5L975.0,745.0L968.8,750.0L977.5,757.5L972.5,762.5L965.0,755.0L957.5,760.0L950.0,757.5L940.0,760.0L932.5,755.0L922.5,747.5L912.5,746.2L900.0,742.5L887.5,741.2L876.2,740.0L865.0,744.0L856.2,744.0L852.5,751.5L842.5,760.2L830.0,767.8L817.5,774.0L807.5,784.0L802.5,794.0L795.0,805.2L800.0,804.0L800.0,816.5L805.0,829.0L807.5,841.5L800.0,844.0L787.5,840.2L777.5,836.5L766.2,831.5L760.0,819.0L757.5,806.5L750.0,794.0L740.0,779.0L732.5,761.5L725.0,749.0L712.5,741.2L697.5,742.5L690.0,750.0L685.0,760.0L678.8,764.5L670.0,758.8L660.0,752.5L652.5,745.0L648.8,735.0L645.0,725.0L640.0,717.5L630.0,710.0L620.0,702.5L612.5,692.5L608.8,685.0L608.8,688.8L574.2,688.8L574.2,701.2L557.5,701.2L515.0,701.2L435.0,670.0L440.0,663.8L386.2,670.0L385.0,660.0L380.0,650.0L370.0,640.0L360.0,636.2L355.0,631.2L345.0,627.5L335.0,620.0L325.0,617.5L315.0,615.0L312.5,610.0L315.0,610.0L312.5,602.5L307.5,595.0L300.0,585.0L292.5,575.0L286.2,562.5L287.5,557.5L282.5,550.0L275.0,540.0L277.5,530.0L272.5,525.0L265.0,520.0L257.5,510.0L250.0,500.0L246.2,487.5L242.5,476.2L236.2,466.2L233.8,460.0L237.5,447.5L240.0,437.5L238.8,425.0L235.0,418.8L233.8,410.0L231.2,397.5L233.8,390.0L237.5,380.0L240.0,360.0L242.5,335.0L243.0,315.0L243.0,305.9L242.4,301.2L245.2,295.6L242.4,291.1L246.0,288.5L240.0,285.5L237.4,279.9L235.1,272.1L231.2,265.4L227.3,258.6Z"/>
<path class="b" d="M243.0,305.9L248.0,305.7L253.6,307.2L259.2,309.1L263.7,312.4L267.1,318.0L267.0,320.0L271.2,325.0L277.5,326.2L286.2,322.5L296.2,321.2L301.2,323.8L310.0,323.0L322.5,320.0L335.0,317.0L350.0,315.0L362.5,313.8L389.2,313.2M389.2,235.0L389.2,313.2L397.5,317.5L400.0,325.0L397.5,335.0L392.5,345.0L386.2,351.2L383.8,360.0L388.8,363.8L389.2,370.0L389.2,418.8M409.5,235.0L409.5,261.2L412.5,266.2L415.5,275.0L421.2,278.8L427.5,285.0L433.8,291.2L438.8,296.2L445.8,297.5L444.5,310.0L442.0,317.5L440.5,326.2L446.2,328.8L452.5,322.5L457.5,328.8L461.2,337.5L465.0,342.5L470.0,347.5L472.5,355.0L476.2,357.5L480.0,354.5L492.5,353.8L506.2,352.5L508.8,347.5L514.5,355.0M235.0,418.8L514.5,418.8M514.5,340.8L662.0,340.8M514.5,340.8L514.5,446.2M514.5,446.2L705.0,446.2M662.0,235.0L662.0,446.2M662.0,316.2L820.8,316.2M662.0,393.8L778.8,393.8L787.5,398.8L797.5,397.0L807.5,398.8L815.0,402.5L822.5,404.5M807.5,235.0L808.2,255.0L811.2,267.5L814.5,277.5L816.2,292.5L818.8,305.0L820.8,316.2L817.5,323.8L822.5,330.0L823.2,380.0L820.0,382.5L821.2,390.0L819.5,397.5L822.5,404.5L825.0,410.0L828.8,422.5L831.2,433.0L827.5,420.0L831.2,430.0L833.8,442.5L836.2,452.5L838.8,456.2L842.5,472.0L847.5,473.8L853.8,477.5L850.0,485.0L857.5,490.0L861.8,496.2M823.2,380.0L931.2,380.0M910.0,296.8L910.0,312.5L900.0,317.5L897.5,325.0L900.0,335.0L898.8,345.0L902.5,351.2L912.5,357.5L922.5,365.0L928.8,372.5L931.2,380.0L935.0,387.5L937.5,396.2L943.8,403.8L947.5,407.5L951.2,415.0L954.5,422.5L951.2,433.0L956.2,417.5L953.8,425.0L945.0,431.2L937.5,435.0L935.0,442.5L937.5,451.2L930.0,457.5L927.5,466.2L927.0,475.0L932.5,482.5L938.8,490.0L943.8,497.5L947.5,505.0L952.5,508.8L950.0,517.5L957.5,525.0L962.5,532.5L968.8,540.0L972.5,548.8L977.5,550.0L975.0,556.2L968.8,563.0L965.0,570.0L962.5,576.2L960.0,585.0L956.2,595.0L953.8,603.8L950.0,610.0L942.5,620.0L937.5,630.0L936.2,637.5L933.8,647.5L932.5,656.2L936.2,665.0L937.5,675.0L933.8,682.5L930.0,690.0L926.2,697.5L925.0,708.8M925.0,708.8L962.5,708.8L965.0,720.0L966.2,730.0M951.2,299.5L955.0,305.0L965.0,308.2L975.0,311.2L987.5,315.0L997.5,318.0L1002.5,321.2L1005.0,328.8L1008.8,335.0L1007.5,342.5M947.5,407.5L1005.0,407.5M838.8,456.2L925.0,456.2L928.8,461.2L927.5,466.2M705.0,446.2L705.0,551.2M705.0,472.0L842.5,472.0M861.8,496.2L861.8,565.0L865.0,633.0L865.0,638.8M452.0,551.2L861.8,551.2M861.8,565.0L955.0,565.0L951.2,576.2L962.5,576.2M685.0,564.5L748.8,564.5M748.8,564.5L748.8,617.5L752.5,617.5L762.5,621.2L775.0,626.2L790.0,632.5L805.0,636.2L820.0,633.8L832.5,635.0L845.0,632.5L857.5,635.0L866.2,638.8L872.5,642.0L874.2,656.2L874.2,682.5L877.5,690.0L881.2,700.0L882.5,710.0L880.0,720.0L881.2,730.0L876.2,740.0M874.2,656.2L932.5,656.2M685.0,551.2L685.0,683.8M608.8,684.2L683.8,683.8M557.5,446.2L557.5,701.2M452.0,418.8L452.0,572.5L447.5,577.5L440.0,575.0L436.2,580.0L438.8,595.0L443.8,610.0L450.0,625.0L446.2,633.0L450.0,622.5L443.8,628.8L440.0,637.5L436.2,650.0L442.5,657.5L440.0,663.8M326.3,418.8L326.3,500.0L443.8,610.0M975.0,563.0L998.8,563.0L998.8,560.0L1057.5,561.2L1135.0,562.0L1255.0,562.0M953.8,603.8L1097.5,603.8M998.8,603.8L996.2,633.0L990.0,705.0L992.0,727.5M1050.0,603.8L1056.2,633.0L1060.0,655.0L1061.2,672.5L1060.0,685.0L1063.8,697.5L1065.0,716.2M990.0,709.2L1063.8,709.2M1008.8,709.2L1010.0,717.5L1005.0,725.5M1065.0,716.2L1123.8,721.2L1125.0,727.5L1130.0,715.0L1137.5,716.2M1135.0,562.0L1122.5,572.5L1110.0,582.5L1095.0,590.0L1082.5,597.5L1078.8,603.8M1097.5,603.8L1097.5,610.0L1107.5,620.0L1117.5,632.5L1125.0,642.5L1132.5,652.5L1140.0,665.0L1145.0,678.8M1097.5,609.5L1111.2,602.5L1147.5,601.2L1153.8,608.8L1175.0,609.5L1200.0,630.0L1207.5,632.5M1011.2,425.0L1010.0,497.5L1007.5,507.5L1002.5,515.0L1000.0,523.8L997.5,530.0M977.5,550.0L980.0,545.0L990.0,542.5L995.0,532.5L998.8,528.8L1007.5,526.2L1015.0,528.8L1025.0,526.2L1032.5,520.0L1040.0,522.5L1047.5,517.5L1052.5,510.0L1060.0,506.2L1067.5,503.8L1070.0,496.2L1080.0,502.5L1090.0,507.5L1100.0,506.2L1107.5,508.8L1112.5,515.0L1117.5,510.0L1122.5,505.0L1125.0,498.8L1135.0,490.0L1142.5,485.0L1147.5,477.5L1152.5,467.5L1155.0,457.5L1158.2,447.5M1068.8,425.0L1068.8,496.2M1011.2,425.0L1068.8,425.0L1100.0,426.2M1112.5,515.0L1116.2,527.5L1122.5,537.5L1130.0,545.0L1122.5,547.5L1110.0,555.0L1097.5,561.2M1130.0,545.0L1145.0,545.0L1160.0,537.5L1167.5,527.5L1175.0,515.0L1182.5,505.0L1192.5,492.5L1200.0,487.5L1207.5,485.0L1215.0,495.0L1225.0,500.0L1235.0,505.0M1158.2,415.0L1158.2,478.8L1259.8,478.6M1172.5,413.8L1172.5,418.8L1267.5,418.8M1266.7,418.6L1272.0,425.8L1275.8,435.0L1273.5,441.8L1270.5,447.9L1269.7,458.0L1277.8,440.0L1273.3,445.4L1269.7,452.6L1273.3,459.7L1280.4,466.9L1278.7,471.4L1269.7,475.9L1262.5,480.4M1275.8,435.0L1298.7,446.4M1181.2,478.8L1181.2,487.5L1192.5,485.0L1202.5,482.5L1210.0,485.0L1215.0,495.0M1235.0,505.0L1216.8,488.4L1221.3,493.8L1228.4,497.4L1233.8,501.0L1231.1,506.4L1225.7,511.7L1227.5,516.2L1233.8,517.1L1242.8,522.5M1259.8,478.6L1259.8,515.3L1271.5,515.3M1259.8,515.3L1264.3,520.7L1267.9,527.9M1307.5,340.5L1307.5,350.0L1306.2,365.0L1310.0,380.0L1308.8,400.0L1311.6,390.0L1308.6,405.2L1306.3,416.7L1304.8,428.1L1304.8,443.4M1346.2,340.0L1347.5,350.0L1340.0,357.5L1336.2,360.0L1333.8,370.0L1328.8,380.0L1327.5,390.0L1325.0,401.2M1355.0,332.5L1357.5,360.0L1360.0,385.0L1361.2,393.8M1311.6,401.1L1352.8,401.1L1360.4,396.1M1306.3,419.0L1351.3,419.0L1349.8,428.1L1354.3,429.6M1342.1,419.0L1342.1,435.7"/>
<path class="b" style="stroke-width:6" d="M1369.6,424.3L1374.1,426.2L1379.5,425.2L1381.2,420.6L1377.6,416.8L1374.5,418.0"/>
<path class="b" style="stroke-width:7" d="M1350.5,428.1L1353.6,430.4L1354.3,432.3"/>
<path class="b" style="stroke-width:5" d="M1357.4,411.7L1361.2,413.6"/>
<path class="b" style="stroke-width:9" d="M269.3,241.8L264.8,245.7L270.4,250.2L273.8,255.8L276.1,260.9L272.7,266.5L268.2,269.8L264.3,275.4L263.7,282.2L266.5,285.0L270.4,282.2L274.4,277.1L275.5,269.8"/>
<path class="b" style="stroke-width:7" d="M262.6,245.7L267.1,244.6"/>
<path class="b" style="stroke-width:6" d="M272.7,242.9L274.9,247.4L274.4,253.0"/>
<path class="b" style="stroke-width:6" d="M277.2,260.9L280.0,261.4"/>
<path class="b" style="stroke-width:5" d="M240.7,286.1L246.3,288.7"/>
<path class="b" style="stroke-width:5" d="M242.4,295.1L246.3,296.2"/>
<path class="b" style="stroke-width:7" d="M274.0,522.0L279.5,525.5L278.5,533.0L283.5,538.0"/>
<path class="b" style="stroke-width:5" d="M1050.0,336.2L1053.8,342.5L1051.2,347.0"/>
<path class="b" style="stroke-width:4" d="M1000.0,353.0L1012.5,340.5L1022.5,332.5"/>
<path class="b" style="stroke-width:4" d="M1020.0,320.0L1032.5,318.0"/>
<path class="b" style="stroke-width:6" d="M1362.0,438.8L1369.6,435.7"/>
<path class="b" style="stroke-width:7" d="M1375.7,438.8L1380.2,438.0"/>
<path class="b" style="stroke-width:4.5" d="M1301.0,451.0L1316.2,447.9L1340.6,444.3"/>
<path class="b" style="stroke-width:4" d="M1233.8,524.3L1242.8,529.7L1237.4,533.3L1246.4,537.8L1233.8,544.0L1242.8,547.6L1250.0,551.2"/>
<path class="b" style="stroke-width:4" d="M1241.9,493.8L1245.5,501.0L1243.7,511.7"/>
<path class="b" style="stroke-width:4" d="M1239.2,569.1L1251.7,572.7L1244.6,579.9L1255.3,583.5L1239.2,592.5L1251.7,594.3"/>
<path class="b" style="stroke-width:4" d="M951.2,732.5L956.2,727.5L962.5,732.5L956.2,733.8L951.2,732.5"/>
<path class="b" style="stroke-width:5" d="M1108.8,786.5L1115.0,791.5L1113.8,799.0"/>
<path class="b" style="stroke-width:4" d="M1120.0,816.5L1125.0,821.5L1122.5,829.0"/>
<path class="b" style="stroke-width:4" d="M792.5,805.2L798.8,809.0"/>
<path class="b" style="stroke-width:4" d="M815.0,771.5L825.0,769.0"/>
<path class="b" style="stroke-width:4" d="M852.5,744.0L857.5,740.2"/>
<text class="t ttl" x="836.6" y="57">Pine tree lappet moth: Earliest date of 1st gen. pupal</text>
<text class="t ttl" x="836.6" y="97">development w/ climate stress exclusion 2026</text>
<text class="t sub" x="836.9" y="147.7">Maps and modeling 01/09/2026 by Oregon State University IPPC USPEST.ORG and</text>
<text class="t sub" x="836.9" y="181.5">USDA-APHIS-PPQ; climate data from OSU PRISM Climate Group</text>
<text class="t lt" x="1487" y="323.0">Earliest</text>
<text class="t lt" x="1487" y="351.0">date of 1st</text>
<text class="t lt" x="1487" y="379.0">gen. pupal</text>
<text class="t lt" x="1487" y="407.0">development</text>
<rect x="1487" y="421.00" width="25" height="25.75" fill="#4d4d4d"/><text class="ll" transform="translate(1522.8,440.4) scale(1.077,1)">excl.-sev.</text>
<rect x="1487" y="446.45" width="25" height="25.75" fill="#ccff00"/><text class="ll" transform="translate(1522.8,465.8) scale(1.077,1)">Apr-23</text>
<rect x="1487" y="471.90" width="25" height="25.75" fill="#a3f000"/><text class="ll" transform="translate(1522.8,491.3) scale(1.077,1)">Apr-30</text>
<rect x="1487" y="497.35" width="25" height="25.75" fill="#ffff00"/><text class="ll" transform="translate(1522.8,516.8) scale(1.077,1)">May-08</text>
<rect x="1487" y="522.80" width="25" height="25.75" fill="#dddb00"/><text class="ll" transform="translate(1522.8,542.2) scale(1.077,1)">May-14</text>
<rect x="1487" y="548.25" width="25" height="25.75" fill="#bbb000"/><text class="ll" transform="translate(1522.8,567.6) scale(1.077,1)">May-21</text>
<rect x="1487" y="573.70" width="25" height="25.75" fill="#99850f"/><text class="ll" transform="translate(1522.8,593.1) scale(1.077,1)">May-28</text>
<rect x="1487" y="599.15" width="25" height="25.75" fill="#fdd890"/><text class="ll" transform="translate(1522.8,618.5) scale(1.077,1)">Jun-04</text>
<rect x="1487" y="624.60" width="25" height="25.75" fill="#fdc070"/><text class="ll" transform="translate(1522.8,644.0) scale(1.077,1)">Jun-11</text>
<rect x="1487" y="650.05" width="25" height="25.75" fill="#fda850"/><text class="ll" transform="translate(1522.8,669.4) scale(1.077,1)">Jun-18</text>
<rect x="1487" y="675.50" width="25" height="25.75" fill="#fd9030"/><text class="ll" transform="translate(1522.8,694.9) scale(1.077,1)">Jun-25</text>
<rect x="1487" y="700.95" width="25" height="25.75" fill="#f4cccc"/><text class="ll" transform="translate(1522.8,720.4) scale(1.077,1)">Jul-02</text>
<rect x="1487" y="726.40" width="25" height="25.75" fill="#f49999"/><text class="ll" transform="translate(1522.8,745.8) scale(1.077,1)">Jul-09</text>
<rect x="1487" y="751.85" width="25" height="25.75" fill="#f46666"/><text class="ll" transform="translate(1522.8,771.2) scale(1.077,1)">Jul-16</text>
<rect x="1487" y="777.30" width="25" height="25.75" fill="#f83333"/><text class="ll" transform="translate(1522.8,796.7) scale(1.077,1)">Jul-23</text>
<rect x="1635" y="421.00" width="25" height="25.75" fill="#ff0000"/><text class="ll" transform="translate(1670.8,440.4) scale(1.077,1)">Jul-30</text>
<rect x="1635" y="446.45" width="25" height="25.75" fill="#e6b8af"/><text class="ll" transform="translate(1670.8,465.8) scale(1.077,1)">Aug-06</text>
<rect x="1635" y="471.90" width="25" height="25.75" fill="#cc8f85"/><text class="ll" transform="translate(1670.8,491.3) scale(1.077,1)">Aug-13</text>
<rect x="1635" y="497.35" width="25" height="25.75" fill="#b36b5e"/><text class="ll" transform="translate(1670.8,516.8) scale(1.077,1)">Aug-20</text>
<rect x="1635" y="522.80" width="25" height="25.75" fill="#9a4534"/><text class="ll" transform="translate(1670.8,542.2) scale(1.077,1)">Aug-27</text>
<rect x="1635" y="548.25" width="25" height="25.75" fill="#ffb0dd"/><text class="ll" transform="translate(1670.8,567.6) scale(1.077,1)">Sep-03</text>
<rect x="1635" y="573.70" width="25" height="25.75" fill="#ff85e0"/><text class="ll" transform="translate(1670.8,593.1) scale(1.077,1)">Sep-10</text>
<rect x="1635" y="599.15" width="25" height="25.75" fill="#ff5aea"/><text class="ll" transform="translate(1670.8,618.5) scale(1.077,1)">Sep-17</text>
<rect x="1635" y="624.60" width="25" height="25.75" fill="#ff30f0"/><text class="ll" transform="translate(1670.8,644.0) scale(1.077,1)">Sep-24</text>
<rect x="1635" y="650.05" width="25" height="25.75" fill="#e0c0e8"/><text class="ll" transform="translate(1670.8,669.4) scale(1.077,1)">Oct-01</text>
<rect x="1635" y="675.50" width="25" height="25.75" fill="#c898d8"/><text class="ll" transform="translate(1670.8,694.9) scale(1.077,1)">Oct-08</text>
<rect x="1635" y="700.95" width="25" height="25.75" fill="#b070c8"/><text class="ll" transform="translate(1670.8,720.4) scale(1.077,1)">Oct-15</text>
<rect x="1635" y="726.40" width="25" height="25.75" fill="#9c48b8"/><text class="ll" transform="translate(1670.8,745.8) scale(1.077,1)">Oct-22</text>
<rect x="1635" y="751.85" width="25" height="25.75" fill="#8820a8"/><text class="ll" transform="translate(1670.8,771.2) scale(1.077,1)">Oct-29</text>
<rect x="1635" y="777.30" width="25" height="25.75" fill="#b3ecff"/><text class="ll" transform="translate(1670.8,796.7) scale(1.077,1)">Nov-05</text>
<rect x="1759" y="421.00" width="26" height="25.75" fill="#87d7f0"/><text class="ll" transform="translate(1796.3,440.4) scale(1.077,1)">Nov-12</text>
<rect x="1759" y="446.45" width="26" height="25.75" fill="#5abde6"/><text class="ll" transform="translate(1796.3,465.8) scale(1.077,1)">Nov-19</text>
<rect x="1759" y="471.90" width="26" height="25.75" fill="#2ca5db"/><text class="ll" transform="translate(1796.3,491.3) scale(1.077,1)">Nov-26</text>
<rect x="1759" y="497.35" width="26" height="25.75" fill="#a0c4e8"/><text class="ll" transform="translate(1796.3,516.8) scale(1.077,1)">Dec-03</text>
<rect x="1759" y="522.80" width="26" height="25.75" fill="#7890e8"/><text class="ll" transform="translate(1796.3,542.2) scale(1.077,1)">Dec-10</text>
<rect x="1759" y="548.25" width="26" height="25.75" fill="#5060f0"/><text class="ll" transform="translate(1796.3,567.6) scale(1.077,1)">Dec-17</text>
<rect x="1759" y="573.70" width="26" height="25.75" fill="#2830f8"/><text class="ll" transform="translate(1796.3,593.1) scale(1.077,1)">Dec-24</text>
<rect x="1759" y="599.15" width="26" height="25.75" fill="#0000ff"/><text class="ll" transform="translate(1796.3,618.5) scale(1.077,1)">Dec-31</text>
</svg></body></html>
